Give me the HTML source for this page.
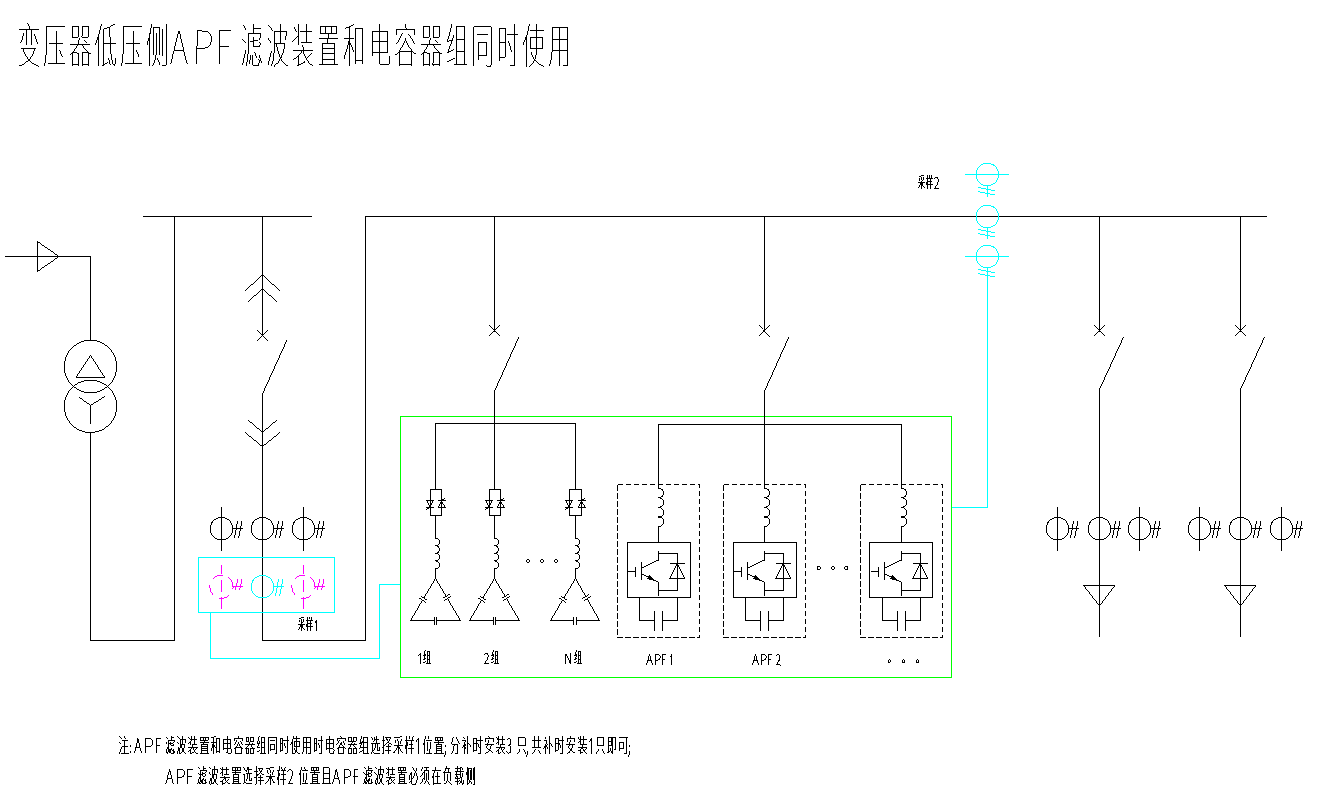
<!DOCTYPE html>
<html><head><meta charset="utf-8"><title>APF</title>
<style>html,body{margin:0;padding:0;background:#fff;font-family:"Liberation Sans",sans-serif}svg{display:block}</style>
</head><body>
<svg width="1323" height="811" viewBox="0 0 1323 811" shape-rendering="crispEdges" stroke="none">
<rect width="1323" height="811" fill="#fff"/>
<path fill="#0f0" d="M400 416h552v1h-552zM951 416h1v262h-1zM400 677h552v1h-552zM400 416h1v262h-1z"/>
<path fill="#000" d="M143 216h169v1h-169zM365 216h902v1h-902zM5 256h86v1h-86zM90 256h1v85h-1zM37 241h1v31h-1zM37.3 271.1l21.9-15.2v1l-21.9 15.2zM37.3 240.9l21.9 15.2v1l-21.9-15.2zM116.2 366.3h1l-0.1 2.6h-1zM116.1 368.5h1l-0.3 2.6h-1zM115.9 370.7h1l-0.6 2.6h-1zM115.4 372.9h1l-0.8 2.5h-1zM114.8 375h1l-1 2.5h-1zM114 377.1h1l-1.2 2.4h-1zM113 379.1h1l-1.4 2.3h-1zM111.9 381h1l-1.7 2.2h-1zM110.6 382.8h1l-1.9 2h-1zM107.6 385.9l2-2v1l-2 2zM105.9 387.2l2.1-1.7v1l-2.1 1.7zM104 388.4l2.3-1.5v1l-2.3 1.5zM102.1 389.5l2.3-1.3v1l-2.3 1.3zM100.1 390.4l2.4-1.1v1l-2.4 1.1zM98 391.1l2.5-0.9v1l-2.5 0.9zM95.8 391.7l2.6-0.7v1l-2.6 0.7zM93.6 392l2.6-0.4v1l-2.6 0.4zM91.4 392.2l2.6-0.2v1l-2.6 0.2zM89.1 392.2h2.8v1h-2.8zM87 392l2.6 0.2v1l-2.6-0.2zM84.8 391.6l2.6 0.4v1l-2.6-0.4zM82.6 391l2.6 0.7v1l-2.6-0.7zM80.5 390.2l2.5 0.9v1l-2.5-0.9zM78.5 389.3l2.4 1.1v1l-2.4-1.1zM76.6 388.2l2.3 1.3v1l-2.3-1.3zM74.7 386.9l2.3 1.5v1l-2.3-1.5zM73 385.5l2.1 1.7v1l-2.1-1.7zM71.4 383.9l2 2v1l-2-2zM69.4 382.8h1l1.9 2h-1zM68.1 381h1l1.7 2.2h-1zM67 379.1h1l1.4 2.3h-1zM66 377.1h1l1.2 2.4h-1zM65.2 375h1l1 2.5h-1zM64.6 372.9h1l0.8 2.5h-1zM64.1 370.7h1l0.6 2.6h-1zM63.9 368.5h1l0.3 2.6h-1zM63.8 366.3h1l0.1 2.6h-1zM63.9 364.1h1l-0.1 2.6h-1zM64.2 361.9h1l-0.3 2.6h-1zM64.7 359.7h1l-0.6 2.6h-1zM65.4 357.6h1l-0.8 2.5h-1zM66.2 355.5h1l-1 2.5h-1zM67.2 353.5h1l-1.2 2.4h-1zM68.4 351.6h1l-1.4 2.3h-1zM69.8 349.8h1l-1.7 2.2h-1zM71.3 348.2h1l-1.9 2h-1zM71.4 348.1l2-2v1l-2 2zM73 346.5l2.1-1.7v1l-2.1 1.7zM74.7 345.1l2.3-1.5v1l-2.3 1.5zM76.6 343.8l2.3-1.3v1l-2.3 1.3zM78.5 342.7l2.4-1.1v1l-2.4 1.1zM80.5 341.8l2.5-0.9v1l-2.5 0.9zM82.6 341l2.6-0.7v1l-2.6 0.7zM84.8 340.4l2.6-0.4v1l-2.6 0.4zM87 340l2.6-0.2v1l-2.6 0.2zM89.1 339.8h2.8v1h-2.8zM91.4 339.8l2.6 0.2v1l-2.6-0.2zM93.6 340l2.6 0.4v1l-2.6-0.4zM95.8 340.3l2.6 0.7v1l-2.6-0.7zM98 340.9l2.5 0.9v1l-2.5-0.9zM100.1 341.6l2.4 1.1v1l-2.4-1.1zM102.1 342.5l2.3 1.3v1l-2.3-1.3zM104 343.6l2.3 1.5v1l-2.3-1.5zM105.9 344.8l2.1 1.7v1l-2.1-1.7zM107.6 346.1l2 2v1l-2-2zM108.7 348.2h1l1.9 2h-1zM110.2 349.8h1l1.7 2.2h-1zM111.6 351.6h1l1.4 2.3h-1zM112.8 353.5h1l1.2 2.4h-1zM113.8 355.5h1l1 2.5h-1zM114.6 357.6h1l0.8 2.5h-1zM115.3 359.7h1l0.6 2.6h-1zM115.8 361.9h1l0.3 2.6h-1zM116.1 364.1h1l0.1 2.6h-1zM116.2 406.1h1l-0.1 2.6h-1zM116.1 408.3h1l-0.3 2.6h-1zM115.9 410.5h1l-0.6 2.6h-1zM115.4 412.7h1l-0.8 2.5h-1zM114.8 414.8h1l-1 2.5h-1zM114 416.9h1l-1.2 2.4h-1zM113 418.9h1l-1.4 2.3h-1zM111.9 420.8h1l-1.7 2.2h-1zM110.6 422.6h1l-1.9 2h-1zM107.6 425.7l2-2v1l-2 2zM105.9 427l2.1-1.7v1l-2.1 1.7zM104 428.2l2.3-1.5v1l-2.3 1.5zM102.1 429.3l2.3-1.3v1l-2.3 1.3zM100.1 430.2l2.4-1.1v1l-2.4 1.1zM98 430.9l2.5-0.9v1l-2.5 0.9zM95.8 431.5l2.6-0.7v1l-2.6 0.7zM93.6 431.8l2.6-0.4v1l-2.6 0.4zM91.4 432l2.6-0.2v1l-2.6 0.2zM89.1 432h2.8v1h-2.8zM87 431.8l2.6 0.2v1l-2.6-0.2zM84.8 431.4l2.6 0.4v1l-2.6-0.4zM82.6 430.8l2.6 0.7v1l-2.6-0.7zM80.5 430l2.5 0.9v1l-2.5-0.9zM78.5 429.1l2.4 1.1v1l-2.4-1.1zM76.6 428l2.3 1.3v1l-2.3-1.3zM74.7 426.7l2.3 1.5v1l-2.3-1.5zM73 425.3l2.1 1.7v1l-2.1-1.7zM71.4 423.7l2 2v1l-2-2zM69.4 422.6h1l1.9 2h-1zM68.1 420.8h1l1.7 2.2h-1zM67 418.9h1l1.4 2.3h-1zM66 416.9h1l1.2 2.4h-1zM65.2 414.8h1l1 2.5h-1zM64.6 412.7h1l0.8 2.5h-1zM64.1 410.5h1l0.6 2.6h-1zM63.9 408.3h1l0.3 2.6h-1zM63.8 406.1h1l0.1 2.6h-1zM63.9 403.9h1l-0.1 2.6h-1zM64.2 401.7h1l-0.3 2.6h-1zM64.7 399.5h1l-0.6 2.6h-1zM65.4 397.4h1l-0.8 2.5h-1zM66.2 395.3h1l-1 2.5h-1zM67.2 393.3h1l-1.2 2.4h-1zM68.4 391.4h1l-1.4 2.3h-1zM69.8 389.6h1l-1.7 2.2h-1zM71.3 388h1l-1.9 2h-1zM71.4 387.9l2-2v1l-2 2zM73 386.3l2.1-1.7v1l-2.1 1.7zM74.7 384.9l2.3-1.5v1l-2.3 1.5zM76.6 383.6l2.3-1.3v1l-2.3 1.3zM78.5 382.5l2.4-1.1v1l-2.4 1.1zM80.5 381.6l2.5-0.9v1l-2.5 0.9zM82.6 380.8l2.6-0.7v1l-2.6 0.7zM84.8 380.2l2.6-0.4v1l-2.6 0.4zM87 379.8l2.6-0.2v1l-2.6 0.2zM89.1 379.6h2.8v1h-2.8zM91.4 379.6l2.6 0.2v1l-2.6-0.2zM93.6 379.8l2.6 0.4v1l-2.6-0.4zM95.8 380.1l2.6 0.7v1l-2.6-0.7zM98 380.7l2.5 0.9v1l-2.5-0.9zM100.1 381.4l2.4 1.1v1l-2.4-1.1zM102.1 382.3l2.3 1.3v1l-2.3-1.3zM104 383.4l2.3 1.5v1l-2.3-1.5zM105.9 384.6l2.1 1.7v1l-2.1-1.7zM107.6 385.9l2 2v1l-2-2zM108.7 388h1l1.9 2h-1zM110.2 389.6h1l1.7 2.2h-1zM111.6 391.4h1l1.4 2.3h-1zM112.8 393.3h1l1.2 2.4h-1zM113.8 395.3h1l1 2.5h-1zM114.6 397.4h1l0.8 2.5h-1zM115.3 399.5h1l0.6 2.6h-1zM115.8 401.7h1l0.3 2.6h-1zM116.1 403.9h1l0.1 2.6h-1zM90.1 355.1h1l-14.7 22.6h-1zM75.5 377h29.8v1h-29.8zM89.9 355.1h1l14.5 22.6h-1zM78.8 396.4l11.9 8.7v1l-11.9-8.7zM90.3 405.1l14.9-9.3v1l-14.9 9.3zM90 405h1v19.2h-1zM90 431.8h1v209.2h-1zM90 640h85v1h-85zM174 216h1v425h-1zM262 216h1v119.5h-1zM256.7 328.9l11.6 11.6v1l-11.6-11.6zM256.7 340.5l11.6-11.6v1l-11.6 11.6zM244.8 290.5l17.9-16.2v1l-17.9 16.2zM262.3 274.3l17.9 16.2v1l-17.9-16.2zM247.8 301.3l14.9-13v1l-14.9 13zM262.3 288.3l14.9 13v1l-14.9-13zM286.6 339.8h1l-24.7 54.4h-1zM262 393.5h1v247.5h-1zM262 640h104v1h-104zM365 216h1v425h-1zM247.8 419.3l14.9 12.8v1l-14.9-12.8zM262.3 432.1l14.9-12.8v1l-14.9 12.8zM244.8 431.7l17.9 14.6v1l-17.9-14.6zM262.3 446.3l17.9-14.6v1l-17.9 14.6zM232.3 528.5h1l-0.2 2.6h-1zM232.1 530.7h1l-0.7 2.5h-1zM231.5 532.8h1l-1.2 2.4h-1zM230.6 534.8h1l-1.8 2.1h-1zM227.6 537.8l2.1-1.8v1l-2.1 1.8zM225.6 538.7l2.4-1.2v1l-2.4 1.2zM223.5 539.3l2.5-0.7v1l-2.5 0.7zM221.3 539.5l2.6-0.2v1l-2.6 0.2zM219.1 539.3l2.6 0.2v1l-2.6-0.2zM217 538.6l2.5 0.7v1l-2.5-0.7zM215 537.5l2.4 1.2v1l-2.4-1.2zM213.3 536l2.1 1.8v1l-2.1-1.8zM211.4 534.8h1l1.8 2.1h-1zM210.5 532.8h1l1.2 2.4h-1zM209.9 530.7h1l0.7 2.5h-1zM209.7 528.5h1l0.2 2.6h-1zM209.9 526.3h1l-0.2 2.6h-1zM210.6 524.2h1l-0.7 2.5h-1zM211.7 522.2h1l-1.2 2.4h-1zM213.2 520.5h1l-1.8 2.1h-1zM213.3 520.4l2.1-1.8v1l-2.1 1.8zM215 518.9l2.4-1.2v1l-2.4 1.2zM217 517.8l2.5-0.7v1l-2.5 0.7zM219.1 517.1l2.6-0.2v1l-2.6 0.2zM221.3 516.9l2.6 0.2v1l-2.6-0.2zM223.5 517.1l2.5 0.7v1l-2.5-0.7zM225.6 517.7l2.4 1.2v1l-2.4-1.2zM227.6 518.6l2.1 1.8v1l-2.1-1.8zM228.8 520.5h1l1.8 2.1h-1zM230.3 522.2h1l1.2 2.4h-1zM231.4 524.2h1l0.7 2.5h-1zM232.1 526.3h1l0.2 2.6h-1zM221 506.5h1v44h-1zM232.3 528h10.7v1h-10.7zM237.2 520.8h1l-3.2 17.1h-1zM241.4 520.8h1l-3.2 17.1h-1zM273.3 528.5h1l-0.2 2.6h-1zM273.1 530.7h1l-0.7 2.5h-1zM272.5 532.8h1l-1.2 2.4h-1zM271.6 534.8h1l-1.8 2.1h-1zM268.6 537.8l2.1-1.8v1l-2.1 1.8zM266.6 538.7l2.4-1.2v1l-2.4 1.2zM264.5 539.3l2.5-0.7v1l-2.5 0.7zM262.3 539.5l2.6-0.2v1l-2.6 0.2zM260.1 539.3l2.6 0.2v1l-2.6-0.2zM258 538.6l2.5 0.7v1l-2.5-0.7zM256 537.5l2.4 1.2v1l-2.4-1.2zM254.3 536l2.1 1.8v1l-2.1-1.8zM252.4 534.8h1l1.8 2.1h-1zM251.5 532.8h1l1.2 2.4h-1zM250.9 530.7h1l0.7 2.5h-1zM250.7 528.5h1l0.2 2.6h-1zM250.9 526.3h1l-0.2 2.6h-1zM251.6 524.2h1l-0.7 2.5h-1zM252.7 522.2h1l-1.2 2.4h-1zM254.2 520.5h1l-1.8 2.1h-1zM254.3 520.4l2.1-1.8v1l-2.1 1.8zM256 518.9l2.4-1.2v1l-2.4 1.2zM258 517.8l2.5-0.7v1l-2.5 0.7zM260.1 517.1l2.6-0.2v1l-2.6 0.2zM262.3 516.9l2.6 0.2v1l-2.6-0.2zM264.5 517.1l2.5 0.7v1l-2.5-0.7zM266.6 517.7l2.4 1.2v1l-2.4-1.2zM268.6 518.6l2.1 1.8v1l-2.1-1.8zM269.8 520.5h1l1.8 2.1h-1zM271.3 522.2h1l1.2 2.4h-1zM272.4 524.2h1l0.7 2.5h-1zM273.1 526.3h1l0.2 2.6h-1zM273.3 528h10.7v1h-10.7zM278.2 520.8h1l-3.2 17.1h-1zM282.4 520.8h1l-3.2 17.1h-1zM314.3 528.5h1l-0.2 2.6h-1zM314.1 530.7h1l-0.7 2.5h-1zM313.5 532.8h1l-1.2 2.4h-1zM312.6 534.8h1l-1.8 2.1h-1zM309.6 537.8l2.1-1.8v1l-2.1 1.8zM307.6 538.7l2.4-1.2v1l-2.4 1.2zM305.5 539.3l2.5-0.7v1l-2.5 0.7zM303.3 539.5l2.6-0.2v1l-2.6 0.2zM301.1 539.3l2.6 0.2v1l-2.6-0.2zM299 538.6l2.5 0.7v1l-2.5-0.7zM297 537.5l2.4 1.2v1l-2.4-1.2zM295.3 536l2.1 1.8v1l-2.1-1.8zM293.4 534.8h1l1.8 2.1h-1zM292.5 532.8h1l1.2 2.4h-1zM291.9 530.7h1l0.7 2.5h-1zM291.7 528.5h1l0.2 2.6h-1zM291.9 526.3h1l-0.2 2.6h-1zM292.6 524.2h1l-0.7 2.5h-1zM293.7 522.2h1l-1.2 2.4h-1zM295.2 520.5h1l-1.8 2.1h-1zM295.3 520.4l2.1-1.8v1l-2.1 1.8zM297 518.9l2.4-1.2v1l-2.4 1.2zM299 517.8l2.5-0.7v1l-2.5 0.7zM301.1 517.1l2.6-0.2v1l-2.6 0.2zM303.3 516.9l2.6 0.2v1l-2.6-0.2zM305.5 517.1l2.5 0.7v1l-2.5-0.7zM307.6 517.7l2.4 1.2v1l-2.4-1.2zM309.6 518.6l2.1 1.8v1l-2.1-1.8zM310.8 520.5h1l1.8 2.1h-1zM312.3 522.2h1l1.2 2.4h-1zM313.4 524.2h1l0.7 2.5h-1zM314.1 526.3h1l0.2 2.6h-1zM303 506.5h1v44h-1zM314.3 528h10.7v1h-10.7zM319.2 520.8h1l-3.2 17.1h-1zM323.4 520.8h1l-3.2 17.1h-1zM494 216h1v115.5h-1zM488.9 324.9l11.2 11.2v1l-11.2-11.2zM488.9 336.1l11.2-11.2v1l-11.2 11.2zM518.3 337.1h1l-24.4 54.4h-1zM494 390.8h1v99.2h-1zM435 423h1v67h-1zM435 423h141v1h-141zM575 423h1v67h-1zM430 489h12v1h-12zM441 489h1v27h-1zM430 515h12v1h-12zM430 489h1v27h-1zM426 500h8v1h-8zM433.1 500.3h1l-3.7 6.4h-1zM425.9 500.3h1l3.7 6.4h-1zM426 507h8v1h-8zM425.8 509.4l3.9-2.5v1l-3.9 2.5zM438 500h8v1h-8zM441.1 501.3h1l-3.2 6.4h-1zM438 507h8v1h-8zM440.9 501.3h1l4.2 6.4h-1zM442.3 499.6l2.9-2v1l-2.9 2zM435 515h1v23.5h-1zM435.3 537.5l1.4 0.2v1l-1.4-0.2zM436.3 537.6l1.4 0.5v1l-1.4-0.5zM437.3 537.9l1.2 0.9v1l-1.2-0.9zM437.7 538.9h1l0.9 1.2h-1zM438.4 539.7h1l0.6 1.3h-1zM438.8 540.6h1l0.2 1.4h-1zM439 541.6h1l-0.2 1.4h-1zM439 542.6h1l-0.6 1.3h-1zM438.6 543.5h1l-0.9 1.2h-1zM437.3 544.8l1.2-0.9v1l-1.2 0.9zM436.3 545.1l1.4-0.5v1l-1.4 0.5zM435.3 545.2l1.4-0.2v1l-1.4 0.2zM435.3 545.1l1.4 0.2v1l-1.4-0.2zM436.3 545.2l1.4 0.5v1l-1.4-0.5zM437.3 545.5l1.2 0.9v1l-1.2-0.9zM437.7 546.6h1l0.9 1.2h-1zM438.4 547.4h1l0.6 1.3h-1zM438.8 548.3h1l0.2 1.4h-1zM439 549.3h1l-0.2 1.4h-1zM439 550.3h1l-0.6 1.3h-1zM438.6 551.2h1l-0.9 1.2h-1zM437.3 552.4l1.2-0.9v1l-1.2 0.9zM436.3 552.7l1.4-0.5v1l-1.4 0.5zM435.3 552.8l1.4-0.2v1l-1.4 0.2zM435.3 552.8l1.4 0.2v1l-1.4-0.2zM436.3 552.9l1.4 0.5v1l-1.4-0.5zM437.3 553.2l1.2 0.9v1l-1.2-0.9zM437.7 554.2h1l0.9 1.2h-1zM438.4 555h1l0.6 1.3h-1zM438.8 555.9h1l0.2 1.4h-1zM439 556.9h1l-0.2 1.4h-1zM439 557.9h1l-0.6 1.3h-1zM438.6 558.8h1l-0.9 1.2h-1zM437.3 560.1l1.2-0.9v1l-1.2 0.9zM436.3 560.4l1.4-0.5v1l-1.4 0.5zM435.3 560.5l1.4-0.2v1l-1.4 0.2zM435.3 560.4l1.4 0.2v1l-1.4-0.2zM436.3 560.5l1.4 0.5v1l-1.4-0.5zM437.3 560.8l1.2 0.9v1l-1.2-0.9zM437.7 561.9h1l0.9 1.2h-1zM438.4 562.7h1l0.6 1.3h-1zM438.8 563.6h1l0.2 1.4h-1zM439 564.6h1l-0.2 1.4h-1zM439 565.6h1l-0.6 1.3h-1zM438.6 566.5h1l-0.9 1.2h-1zM437.3 567.7l1.2-0.9v1l-1.2 0.9zM436.3 568l1.4-0.5v1l-1.4 0.5zM435.3 568.1l1.4-0.2v1l-1.4 0.2zM435 568.1h1v10.9h-1zM410 620h25v1h-25zM436 620h25v1h-25zM434 616.5h1v8h-1zM436 616.5h1v8h-1zM435.1 578.3h1l-11.9 20h-1zM422.2 600h1l-12.3 20.7h-1zM420.5 595.6l6.7 4v1l-6.7-4zM419.2 597.7l6.7 4.1v1l-6.7-4.1zM434.9 578.3h1l10.9 18.3h-1zM446.8 598.3h1l13.3 22.4h-1zM442.8 597.9l6.7-4v1l-6.7 4zM444 600l6.8-4v1l-6.8 4zM489 489h12v1h-12zM500 489h1v27h-1zM489 515h12v1h-12zM489 489h1v27h-1zM485 500h8v1h-8zM492.1 500.3h1l-3.7 6.4h-1zM484.9 500.3h1l3.7 6.4h-1zM485 507h8v1h-8zM484.8 509.4l3.9-2.5v1l-3.9 2.5zM497 500h8v1h-8zM500.1 501.3h1l-3.2 6.4h-1zM497 507h8v1h-8zM499.9 501.3h1l4.2 6.4h-1zM501.3 499.6l2.9-2v1l-2.9 2zM494 515h1v23.5h-1zM494.3 537.5l1.4 0.2v1l-1.4-0.2zM495.3 537.6l1.4 0.5v1l-1.4-0.5zM496.3 537.9l1.2 0.9v1l-1.2-0.9zM496.7 538.9h1l0.9 1.2h-1zM497.4 539.7h1l0.6 1.3h-1zM497.8 540.6h1l0.2 1.4h-1zM498 541.6h1l-0.2 1.4h-1zM498 542.6h1l-0.6 1.3h-1zM497.6 543.5h1l-0.9 1.2h-1zM496.3 544.8l1.2-0.9v1l-1.2 0.9zM495.3 545.1l1.4-0.5v1l-1.4 0.5zM494.3 545.2l1.4-0.2v1l-1.4 0.2zM494.3 545.1l1.4 0.2v1l-1.4-0.2zM495.3 545.2l1.4 0.5v1l-1.4-0.5zM496.3 545.5l1.2 0.9v1l-1.2-0.9zM496.7 546.6h1l0.9 1.2h-1zM497.4 547.4h1l0.6 1.3h-1zM497.8 548.3h1l0.2 1.4h-1zM498 549.3h1l-0.2 1.4h-1zM498 550.3h1l-0.6 1.3h-1zM497.6 551.2h1l-0.9 1.2h-1zM496.3 552.4l1.2-0.9v1l-1.2 0.9zM495.3 552.7l1.4-0.5v1l-1.4 0.5zM494.3 552.8l1.4-0.2v1l-1.4 0.2zM494.3 552.8l1.4 0.2v1l-1.4-0.2zM495.3 552.9l1.4 0.5v1l-1.4-0.5zM496.3 553.2l1.2 0.9v1l-1.2-0.9zM496.7 554.2h1l0.9 1.2h-1zM497.4 555h1l0.6 1.3h-1zM497.8 555.9h1l0.2 1.4h-1zM498 556.9h1l-0.2 1.4h-1zM498 557.9h1l-0.6 1.3h-1zM497.6 558.8h1l-0.9 1.2h-1zM496.3 560.1l1.2-0.9v1l-1.2 0.9zM495.3 560.4l1.4-0.5v1l-1.4 0.5zM494.3 560.5l1.4-0.2v1l-1.4 0.2zM494.3 560.4l1.4 0.2v1l-1.4-0.2zM495.3 560.5l1.4 0.5v1l-1.4-0.5zM496.3 560.8l1.2 0.9v1l-1.2-0.9zM496.7 561.9h1l0.9 1.2h-1zM497.4 562.7h1l0.6 1.3h-1zM497.8 563.6h1l0.2 1.4h-1zM498 564.6h1l-0.2 1.4h-1zM498 565.6h1l-0.6 1.3h-1zM497.6 566.5h1l-0.9 1.2h-1zM496.3 567.7l1.2-0.9v1l-1.2 0.9zM495.3 568l1.4-0.5v1l-1.4 0.5zM494.3 568.1l1.4-0.2v1l-1.4 0.2zM494 568.1h1v10.9h-1zM469 620h25v1h-25zM495 620h25v1h-25zM493 616.5h1v8h-1zM495 616.5h1v8h-1zM494.1 578.3h1l-11.9 20h-1zM481.2 600h1l-12.3 20.7h-1zM479.5 595.6l6.7 4v1l-6.7-4zM478.2 597.7l6.7 4.1v1l-6.7-4.1zM493.9 578.3h1l10.9 18.3h-1zM505.8 598.3h1l13.3 22.4h-1zM501.8 597.9l6.7-4v1l-6.7 4zM503 600l6.8-4v1l-6.8 4zM569 489h13v1h-13zM581 489h1v27h-1zM569 515h13v1h-13zM569 489h1v27h-1zM565 500h8v1h-8zM572.1 500.3h1l-3.7 6.4h-1zM564.9 500.3h1l3.7 6.4h-1zM565 507h8v1h-8zM564.8 509.4l3.9-2.5v1l-3.9 2.5zM578 500h8v1h-8zM581.1 501.3h1l-3.2 6.4h-1zM578 507h8v1h-8zM580.9 501.3h1l4.2 6.4h-1zM582.3 499.6l2.9-2v1l-2.9 2zM575 515h1v23.5h-1zM575.3 537.5l1.4 0.2v1l-1.4-0.2zM576.3 537.6l1.4 0.5v1l-1.4-0.5zM577.3 537.9l1.2 0.9v1l-1.2-0.9zM577.7 538.9h1l0.9 1.2h-1zM578.4 539.7h1l0.6 1.3h-1zM578.8 540.6h1l0.2 1.4h-1zM579 541.6h1l-0.2 1.4h-1zM579 542.6h1l-0.6 1.3h-1zM578.6 543.5h1l-0.9 1.2h-1zM577.3 544.8l1.2-0.9v1l-1.2 0.9zM576.3 545.1l1.4-0.5v1l-1.4 0.5zM575.3 545.2l1.4-0.2v1l-1.4 0.2zM575.3 545.1l1.4 0.2v1l-1.4-0.2zM576.3 545.2l1.4 0.5v1l-1.4-0.5zM577.3 545.5l1.2 0.9v1l-1.2-0.9zM577.7 546.6h1l0.9 1.2h-1zM578.4 547.4h1l0.6 1.3h-1zM578.8 548.3h1l0.2 1.4h-1zM579 549.3h1l-0.2 1.4h-1zM579 550.3h1l-0.6 1.3h-1zM578.6 551.2h1l-0.9 1.2h-1zM577.3 552.4l1.2-0.9v1l-1.2 0.9zM576.3 552.7l1.4-0.5v1l-1.4 0.5zM575.3 552.8l1.4-0.2v1l-1.4 0.2zM575.3 552.8l1.4 0.2v1l-1.4-0.2zM576.3 552.9l1.4 0.5v1l-1.4-0.5zM577.3 553.2l1.2 0.9v1l-1.2-0.9zM577.7 554.2h1l0.9 1.2h-1zM578.4 555h1l0.6 1.3h-1zM578.8 555.9h1l0.2 1.4h-1zM579 556.9h1l-0.2 1.4h-1zM579 557.9h1l-0.6 1.3h-1zM578.6 558.8h1l-0.9 1.2h-1zM577.3 560.1l1.2-0.9v1l-1.2 0.9zM576.3 560.4l1.4-0.5v1l-1.4 0.5zM575.3 560.5l1.4-0.2v1l-1.4 0.2zM575.3 560.4l1.4 0.2v1l-1.4-0.2zM576.3 560.5l1.4 0.5v1l-1.4-0.5zM577.3 560.8l1.2 0.9v1l-1.2-0.9zM577.7 561.9h1l0.9 1.2h-1zM578.4 562.7h1l0.6 1.3h-1zM578.8 563.6h1l0.2 1.4h-1zM579 564.6h1l-0.2 1.4h-1zM579 565.6h1l-0.6 1.3h-1zM578.6 566.5h1l-0.9 1.2h-1zM577.3 567.7l1.2-0.9v1l-1.2 0.9zM576.3 568l1.4-0.5v1l-1.4 0.5zM575.3 568.1l1.4-0.2v1l-1.4 0.2zM575 568.1h1v10.9h-1zM550 620h24v1h-24zM576 620h24v1h-24zM573 616.5h1v8h-1zM576 616.5h1v8h-1zM575.1 578.3h1l-11.9 20h-1zM562.2 600h1l-12.3 20.7h-1zM560.5 595.6l6.7 4v1l-6.7-4zM559.2 597.7l6.7 4.1v1l-6.7-4.1zM574.9 578.3h1l10.5 18.5h-1zM586.4 598.5h1l12.7 22.2h-1zM582.4 598l6.8-3.9v1l-6.8 3.9zM583.6 600.2l6.9-3.9v1l-6.9 3.9zM529 560.6h1l-0.7 1.5h-1zM527.6 562l1.5-0.7v1l-1.5 0.7zM526.5 561.3l1.5 0.7v1l-1.5-0.7zM525.6 560.6h1l0.7 1.5h-1zM526.3 559.5h1l-0.7 1.5h-1zM526.5 559.3l1.5-0.7v1l-1.5 0.7zM527.6 558.6l1.5 0.7v1l-1.5-0.7zM528.3 559.5h1l0.7 1.5h-1zM543.1 560.6h1l-0.7 1.5h-1zM541.7 562l1.5-0.7v1l-1.5 0.7zM540.6 561.3l1.5 0.7v1l-1.5-0.7zM539.7 560.6h1l0.7 1.5h-1zM540.4 559.5h1l-0.7 1.5h-1zM540.6 559.3l1.5-0.7v1l-1.5 0.7zM541.7 558.6l1.5 0.7v1l-1.5-0.7zM542.4 559.5h1l0.7 1.5h-1zM557.1 560.6h1l-0.7 1.5h-1zM555.7 562l1.5-0.7v1l-1.5 0.7zM554.6 561.3l1.5 0.7v1l-1.5-0.7zM553.7 560.6h1l0.7 1.5h-1zM554.4 559.5h1l-0.7 1.5h-1zM554.6 559.3l1.5-0.7v1l-1.5 0.7zM555.7 558.6l1.5 0.7v1l-1.5-0.7zM556.4 559.5h1l0.7 1.5h-1zM819.9 567.8h1l-0.7 1.5h-1zM818.5 569.2l1.5-0.7v1l-1.5 0.7zM817.4 568.5l1.5 0.7v1l-1.5-0.7zM816.5 567.8h1l0.7 1.5h-1zM817.2 566.7h1l-0.7 1.5h-1zM817.4 566.5l1.5-0.7v1l-1.5 0.7zM818.5 565.8l1.5 0.7v1l-1.5-0.7zM819.2 566.7h1l0.7 1.5h-1zM834 567.8h1l-0.7 1.5h-1zM832.6 569.2l1.5-0.7v1l-1.5 0.7zM831.5 568.5l1.5 0.7v1l-1.5-0.7zM830.6 567.8h1l0.7 1.5h-1zM831.3 566.7h1l-0.7 1.5h-1zM831.5 566.5l1.5-0.7v1l-1.5 0.7zM832.6 565.8l1.5 0.7v1l-1.5-0.7zM833.3 566.7h1l0.7 1.5h-1zM847.5 567.8h1l-0.7 1.5h-1zM846.1 569.2l1.5-0.7v1l-1.5 0.7zM845 568.5l1.5 0.7v1l-1.5-0.7zM844.1 567.8h1l0.7 1.5h-1zM844.8 566.7h1l-0.7 1.5h-1zM845 566.5l1.5-0.7v1l-1.5 0.7zM846.1 565.8l1.5 0.7v1l-1.5-0.7zM846.8 566.7h1l0.7 1.5h-1zM890.2 661h1l-0.6 1.3h-1zM889.1 662.1l1.3-0.6v1l-1.3 0.6zM888.2 661.5l1.3 0.6v1l-1.3-0.6zM887.4 661h1l0.6 1.3h-1zM888 660.1h1l-0.6 1.3h-1zM888.2 659.9l1.3-0.6v1l-1.3 0.6zM889.1 659.3l1.3 0.6v1l-1.3-0.6zM889.6 660.1h1l0.6 1.3h-1zM904.4 661h1l-0.6 1.3h-1zM903.3 662.1l1.3-0.6v1l-1.3 0.6zM902.4 661.5l1.3 0.6v1l-1.3-0.6zM901.6 661h1l0.6 1.3h-1zM902.2 660.1h1l-0.6 1.3h-1zM902.4 659.9l1.3-0.6v1l-1.3 0.6zM903.3 659.3l1.3 0.6v1l-1.3-0.6zM903.8 660.1h1l0.6 1.3h-1zM918.4 661h1l-0.6 1.3h-1zM917.3 662.1l1.3-0.6v1l-1.3 0.6zM916.4 661.5l1.3 0.6v1l-1.3-0.6zM915.6 661h1l0.6 1.3h-1zM916.2 660.1h1l-0.6 1.3h-1zM916.4 659.9l1.3-0.6v1l-1.3 0.6zM917.3 659.3l1.3 0.6v1l-1.3-0.6zM917.8 660.1h1l0.6 1.3h-1zM764 216h1v115.5h-1zM758.9 324.9l11.2 11.2v1l-11.2-11.2zM758.9 336.1l11.2-11.2v1l-11.2 11.2zM788.3 337.1h1l-24.4 54.4h-1zM764 390.8h1v97.9h-1zM658 424h1v64.7h-1zM658 424h244v1h-244zM901 424h1v64.7h-1zM617.5 484h5.3v1h-5.3zM625.5 484h5.3v1h-5.3zM633.5 484h5.3v1h-5.3zM641.5 484h5.3v1h-5.3zM649.5 484h5.3v1h-5.3zM657.5 484h5.3v1h-5.3zM665.5 484h5.3v1h-5.3zM673.5 484h5.3v1h-5.3zM681.5 484h5.3v1h-5.3zM689.5 484h5.3v1h-5.3zM697.5 484h2v1h-2zM699 484.5h1v3.3h-1zM699 490.5h1v5.3h-1zM699 498.5h1v5.3h-1zM699 506.5h1v5.3h-1zM699 514.5h1v5.3h-1zM699 522.5h1v5.3h-1zM699 530.5h1v5.3h-1zM699 538.5h1v5.3h-1zM699 546.5h1v5.3h-1zM699 554.5h1v5.3h-1zM699 562.5h1v5.3h-1zM699 570.5h1v5.3h-1zM699 578.5h1v5.3h-1zM699 586.5h1v5.3h-1zM699 594.5h1v5.3h-1zM699 602.5h1v5.3h-1zM699 610.5h1v5.3h-1zM699 618.5h1v5.3h-1zM699 626.5h1v5.3h-1zM699 634.5h1v3h-1zM697.2 637h2.3v1h-2.3zM689.2 637h5.3v1h-5.3zM681.2 637h5.3v1h-5.3zM673.2 637h5.3v1h-5.3zM665.2 637h5.3v1h-5.3zM657.2 637h5.3v1h-5.3zM649.2 637h5.3v1h-5.3zM641.2 637h5.3v1h-5.3zM633.2 637h5.3v1h-5.3zM625.2 637h5.3v1h-5.3zM617.5 637h5v1h-5zM617 637.2h1v0.3h-1zM617 629.2h1v5.3h-1zM617 621.2h1v5.3h-1zM617 613.2h1v5.3h-1zM617 605.2h1v5.3h-1zM617 597.2h1v5.3h-1zM617 589.2h1v5.3h-1zM617 581.2h1v5.3h-1zM617 573.2h1v5.3h-1zM617 565.2h1v5.3h-1zM617 557.2h1v5.3h-1zM617 549.2h1v5.3h-1zM617 541.2h1v5.3h-1zM617 533.2h1v5.3h-1zM617 525.2h1v5.3h-1zM617 517.2h1v5.3h-1zM617 509.2h1v5.3h-1zM617 501.2h1v5.3h-1zM617 493.2h1v5.3h-1zM617 485.2h1v5.3h-1zM658.3 487.7l1.7 0.2v1l-1.7-0.2zM659.6 487.8l1.7 0.6v1l-1.7-0.6zM660.9 488.2l1.5 1v1l-1.5-1zM661.5 489.4h1l1.2 1.4h-1zM662.4 490.4h1l0.7 1.6h-1zM663 491.6h1l0.2 1.6h-1zM663.2 492.8h1l-0.2 1.6h-1zM663.1 494h1l-0.7 1.6h-1zM662.7 495.2h1l-1.2 1.4h-1zM660.9 496.8l1.5-1v1l-1.5 1zM659.6 497.2l1.7-0.6v1l-1.7 0.6zM658.3 497.3l1.7-0.2v1l-1.7 0.2zM658.3 497.3l1.7 0.2v1l-1.7-0.2zM659.6 497.4l1.7 0.6v1l-1.7-0.6zM660.9 497.8l1.5 1v1l-1.5-1zM661.5 499h1l1.2 1.4h-1zM662.4 500h1l0.7 1.6h-1zM663 501.2h1l0.2 1.6h-1zM663.2 502.4h1l-0.2 1.6h-1zM663.1 503.6h1l-0.7 1.6h-1zM662.7 504.8h1l-1.2 1.4h-1zM660.9 506.4l1.5-1v1l-1.5 1zM659.6 506.8l1.7-0.6v1l-1.7 0.6zM658.3 506.9l1.7-0.2v1l-1.7 0.2zM658.3 506.9l1.7 0.2v1l-1.7-0.2zM659.6 507l1.7 0.6v1l-1.7-0.6zM660.9 507.4l1.5 1v1l-1.5-1zM661.5 508.6h1l1.2 1.4h-1zM662.4 509.6h1l0.7 1.6h-1zM663 510.8h1l0.2 1.6h-1zM663.2 512h1l-0.2 1.6h-1zM663.1 513.2h1l-0.7 1.6h-1zM662.7 514.4h1l-1.2 1.4h-1zM660.9 516l1.5-1v1l-1.5 1zM659.6 516.4l1.7-0.6v1l-1.7 0.6zM658.3 516.5l1.7-0.2v1l-1.7 0.2zM658.3 516.5l1.7 0.2v1l-1.7-0.2zM659.6 516.6l1.7 0.6v1l-1.7-0.6zM660.9 517l1.5 1v1l-1.5-1zM661.5 518.2h1l1.2 1.4h-1zM662.4 519.2h1l0.7 1.6h-1zM663 520.4h1l0.2 1.6h-1zM663.2 521.6h1l-0.2 1.6h-1zM663.1 522.8h1l-0.7 1.6h-1zM662.7 524h1l-1.2 1.4h-1zM660.9 525.6l1.5-1v1l-1.5 1zM659.6 526l1.7-0.6v1l-1.7 0.6zM658.3 526.1l1.7-0.2v1l-1.7 0.2zM658 526.1h1v16.9h-1zM627 542h64v1h-64zM690 542h1v56h-1zM627 597h64v1h-64zM627 542h1v56h-1zM628 571h8v1h-8zM635 566.5h1v10.2h-1zM641 561.8h1v18.5h-1zM641.3 568l17.4-8.6v1l-17.4 8.6zM658 550.7h1v9.8h-1zM658 553h20v1h-20zM677 553h1v38h-1zM658 590h20v1h-20zM641.3 573.2l17.4 8.4v1l-17.4-8.4zM658 581.5h1v14.8h-1zM647.1 578.9l2.2-4.3l6.4 6.6zM669.5 563h15.5v1h-15.5zM677.1 563.3h1l-7.7 15.4h-1zM669.5 578h15.5v1h-15.5zM676.9 563.3h1l7.2 15.4h-1zM639 597h1v24h-1zM639 620h16v1h-16zM677 597h1v24h-1zM662 620h16v1h-16zM654 610.5h1v20.8h-1zM662 610.5h1v20.8h-1zM723.5 484h5.3v1h-5.3zM731.5 484h5.3v1h-5.3zM739.5 484h5.3v1h-5.3zM747.5 484h5.3v1h-5.3zM755.5 484h5.3v1h-5.3zM763.5 484h5.3v1h-5.3zM771.5 484h5.3v1h-5.3zM779.5 484h5.3v1h-5.3zM787.5 484h5.3v1h-5.3zM795.5 484h5.3v1h-5.3zM803.5 484h2v1h-2zM805 484.5h1v3.3h-1zM805 490.5h1v5.3h-1zM805 498.5h1v5.3h-1zM805 506.5h1v5.3h-1zM805 514.5h1v5.3h-1zM805 522.5h1v5.3h-1zM805 530.5h1v5.3h-1zM805 538.5h1v5.3h-1zM805 546.5h1v5.3h-1zM805 554.5h1v5.3h-1zM805 562.5h1v5.3h-1zM805 570.5h1v5.3h-1zM805 578.5h1v5.3h-1zM805 586.5h1v5.3h-1zM805 594.5h1v5.3h-1zM805 602.5h1v5.3h-1zM805 610.5h1v5.3h-1zM805 618.5h1v5.3h-1zM805 626.5h1v5.3h-1zM805 634.5h1v3h-1zM803.2 637h2.3v1h-2.3zM795.2 637h5.3v1h-5.3zM787.2 637h5.3v1h-5.3zM779.2 637h5.3v1h-5.3zM771.2 637h5.3v1h-5.3zM763.2 637h5.3v1h-5.3zM755.2 637h5.3v1h-5.3zM747.2 637h5.3v1h-5.3zM739.2 637h5.3v1h-5.3zM731.2 637h5.3v1h-5.3zM723.5 637h5v1h-5zM723 637.2h1v0.3h-1zM723 629.2h1v5.3h-1zM723 621.2h1v5.3h-1zM723 613.2h1v5.3h-1zM723 605.2h1v5.3h-1zM723 597.2h1v5.3h-1zM723 589.2h1v5.3h-1zM723 581.2h1v5.3h-1zM723 573.2h1v5.3h-1zM723 565.2h1v5.3h-1zM723 557.2h1v5.3h-1zM723 549.2h1v5.3h-1zM723 541.2h1v5.3h-1zM723 533.2h1v5.3h-1zM723 525.2h1v5.3h-1zM723 517.2h1v5.3h-1zM723 509.2h1v5.3h-1zM723 501.2h1v5.3h-1zM723 493.2h1v5.3h-1zM723 485.2h1v5.3h-1zM764.3 487.7l1.7 0.2v1l-1.7-0.2zM765.6 487.8l1.7 0.6v1l-1.7-0.6zM766.9 488.2l1.5 1v1l-1.5-1zM767.5 489.4h1l1.2 1.4h-1zM768.4 490.4h1l0.7 1.6h-1zM769 491.6h1l0.2 1.6h-1zM769.2 492.8h1l-0.2 1.6h-1zM769.1 494h1l-0.7 1.6h-1zM768.7 495.2h1l-1.2 1.4h-1zM766.9 496.8l1.5-1v1l-1.5 1zM765.6 497.2l1.7-0.6v1l-1.7 0.6zM764.3 497.3l1.7-0.2v1l-1.7 0.2zM764.3 497.3l1.7 0.2v1l-1.7-0.2zM765.6 497.4l1.7 0.6v1l-1.7-0.6zM766.9 497.8l1.5 1v1l-1.5-1zM767.5 499h1l1.2 1.4h-1zM768.4 500h1l0.7 1.6h-1zM769 501.2h1l0.2 1.6h-1zM769.2 502.4h1l-0.2 1.6h-1zM769.1 503.6h1l-0.7 1.6h-1zM768.7 504.8h1l-1.2 1.4h-1zM766.9 506.4l1.5-1v1l-1.5 1zM765.6 506.8l1.7-0.6v1l-1.7 0.6zM764.3 506.9l1.7-0.2v1l-1.7 0.2zM764.3 506.9l1.7 0.2v1l-1.7-0.2zM765.6 507l1.7 0.6v1l-1.7-0.6zM766.9 507.4l1.5 1v1l-1.5-1zM767.5 508.6h1l1.2 1.4h-1zM768.4 509.6h1l0.7 1.6h-1zM769 510.8h1l0.2 1.6h-1zM769.2 512h1l-0.2 1.6h-1zM769.1 513.2h1l-0.7 1.6h-1zM768.7 514.4h1l-1.2 1.4h-1zM766.9 516l1.5-1v1l-1.5 1zM765.6 516.4l1.7-0.6v1l-1.7 0.6zM764.3 516.5l1.7-0.2v1l-1.7 0.2zM764.3 516.5l1.7 0.2v1l-1.7-0.2zM765.6 516.6l1.7 0.6v1l-1.7-0.6zM766.9 517l1.5 1v1l-1.5-1zM767.5 518.2h1l1.2 1.4h-1zM768.4 519.2h1l0.7 1.6h-1zM769 520.4h1l0.2 1.6h-1zM769.2 521.6h1l-0.2 1.6h-1zM769.1 522.8h1l-0.7 1.6h-1zM768.7 524h1l-1.2 1.4h-1zM766.9 525.6l1.5-1v1l-1.5 1zM765.6 526l1.7-0.6v1l-1.7 0.6zM764.3 526.1l1.7-0.2v1l-1.7 0.2zM764 526.1h1v16.9h-1zM733 542h64v1h-64zM796 542h1v56h-1zM733 597h64v1h-64zM733 542h1v56h-1zM734 571h8v1h-8zM741 566.5h1v10.2h-1zM747 561.8h1v18.5h-1zM747.3 568l17.4-8.6v1l-17.4 8.6zM764 550.7h1v9.8h-1zM764 553h20v1h-20zM783 553h1v38h-1zM764 590h20v1h-20zM747.3 573.2l17.4 8.4v1l-17.4-8.4zM764 581.5h1v14.8h-1zM753.1 578.9l2.2-4.3l6.4 6.6zM775.5 563h15.5v1h-15.5zM783.1 563.3h1l-7.7 15.4h-1zM775.5 578h15.5v1h-15.5zM782.9 563.3h1l7.2 15.4h-1zM745 597h1v24h-1zM745 620h16v1h-16zM783 597h1v24h-1zM768 620h16v1h-16zM760 610.5h1v20.8h-1zM768 610.5h1v20.8h-1zM860.5 484h5.3v1h-5.3zM868.5 484h5.3v1h-5.3zM876.5 484h5.3v1h-5.3zM884.5 484h5.3v1h-5.3zM892.5 484h5.3v1h-5.3zM900.5 484h5.3v1h-5.3zM908.5 484h5.3v1h-5.3zM916.5 484h5.3v1h-5.3zM924.5 484h5.3v1h-5.3zM932.5 484h5.3v1h-5.3zM940.5 484h2v1h-2zM942 484.5h1v3.3h-1zM942 490.5h1v5.3h-1zM942 498.5h1v5.3h-1zM942 506.5h1v5.3h-1zM942 514.5h1v5.3h-1zM942 522.5h1v5.3h-1zM942 530.5h1v5.3h-1zM942 538.5h1v5.3h-1zM942 546.5h1v5.3h-1zM942 554.5h1v5.3h-1zM942 562.5h1v5.3h-1zM942 570.5h1v5.3h-1zM942 578.5h1v5.3h-1zM942 586.5h1v5.3h-1zM942 594.5h1v5.3h-1zM942 602.5h1v5.3h-1zM942 610.5h1v5.3h-1zM942 618.5h1v5.3h-1zM942 626.5h1v5.3h-1zM942 634.5h1v3h-1zM940.2 637h2.3v1h-2.3zM932.2 637h5.3v1h-5.3zM924.2 637h5.3v1h-5.3zM916.2 637h5.3v1h-5.3zM908.2 637h5.3v1h-5.3zM900.2 637h5.3v1h-5.3zM892.2 637h5.3v1h-5.3zM884.2 637h5.3v1h-5.3zM876.2 637h5.3v1h-5.3zM868.2 637h5.3v1h-5.3zM860.5 637h5v1h-5zM860 637.2h1v0.3h-1zM860 629.2h1v5.3h-1zM860 621.2h1v5.3h-1zM860 613.2h1v5.3h-1zM860 605.2h1v5.3h-1zM860 597.2h1v5.3h-1zM860 589.2h1v5.3h-1zM860 581.2h1v5.3h-1zM860 573.2h1v5.3h-1zM860 565.2h1v5.3h-1zM860 557.2h1v5.3h-1zM860 549.2h1v5.3h-1zM860 541.2h1v5.3h-1zM860 533.2h1v5.3h-1zM860 525.2h1v5.3h-1zM860 517.2h1v5.3h-1zM860 509.2h1v5.3h-1zM860 501.2h1v5.3h-1zM860 493.2h1v5.3h-1zM860 485.2h1v5.3h-1zM901.3 487.7l1.7 0.2v1l-1.7-0.2zM902.6 487.8l1.7 0.6v1l-1.7-0.6zM903.9 488.2l1.5 1v1l-1.5-1zM904.5 489.4h1l1.2 1.4h-1zM905.4 490.4h1l0.7 1.6h-1zM906 491.6h1l0.2 1.6h-1zM906.2 492.8h1l-0.2 1.6h-1zM906.1 494h1l-0.7 1.6h-1zM905.7 495.2h1l-1.2 1.4h-1zM903.9 496.8l1.5-1v1l-1.5 1zM902.6 497.2l1.7-0.6v1l-1.7 0.6zM901.3 497.3l1.7-0.2v1l-1.7 0.2zM901.3 497.3l1.7 0.2v1l-1.7-0.2zM902.6 497.4l1.7 0.6v1l-1.7-0.6zM903.9 497.8l1.5 1v1l-1.5-1zM904.5 499h1l1.2 1.4h-1zM905.4 500h1l0.7 1.6h-1zM906 501.2h1l0.2 1.6h-1zM906.2 502.4h1l-0.2 1.6h-1zM906.1 503.6h1l-0.7 1.6h-1zM905.7 504.8h1l-1.2 1.4h-1zM903.9 506.4l1.5-1v1l-1.5 1zM902.6 506.8l1.7-0.6v1l-1.7 0.6zM901.3 506.9l1.7-0.2v1l-1.7 0.2zM901.3 506.9l1.7 0.2v1l-1.7-0.2zM902.6 507l1.7 0.6v1l-1.7-0.6zM903.9 507.4l1.5 1v1l-1.5-1zM904.5 508.6h1l1.2 1.4h-1zM905.4 509.6h1l0.7 1.6h-1zM906 510.8h1l0.2 1.6h-1zM906.2 512h1l-0.2 1.6h-1zM906.1 513.2h1l-0.7 1.6h-1zM905.7 514.4h1l-1.2 1.4h-1zM903.9 516l1.5-1v1l-1.5 1zM902.6 516.4l1.7-0.6v1l-1.7 0.6zM901.3 516.5l1.7-0.2v1l-1.7 0.2zM901.3 516.5l1.7 0.2v1l-1.7-0.2zM902.6 516.6l1.7 0.6v1l-1.7-0.6zM903.9 517l1.5 1v1l-1.5-1zM904.5 518.2h1l1.2 1.4h-1zM905.4 519.2h1l0.7 1.6h-1zM906 520.4h1l0.2 1.6h-1zM906.2 521.6h1l-0.2 1.6h-1zM906.1 522.8h1l-0.7 1.6h-1zM905.7 524h1l-1.2 1.4h-1zM903.9 525.6l1.5-1v1l-1.5 1zM902.6 526l1.7-0.6v1l-1.7 0.6zM901.3 526.1l1.7-0.2v1l-1.7 0.2zM901 526.1h1v16.9h-1zM869 542h64v1h-64zM932 542h1v56h-1zM869 597h64v1h-64zM869 542h1v56h-1zM871 571h8v1h-8zM878 566.5h1v10.2h-1zM884 561.8h1v18.5h-1zM884.3 568l17.4-8.6v1l-17.4 8.6zM901 550.7h1v9.8h-1zM901 553h20v1h-20zM920 553h1v38h-1zM901 590h20v1h-20zM884.3 573.2l17.4 8.4v1l-17.4-8.4zM901 581.5h1v14.8h-1zM890.1 578.9l2.2-4.3l6.4 6.6zM912.5 563h15.5v1h-15.5zM920.1 563.3h1l-7.7 15.4h-1zM912.5 578h15.5v1h-15.5zM919.9 563.3h1l7.2 15.4h-1zM882 597h1v24h-1zM882 620h16v1h-16zM920 597h1v24h-1zM905 620h16v1h-16zM897 610.5h1v20.8h-1zM905 610.5h1v20.8h-1zM1099 216h1v115.5h-1zM1093.9 324.9l11.2 11.2v1l-11.2-11.2zM1093.9 336.1l11.2-11.2v1l-11.2 11.2zM1123.3 336.5h1l-24.4 53.2h-1zM1099 389h1v248.2h-1zM1068.3 528.5h1l-0.2 2.6h-1zM1068.1 530.7h1l-0.7 2.5h-1zM1067.5 532.8h1l-1.2 2.4h-1zM1066.6 534.8h1l-1.8 2.1h-1zM1063.6 537.8l2.1-1.8v1l-2.1 1.8zM1061.6 538.7l2.4-1.2v1l-2.4 1.2zM1059.5 539.3l2.5-0.7v1l-2.5 0.7zM1057.3 539.5l2.6-0.2v1l-2.6 0.2zM1055.1 539.3l2.6 0.2v1l-2.6-0.2zM1053 538.6l2.5 0.7v1l-2.5-0.7zM1051 537.5l2.4 1.2v1l-2.4-1.2zM1049.3 536l2.1 1.8v1l-2.1-1.8zM1047.4 534.8h1l1.8 2.1h-1zM1046.5 532.8h1l1.2 2.4h-1zM1045.9 530.7h1l0.7 2.5h-1zM1045.7 528.5h1l0.2 2.6h-1zM1045.9 526.3h1l-0.2 2.6h-1zM1046.6 524.2h1l-0.7 2.5h-1zM1047.7 522.2h1l-1.2 2.4h-1zM1049.2 520.5h1l-1.8 2.1h-1zM1049.3 520.4l2.1-1.8v1l-2.1 1.8zM1051 518.9l2.4-1.2v1l-2.4 1.2zM1053 517.8l2.5-0.7v1l-2.5 0.7zM1055.1 517.1l2.6-0.2v1l-2.6 0.2zM1057.3 516.9l2.6 0.2v1l-2.6-0.2zM1059.5 517.1l2.5 0.7v1l-2.5-0.7zM1061.6 517.7l2.4 1.2v1l-2.4-1.2zM1063.6 518.6l2.1 1.8v1l-2.1-1.8zM1064.8 520.5h1l1.8 2.1h-1zM1066.3 522.2h1l1.2 2.4h-1zM1067.4 524.2h1l0.7 2.5h-1zM1068.1 526.3h1l0.2 2.6h-1zM1057 506.5h1v44h-1zM1068.3 528h10.7v1h-10.7zM1073.2 520.8h1l-3.2 17.1h-1zM1077.4 520.8h1l-3.2 17.1h-1zM1110.3 528.5h1l-0.2 2.6h-1zM1110.1 530.7h1l-0.7 2.5h-1zM1109.5 532.8h1l-1.2 2.4h-1zM1108.6 534.8h1l-1.8 2.1h-1zM1105.6 537.8l2.1-1.8v1l-2.1 1.8zM1103.6 538.7l2.4-1.2v1l-2.4 1.2zM1101.5 539.3l2.5-0.7v1l-2.5 0.7zM1099.3 539.5l2.6-0.2v1l-2.6 0.2zM1097.1 539.3l2.6 0.2v1l-2.6-0.2zM1095 538.6l2.5 0.7v1l-2.5-0.7zM1093 537.5l2.4 1.2v1l-2.4-1.2zM1091.3 536l2.1 1.8v1l-2.1-1.8zM1089.4 534.8h1l1.8 2.1h-1zM1088.5 532.8h1l1.2 2.4h-1zM1087.9 530.7h1l0.7 2.5h-1zM1087.7 528.5h1l0.2 2.6h-1zM1087.9 526.3h1l-0.2 2.6h-1zM1088.6 524.2h1l-0.7 2.5h-1zM1089.7 522.2h1l-1.2 2.4h-1zM1091.2 520.5h1l-1.8 2.1h-1zM1091.3 520.4l2.1-1.8v1l-2.1 1.8zM1093 518.9l2.4-1.2v1l-2.4 1.2zM1095 517.8l2.5-0.7v1l-2.5 0.7zM1097.1 517.1l2.6-0.2v1l-2.6 0.2zM1099.3 516.9l2.6 0.2v1l-2.6-0.2zM1101.5 517.1l2.5 0.7v1l-2.5-0.7zM1103.6 517.7l2.4 1.2v1l-2.4-1.2zM1105.6 518.6l2.1 1.8v1l-2.1-1.8zM1106.8 520.5h1l1.8 2.1h-1zM1108.3 522.2h1l1.2 2.4h-1zM1109.4 524.2h1l0.7 2.5h-1zM1110.1 526.3h1l0.2 2.6h-1zM1110.3 528h10.7v1h-10.7zM1115.2 520.8h1l-3.2 17.1h-1zM1119.4 520.8h1l-3.2 17.1h-1zM1150.3 528.5h1l-0.2 2.6h-1zM1150.1 530.7h1l-0.7 2.5h-1zM1149.5 532.8h1l-1.2 2.4h-1zM1148.6 534.8h1l-1.8 2.1h-1zM1145.6 537.8l2.1-1.8v1l-2.1 1.8zM1143.6 538.7l2.4-1.2v1l-2.4 1.2zM1141.5 539.3l2.5-0.7v1l-2.5 0.7zM1139.3 539.5l2.6-0.2v1l-2.6 0.2zM1137.1 539.3l2.6 0.2v1l-2.6-0.2zM1135 538.6l2.5 0.7v1l-2.5-0.7zM1133 537.5l2.4 1.2v1l-2.4-1.2zM1131.3 536l2.1 1.8v1l-2.1-1.8zM1129.4 534.8h1l1.8 2.1h-1zM1128.5 532.8h1l1.2 2.4h-1zM1127.9 530.7h1l0.7 2.5h-1zM1127.7 528.5h1l0.2 2.6h-1zM1127.9 526.3h1l-0.2 2.6h-1zM1128.6 524.2h1l-0.7 2.5h-1zM1129.7 522.2h1l-1.2 2.4h-1zM1131.2 520.5h1l-1.8 2.1h-1zM1131.3 520.4l2.1-1.8v1l-2.1 1.8zM1133 518.9l2.4-1.2v1l-2.4 1.2zM1135 517.8l2.5-0.7v1l-2.5 0.7zM1137.1 517.1l2.6-0.2v1l-2.6 0.2zM1139.3 516.9l2.6 0.2v1l-2.6-0.2zM1141.5 517.1l2.5 0.7v1l-2.5-0.7zM1143.6 517.7l2.4 1.2v1l-2.4-1.2zM1145.6 518.6l2.1 1.8v1l-2.1-1.8zM1146.8 520.5h1l1.8 2.1h-1zM1148.3 522.2h1l1.2 2.4h-1zM1149.4 524.2h1l0.7 2.5h-1zM1150.1 526.3h1l0.2 2.6h-1zM1139 506.5h1v44h-1zM1150.3 528h10.7v1h-10.7zM1155.2 520.8h1l-3.2 17.1h-1zM1159.4 520.8h1l-3.2 17.1h-1zM1083.2 585h32.2v1h-32.2zM1114.6 585.3h1l-15.8 20.9h-1zM1083 585.3h1l16.2 20.9h-1zM1240 216h1v115.5h-1zM1234.9 324.9l11.2 11.2v1l-11.2-11.2zM1234.9 336.1l11.2-11.2v1l-11.2 11.2zM1264.3 336.5h1l-24.4 53.2h-1zM1240 389h1v248.2h-1zM1210.3 528.5h1l-0.2 2.6h-1zM1210.1 530.7h1l-0.7 2.5h-1zM1209.5 532.8h1l-1.2 2.4h-1zM1208.6 534.8h1l-1.8 2.1h-1zM1205.6 537.8l2.1-1.8v1l-2.1 1.8zM1203.6 538.7l2.4-1.2v1l-2.4 1.2zM1201.5 539.3l2.5-0.7v1l-2.5 0.7zM1199.3 539.5l2.6-0.2v1l-2.6 0.2zM1197.1 539.3l2.6 0.2v1l-2.6-0.2zM1195 538.6l2.5 0.7v1l-2.5-0.7zM1193 537.5l2.4 1.2v1l-2.4-1.2zM1191.3 536l2.1 1.8v1l-2.1-1.8zM1189.4 534.8h1l1.8 2.1h-1zM1188.5 532.8h1l1.2 2.4h-1zM1187.9 530.7h1l0.7 2.5h-1zM1187.7 528.5h1l0.2 2.6h-1zM1187.9 526.3h1l-0.2 2.6h-1zM1188.6 524.2h1l-0.7 2.5h-1zM1189.7 522.2h1l-1.2 2.4h-1zM1191.2 520.5h1l-1.8 2.1h-1zM1191.3 520.4l2.1-1.8v1l-2.1 1.8zM1193 518.9l2.4-1.2v1l-2.4 1.2zM1195 517.8l2.5-0.7v1l-2.5 0.7zM1197.1 517.1l2.6-0.2v1l-2.6 0.2zM1199.3 516.9l2.6 0.2v1l-2.6-0.2zM1201.5 517.1l2.5 0.7v1l-2.5-0.7zM1203.6 517.7l2.4 1.2v1l-2.4-1.2zM1205.6 518.6l2.1 1.8v1l-2.1-1.8zM1206.8 520.5h1l1.8 2.1h-1zM1208.3 522.2h1l1.2 2.4h-1zM1209.4 524.2h1l0.7 2.5h-1zM1210.1 526.3h1l0.2 2.6h-1zM1199 506.5h1v44h-1zM1210.3 528h10.7v1h-10.7zM1215.2 520.8h1l-3.2 17.1h-1zM1219.4 520.8h1l-3.2 17.1h-1zM1251.3 528.5h1l-0.2 2.6h-1zM1251.1 530.7h1l-0.7 2.5h-1zM1250.5 532.8h1l-1.2 2.4h-1zM1249.6 534.8h1l-1.8 2.1h-1zM1246.6 537.8l2.1-1.8v1l-2.1 1.8zM1244.6 538.7l2.4-1.2v1l-2.4 1.2zM1242.5 539.3l2.5-0.7v1l-2.5 0.7zM1240.3 539.5l2.6-0.2v1l-2.6 0.2zM1238.1 539.3l2.6 0.2v1l-2.6-0.2zM1236 538.6l2.5 0.7v1l-2.5-0.7zM1234 537.5l2.4 1.2v1l-2.4-1.2zM1232.3 536l2.1 1.8v1l-2.1-1.8zM1230.4 534.8h1l1.8 2.1h-1zM1229.5 532.8h1l1.2 2.4h-1zM1228.9 530.7h1l0.7 2.5h-1zM1228.7 528.5h1l0.2 2.6h-1zM1228.9 526.3h1l-0.2 2.6h-1zM1229.6 524.2h1l-0.7 2.5h-1zM1230.7 522.2h1l-1.2 2.4h-1zM1232.2 520.5h1l-1.8 2.1h-1zM1232.3 520.4l2.1-1.8v1l-2.1 1.8zM1234 518.9l2.4-1.2v1l-2.4 1.2zM1236 517.8l2.5-0.7v1l-2.5 0.7zM1238.1 517.1l2.6-0.2v1l-2.6 0.2zM1240.3 516.9l2.6 0.2v1l-2.6-0.2zM1242.5 517.1l2.5 0.7v1l-2.5-0.7zM1244.6 517.7l2.4 1.2v1l-2.4-1.2zM1246.6 518.6l2.1 1.8v1l-2.1-1.8zM1247.8 520.5h1l1.8 2.1h-1zM1249.3 522.2h1l1.2 2.4h-1zM1250.4 524.2h1l0.7 2.5h-1zM1251.1 526.3h1l0.2 2.6h-1zM1251.3 528h10.7v1h-10.7zM1256.2 520.8h1l-3.2 17.1h-1zM1260.4 520.8h1l-3.2 17.1h-1zM1292.3 528.5h1l-0.2 2.6h-1zM1292.1 530.7h1l-0.7 2.5h-1zM1291.5 532.8h1l-1.2 2.4h-1zM1290.6 534.8h1l-1.8 2.1h-1zM1287.6 537.8l2.1-1.8v1l-2.1 1.8zM1285.6 538.7l2.4-1.2v1l-2.4 1.2zM1283.5 539.3l2.5-0.7v1l-2.5 0.7zM1281.3 539.5l2.6-0.2v1l-2.6 0.2zM1279.1 539.3l2.6 0.2v1l-2.6-0.2zM1277 538.6l2.5 0.7v1l-2.5-0.7zM1275 537.5l2.4 1.2v1l-2.4-1.2zM1273.3 536l2.1 1.8v1l-2.1-1.8zM1271.4 534.8h1l1.8 2.1h-1zM1270.5 532.8h1l1.2 2.4h-1zM1269.9 530.7h1l0.7 2.5h-1zM1269.7 528.5h1l0.2 2.6h-1zM1269.9 526.3h1l-0.2 2.6h-1zM1270.6 524.2h1l-0.7 2.5h-1zM1271.7 522.2h1l-1.2 2.4h-1zM1273.2 520.5h1l-1.8 2.1h-1zM1273.3 520.4l2.1-1.8v1l-2.1 1.8zM1275 518.9l2.4-1.2v1l-2.4 1.2zM1277 517.8l2.5-0.7v1l-2.5 0.7zM1279.1 517.1l2.6-0.2v1l-2.6 0.2zM1281.3 516.9l2.6 0.2v1l-2.6-0.2zM1283.5 517.1l2.5 0.7v1l-2.5-0.7zM1285.6 517.7l2.4 1.2v1l-2.4-1.2zM1287.6 518.6l2.1 1.8v1l-2.1-1.8zM1288.8 520.5h1l1.8 2.1h-1zM1290.3 522.2h1l1.2 2.4h-1zM1291.4 524.2h1l0.7 2.5h-1zM1292.1 526.3h1l0.2 2.6h-1zM1281 506.5h1v44h-1zM1292.3 528h10.7v1h-10.7zM1297.2 520.8h1l-3.2 17.1h-1zM1301.4 520.8h1l-3.2 17.1h-1zM1224.2 585h32.2v1h-32.2zM1255.6 585.3h1l-15.8 20.9h-1zM1224 585.3h1l16.2 20.9h-1zM20.9 47.7l2.4 0.1v1l-2.4-0.1zM19.3 28.8h7.4v1h-7.4zM28.3 59.3h1.2v1h-1.2zM31.2 28.8l7.3-0.1v1l-7.3 0.1zM38.2 65.8l1-0.8v1l-1 0.8zM30.9 29.2h1l-0.1 16.1h-1zM34.7 48l1-0.6v1l-1 0.6zM29 27.9h1l0.1 1.4h-1zM28.4 25.7h1l0.6 2.6h-1zM27.8 23.9h1l0.7 2.2h-1zM27.2 23.3h1l0.8 1h-1zM18.9 65l1 0.7v1l-1-0.7zM34.7 36.6h1l2.4 6.9h-1zM33.4 33.8h1l1.4 3.2h-1zM22.6 48.2h1l0.2 1.6h-1zM22.7 49.4h1l0.6 1.8h-1zM23.2 50.8h1l1.7 3.9h-1zM24.7 54.3h1l3.3 5.1h-1zM27.8 59h1l0.3 1h-1zM30.8 56.7h1l-2.2 3.2h-1zM32.4 54h1l-1.8 3.1h-1zM34.1 50.2h1l-1.9 4.2h-1zM34.4 48.2h1l-0.5 2.4h-1zM26.2 28.8l3.6-0.1v1l-3.6 0.1zM25.9 29.2h1v16.2h-1zM28.6 59.7h1l1 1.5h-1zM29.8 60.4l3.2 2.7v1l-3.2-2.7zM32.6 62.8l6 3v1l-6-3zM23.2 33.4h1l-1.1 4.4h-1zM22.2 37.4h1l-1.1 3.5h-1zM21.3 40.5h1l-1.2 2.8h-1zM29.4 28.7l2.1 0.1v1l-2.1-0.1zM19.5 65.7l5.2-2.7v1l-5.2 2.7zM24.3 63.2l3.6-2.8v1l-3.6 2.8zM28.2 59.6h1l-1.1 1.6h-1zM22.9 47.8l12.2 0.1v1l-12.2-0.1zM49 43h7.3v1h-7.3zM60.2 52.9h1l1.5 3.9h-1zM58.8 50h1l1.6 3.3h-1zM55.5 31.2h1v12.4h-1zM55.5 43.2h1v20.8h-1zM47.6 63.3l8.6-0.1v1l-8.6 0.1zM55.7 63.2h9.1v1h-9.1zM55.8 43l7.5-0.1v1l-7.5 0.1zM46.3 26.1l18.3-0.1v1l-18.3 0.1zM46 26.3h1l-0.1 19.4h-1zM46 45.3h1l-0.3 7.5h-1zM45.7 52.4h1l-0.6 7.7h-1zM45.1 59.7h1l-1 6h-1zM81.8 64h6.6v1h-6.6zM70.3 44l7.1 0.1v1l-7.1-0.1zM82.6 44.1l7.5-0.2v1l-7.5 0.2zM79.1 38.4h1l-1.5 4.9h-1zM77.6 42.9h1l-0.2 1.6h-1zM77.8 43.8l5.2 0.3v1l-5.2-0.3zM86.9 51.4h1l0.4 1.4h-1zM84.7 49.3h1l2.5 2.5h-1zM83.1 47h1l1.9 2.7h-1zM82.4 45.4h1l1 2h-1zM82.3 44.5h1l0.2 1.3h-1zM70.2 54.1l2.3-1.7v1l-2.3 1.7zM89.7 53.1l1-0.4v1l-1 0.4zM82.8 39.5h1l3.1 3.3h-1zM79.4 38.2l0.9-0.8v1l-0.9 0.8zM87.5 52.6h1l0.1 12h-1zM71.8 52.9h1v11.8h-1zM87.5 52.2h0.8v1h-0.8zM87.7 52.2h1.3v1h-1.3zM88.5 52.1l1.6 1v1l-1.6-1zM81.9 52.5l6-0.3v1l-6 0.3zM81.6 52.8h1v11.8h-1zM77 44.2l1.1-0.4v1l-1.1 0.4zM71.8 64.3h1v2h-1zM76.7 44.5h1l-0.2 1.5h-1zM76.6 45.6h1l-0.7 1.4h-1zM76.1 46.6h1l-1.7 2.9h-1zM74.6 49.1h1l-2 2.7h-1zM72.8 51.4h1l-0.4 1.4h-1zM77.6 52.8h1v11.9h-1zM72.8 52.3l5.5 0.3v1l-5.5-0.3zM87.6 64.3h1v1.7h-1zM72.1 64h6.2v1h-6.2zM81.6 64.3h1l-0.1 2h-1zM77.6 64.3h1l-0.1 1.7h-1zM72.1 52.7l1-0.6v1l-1 0.6zM87.6 26.3h1v3.6h-1zM81.8 26h6.6v1h-6.6zM81.6 26.3h1l-0.1 10.9h-1zM81.8 36.5l6.5 0.1v1l-6.5-0.1zM87.6 29.5h1v7.8h-1zM71.9 26.3h1l-0.1 1.2h-1zM72.1 26h6.3v1h-6.3zM77.6 26.3h1v10.9h-1zM72.2 36.6l6.1-0.1v1l-6.1 0.1zM71.8 27.1h1l0.1 10.2h-1zM95.1 43.7h1l-0.1 1.1h-1zM97.8 36.6h1l-2.8 7.5h-1zM98.5 35.9h1l-0.9 1.1h-1zM98.5 34h1l-0.2 2.2h-1zM99.6 30.1h1l-1.1 4.3h-1zM100.9 24.3h1l-1.4 6.2h-1zM113.4 24l1.2 0.2v1l-1.2-0.2zM109.5 26.6l4.3-2.7v1l-4.3 2.7zM103.1 64.9h1l-0.9 1.1h-1zM110.1 42.7l5.8-0.1v1l-5.8 0.1zM103 43.1h1v22.1h-1zM103.4 28.9l6.4-2.5v1l-6.4 2.5zM103.1 29.2h1l-0.1 14.1h-1zM103.3 64.7l4.6-2.5v1l-4.6 2.5zM102.1 64.9l0.9 0.6v1l-0.9-0.6zM109.7 43.1h1l0.5 7.3h-1zM110.1 50h1l0.6 5.9h-1zM110.7 55.5h1l0.7 4.4h-1zM111.3 59.5h1l1 4.1h-1zM112.2 63.2h1l1.1 2.1h-1zM113.5 64.5l1.1 0.6v1l-1.1-0.6zM115 62.8h1l-1.2 2.9h-1zM115.3 57.6h1l-0.4 5.6h-1zM109.2 26.8h1l0.5 16.5h-1zM98.3 35.9h1l0.1 30.3h-1zM107.8 57.6h1l1.9 7.6h-1zM103.4 42.7l7-0.1v1l-7 0.1zM126 43h7.2v1h-7.2zM137.1 52.9h1l1.5 3.9h-1zM135.8 50h1l1.5 3.3h-1zM132.5 31.2h1v12.4h-1zM132.5 43.2h1v20.8h-1zM124.5 63.3l8.7-0.1v1l-8.7 0.1zM132.7 63.2h9v1h-9zM132.8 43l7.5-0.1v1l-7.5 0.1zM123.2 26.1l18.3-0.1v1l-18.3 0.1zM122.9 26.3h1v19.4h-1zM122.9 45.3h1l-0.2 7.5h-1zM122.7 52.4h1l-0.7 7.7h-1zM122.1 59.7h1l-1 6h-1zM162.1 65.1h1l0.9 1h-1zM163.1 65.4l2.5-0.1v1l-2.5 0.1zM165.7 64.3h1l-0.9 1.7h-1zM165.6 24.1h1v40.6h-1zM162.3 28.6h1l-0.1 27.1h-1zM152.8 27.2h1l-0.1 27.8h-1zM153.1 26.9h6.7v1h-6.7zM159.1 27.2h1v27.8h-1zM149.5 33.3h1l-0.3 3.2h-1zM151.2 24.1h1l-1.7 9.6h-1zM149.4 36.1h1l-0.8 1h-1zM148.8 36.7h1l-2.2 7.5h-1zM146.6 43.7h1v1.4h-1zM149.2 36.1h1l0.1 30.1h-1zM156.6 57.8h1l1.4 2.9h-1zM157.9 60.3h1l1.6 4.9h-1zM155.9 32.8h1v16.6h-1zM155.9 49h1l-0.4 6.2h-1zM155.5 54.8h1l-0.5 3.5h-1zM155.1 57.9h1l-1.2 4.4h-1zM154 61.9h1l-1.7 3.7h-1zM151.9 65.4l1.2-0.7v1l-1.2 0.7zM170.2 62.9l1.1-1.1v1l-1.1 1.1zM173.4 50.7h1l-2.8 12h-1zM186.5 61.9l1.2 1.1v1l-1.2-1.1zM183.2 50.5h1l3 12.2h-1zM178.4 30.7h1l-4.7 18.9h-1zM173.8 49.2h1l-0.2 1.7h-1zM183 49.2h1l0.2 1.6h-1zM179 32.1h1l4.1 17.5h-1zM178.8 31.1h1l0.3 1.4h-1zM173.8 50.2h10.1v1h-10.1zM196.5 48.2h1l-0.1 15.3h-1zM196.8 47.8h7.9v1h-7.9zM204.3 47.8l3.3-0.9v1l-3.3 0.9zM207.2 47.1l2.3-1.7v1l-2.3 1.7zM210.3 43.5h1l-1.7 2.8h-1zM210.8 40.1h1l-0.6 3.8h-1zM210.5 36.3h1l0.3 4.2h-1zM209.5 33.8h1l1.1 2.9h-1zM207.9 31.4l2.4 2.3v1l-2.4-2.3zM205.3 30.6l3 1v1l-3-1zM196.9 30.4l8.8 0.2v1l-8.8-0.2zM196.6 30.7h1l-0.1 17.8h-1zM219 30.4h11.8v1h-11.8zM218.8 30.7h1l-0.1 16.1h-1zM218.7 46.5h1l-0.1 17h-1zM219 46.1h10v1h-10zM253.6 27.5h7.3v1h-7.3zM259.3 38.8h1v0.7h-1zM246.7 61.2h1l-1.1 4.7h-1zM247.6 53.4h1l-1 8.2h-1zM247.9 47h1l-0.3 6.8h-1zM247.9 33.2h1v14.3h-1zM248.2 33l5.9-0.1v1l-5.9 0.1zM260.5 33.3h1l-0.1 1.7h-1zM260.4 34.6h1l-1.1 4.7h-1zM245.3 51h1l-3.3 13.6h-1zM252 54.7h1v9.4h-1zM251.9 63.7h1l0.6 1.6h-1zM252.6 64.6h6.1v1h-6.1zM258.4 64.1h1l-0.6 1.2h-1zM258.5 62.7h1l-0.2 1.8h-1zM258.6 60.3h1l-0.1 2.8h-1zM258.3 59.3h1l0.3 1.4h-1zM260.1 59.6h1l0.9 3.8h-1zM258.6 54.6h1l1.6 5.4h-1zM250 41.2l3.5-0.5v1l-3.5 0.5zM253.4 23.8h1v4.4h-1zM253.7 32.9h7.5v1h-7.5zM253.5 51.5h1l1.1 1.9h-1zM254.5 53h1l1.5 5.1h-1zM253.2 40.6l4.7-0.8v1l-4.7 0.8zM259.7 43.2h1l-0.3 3.1h-1zM259.6 45.9h1l-0.8 1.2h-1zM253.7 46.4h6.1v1h-6.1zM252.7 45.9h1l1 1.2h-1zM252.8 41.1h1l0.1 5.2h-1zM242.5 39.6h1l2.5 3.3h-1zM241.4 38.5h1l1.4 1.5h-1zM242.6 25.1h1l3.3 5h-1zM250.3 55.1h1l-0.9 5.4h-1zM249.5 60.1h1l-1.1 4.2h-1zM259.4 42h1l0.3 1.5h-1zM245.1 49.8h1l0.1 1.5h-1zM252.9 37h1l-0.1 4.2h-1zM253.4 27.8h1v5.9h-1zM286.8 65.6l1-0.6v1l-1 0.6zM283.5 62.4l3.7 3.3v1l-3.7-3.3zM281.5 60.8h1l1.9 2.5h-1zM280.1 58.2h1l1.7 3h-1zM274.1 43h2.6v1h-2.6zM279.6 31.5h1v12.2h-1zM276.3 43l4-0.1v1l-4 0.1zM279.9 42.9l5.2 0.2v1l-5.2-0.2zM269.5 40.7h1l1 2.2h-1zM266.9 37.6h1l2.9 3.5h-1zM279.9 31.3h7.1v1h-7.1zM273.9 31.6h1v12h-1zM274.1 31.3h6.3v1h-6.3zM275.9 43.3h1l0.6 3.9h-1zM276.4 46.8h1l1.3 5.2h-1zM277.6 51.6h1l1.2 3.8h-1zM278.7 55h1l1.5 3.5h-1zM273.6 65.2l0.9 0.4v1l-0.9-0.4zM272.4 61.5h1l-1.4 4.5h-1zM273.2 56.7h1l-0.9 5.2h-1zM273.7 51.4h1l-0.6 5.7h-1zM273.9 43.3h1l-0.3 8.5h-1zM281.9 54.6h1l-1.7 3.9h-1zM283 51.1h1l-1.3 3.9h-1zM284.1 46.1h1l-1.2 5.4h-1zM284.5 43.4h1l-0.4 3.1h-1zM279.7 23.8h1l-0.1 8.1h-1zM286.2 31.6h1l-0.5 3.5h-1zM285.8 34.7h1l-1.2 5.1h-1zM271.1 50.5h1l-3.5 14.6h-1zM268 24.3l2.6 2.5v1l-2.6-2.5zM269.8 26.9h1l1.8 3.1h-1zM271.5 29.5h1v1.5h-1zM274.2 65.7l3.9-3.7v1l-3.9 3.7zM280.3 58.2h1l-3 4.7h-1zM293.5 26.9l1 0.1v1l-1-0.1zM293.7 27.3h1l2.3 4.3h-1zM293 49.5l9.3 0.2v1l-9.3-0.2zM301.9 49.7l1.4-0.2v1l-1.4 0.2zM301.7 50h1l-0.3 1.4h-1zM301.6 51h1l-0.9 1.6h-1zM300.9 52.2h1l-3.2 3.9h-1zM310.9 53.4h1l-5 5.5h-1zM292.5 58.9l1 0.5v1l-1-0.5zM293.1 59.5l5.2-3.7v1l-5.2 3.7zM303.2 49.5h9.7v1h-9.7zM298.2 23.9h1l-0.1 12.3h-1zM301 42.3l5.6-0.1v1l-5.6 0.1zM297.9 64.6l1.4-0.2v1l-1.4 0.2zM298.9 64.6l5.6-2.8v1l-5.6 2.8zM304.2 61.4h1l-0.5 1.2h-1zM300.1 31.3h6.5v1h-6.5zM297.7 56.3h1l-0.1 8.9h-1zM302.9 48.5h1l0.1 1.6h-1zM301.9 45.2h1l1 3.7h-1zM305.9 23.9h1v8h-1zM305.1 57.7h1l1.1 1.3h-1zM303.9 54.9h1l1.5 3.2h-1zM302.7 51.1h1l1.4 4.2h-1zM302.6 49.9h1l0.2 1.6h-1zM305.9 31.5h1v11.5h-1zM297.8 35.9l1-0.4v1l-1 0.4zM297.7 36.1h1l-5.3 5.4h-1zM297.8 64.9h1l-1.1 1.1h-1zM303 49.6l0.7-0.2v1l-0.7 0.2zM298.1 36h1v9h-1zM306.2 31.3l6.2-0.1v1l-6.2 0.1zM306 58.7h1l0.5 1.3h-1zM306.2 59.6h1l2.3 3.1h-1zM308.7 61.9l2.3 2.3v1l-2.3-2.3zM310.6 63.8l2 1.3v1l-2-1.3zM306.1 42.2h6v1h-6zM312.3 65.1l0.9-0.5v1l-0.9 0.5zM321.9 48.4h1v5.6h-1zM318.7 64h4v1h-4zM327.6 37.9l0.6-0.2v1l-0.6 0.2zM325.6 25.5h6v1h-6zM321.9 58.8h1v6h-1zM322.1 53.3h12.8v1h-12.8zM321.9 53.6h1v5.6h-1zM322.1 64h12.8v1h-12.8zM327.9 33.2h1l-0.4 5.3h-1zM327.7 37.8h10.4v1h-10.4zM325.6 32.7l2.9 0.1v1l-2.9-0.1zM334.1 58.8h1l0.1 5.9h-1zM330.9 25.8h1v7.7h-1zM328.2 32.8l3.4-0.1v1l-3.4 0.1zM331.1 32.7h6.2v1h-6.2zM336.4 25.8h1l0.1 7.6h-1zM331.1 25.5h6.1v1h-6.1zM318.9 37.8h9.2v1h-9.2zM334.1 53.5h1v5.8h-1zM322.1 58.5h12.8v1h-12.8zM334.5 64.1l3.9-0.1v1l-3.9 0.1zM325.3 25.8h1v7.7h-1zM320.2 32.7h5.9v1h-5.9zM320 25.8h1v7.6h-1zM320.2 25.5h5.9v1h-5.9zM321.9 43.4h1v5.3h-1zM322.2 43.1l5.3-0.1v1l-5.3 0.1zM334.1 43.3h1v5.6h-1zM327.1 43l7.7 0.1v1l-7.7-0.1zM322.1 48.1h12.8v1h-12.8zM334.1 48.3h1v5.8h-1zM327.3 38.2h1l-0.5 5.5h-1zM348.6 40.6h1l0.3 1.2h-1zM348.8 26.8h1v11.7h-1zM344.3 37.8h5.1v1h-5.1zM355.3 59.6h7.6v1h-7.6zM352.9 24.2l1.2 0.4v1l-1.2-0.4zM349.1 26.6l4.2-2.4v1l-4.2 2.4zM349.2 37.8l5-0.1v1l-5 0.1zM348.8 38.2h1l-0.1 2.7h-1zM348.8 41.5h1l1.9 3.9h-1zM350.6 44.9h1l2.2 6.1h-1zM352.7 50.6h1l0.1 1.3h-1zM343.6 57.2h1v1.4h-1zM345.1 53.4h1l-1.6 4.2h-1zM346.5 48.8h1l-1.5 5h-1zM348.3 41.2h1l-1.9 8h-1zM348.8 40.6h1l-0.7 1h-1zM355 59.9h1v4.5h-1zM344.8 27.9l4.7-1.4v1l-4.7 1.4zM355.1 28.4h1l-0.1 31.8h-1zM355.4 28.1h7.5v1h-7.5zM362.2 28.3h1v32h-1zM362.2 59.9h1l-0.1 4.1h-1zM348.9 41.5h1l-0.1 24.7h-1zM371.6 41.4h1v11.3h-1zM379.1 52.3h1v10h-1zM379.1 61.8h1l0.3 2.2h-1zM379.2 63.6h1l1.1 1.4h-1zM380.4 64.3h8.3v1h-8.3zM388.5 63.9h1l-0.8 1.1h-1zM388.8 62.7h1l-0.5 1.6h-1zM389.1 56.8h1l-0.4 6.3h-1zM379.4 52h8.4v1h-8.4zM387 41.5h1v11.2h-1zM388.8 55.5h1l0.4 1.6h-1zM379.2 23.7h1l-0.1 7.6h-1zM387 31h1v10.7h-1zM379.4 30.7h8.4v1h-8.4zM371.6 52.4h1v3.5h-1zM371.9 52h8v1h-8zM371.9 41.1h8v1h-8zM371.9 30.7h8v1h-8zM371.7 31h1l-0.1 10.7h-1zM379.1 31h1v10.8h-1zM379.4 41.1h8.4v1h-8.4zM379.1 41.4h1v11.3h-1zM405.4 38.1h1l-0.4 1.7h-1zM399.5 51.3h12v1h-12zM413.7 43.1h1v1.2h-1zM411.7 39.6h1l2.1 3.9h-1zM408.3 34.5h1l3.6 5.5h-1zM407.9 34h1l0.7 0.9h-1zM407.8 45.5h1l3.6 5.3h-1zM405 39.5h1l3 6.4h-1zM411.1 50.4h1l3.6 3.8h-1zM411.3 50.4h1l-0.7 1.6h-1zM401.7 34h1l-1.8 3.8h-1zM400.1 37.4h1l-2.1 3.6h-1zM398.3 40.6h1l-2.2 3h-1zM405.5 27.6h1l0.1 1.6h-1zM404.4 23.9h1l1.1 4.1h-1zM401.9 33.7l0.9-0.5v1l-0.9 0.5zM398.9 50.8h1l0.4 1.2h-1zM399.2 64.1h1v2.3h-1zM410.7 51.6h1v12.8h-1zM399.2 51.6h1v12.8h-1zM405.9 28.5l8.6 0.1v1l-8.6-0.1zM413.8 28.8h1v6.4h-1zM399.2 50.8h1l-3.9 4.1h-1zM395.1 54l1.1 0.2v1l-1.1-0.2zM410.7 64.1h1v1.9h-1zM399.5 63.7h12v1h-12zM402.3 45.5h1l-3.4 5.6h-1zM405.1 39.5h1l-3.1 6.4h-1zM396.5 28.6l9.8-0.1v1l-9.8 0.1zM396.2 28.9h1l-0.1 6.2h-1zM414.8 53.6l1-0.4v1l-1 0.4zM432.8 64h6.5v1h-6.5zM421.3 44l7 0.1v1l-7-0.1zM433.6 44.1l7.4-0.2v1l-7.4 0.2zM430.1 38.4h1l-1.6 4.9h-1zM428.6 42.9h1l-0.2 1.6h-1zM428.7 43.8l5.2 0.3v1l-5.2-0.3zM437.8 51.4h1l0.5 1.4h-1zM435.6 49.3h1l2.5 2.5h-1zM434.1 47h1l1.9 2.7h-1zM433.3 45.4h1l1 2h-1zM433.2 44.5h1l0.3 1.3h-1zM421.1 54.1l2.3-1.7v1l-2.3 1.7zM440.7 53.1l1-0.4v1l-1 0.4zM433.8 39.5h1l3 3.3h-1zM430.3 38.2l0.9-0.8v1l-0.9 0.8zM438.5 52.6h1l0.1 12h-1zM422.8 52.9h1v11.8h-1zM438.5 52.2h0.7v1h-0.7zM438.7 52.2h1.2v1h-1.2zM439.4 52.1l1.6 1v1l-1.6-1zM432.9 52.5l6-0.3v1l-6 0.3zM432.6 52.8h1l-0.1 11.8h-1zM428 44.2l1.1-0.4v1l-1.1 0.4zM422.8 64.3h1l-0.1 2h-1zM427.7 44.5h1l-0.3 1.5h-1zM427.5 45.6h1l-0.7 1.4h-1zM427 46.6h1l-1.7 2.9h-1zM425.6 49.1h1l-2.1 2.7h-1zM423.7 51.4h1l-0.3 1.4h-1zM428.5 52.8h1v11.9h-1zM423.7 52.3l5.5 0.3v1l-5.5-0.3zM438.6 64.3h1l-0.1 1.7h-1zM423 64h6.3v1h-6.3zM432.5 64.3h1v2h-1zM428.5 64.3h1v1.7h-1zM423.1 52.7l1-0.6v1l-1 0.6zM438.5 26.3h1l0.1 3.6h-1zM432.7 26h6.6v1h-6.6zM432.5 26.3h1v10.9h-1zM432.8 36.5l6.4 0.1v1l-6.4-0.1zM438.6 29.5h1l-0.1 7.8h-1zM422.8 26.3h1v1.2h-1zM423 26h6.3v1h-6.3zM428.5 26.3h1l0.1 10.9h-1zM423.1 36.6l6.2-0.1v1l-6.2 0.1zM422.8 27.1h1v10.2h-1zM453.6 34.7h1l-1.6 5.2h-1zM452.2 39.5h1l-0.7 0.9h-1zM447.7 50.8h1l-0.2 1.5h-1zM451.5 41.3h1l-3.9 9.9h-1zM451.7 40.1h1l-0.3 1.6h-1zM447.4 40.8l4.9-1.2v1l-4.9 1.2zM447 41.1l0.7-0.5v1l-0.7 0.5zM447.1 52.5l1.1-1v1l-1.1 1zM464 26.3h1l0.1 12.8h-1zM456.6 26h8.2v1h-8.2zM456.4 26.3h1l-0.1 12.8h-1zM464.3 64.4h2.7v1h-2.7zM464.1 38.8h1v13.2h-1zM464.1 51.6h1v13.5h-1zM454 64.5l3-0.1v1l-3 0.1zM456.6 51.3h8.2v1h-8.2zM456.6 64.4h8.2v1h-8.2zM447.3 39.6h1l-0.3 1.7h-1zM449.3 33.2h1l-2.1 6.8h-1zM451.5 24.4h1l-2.3 9.2h-1zM446.9 61.7l7.5-3.8v1l-7.5 3.8zM454 57.8h1l-0.4 0.9h-1zM456.3 38.8h1v13.2h-1zM456.6 38.5h8.2v1h-8.2zM456.3 51.6h1v13.5h-1zM448.6 51.7l5.7-2.6v1l-5.7 2.6zM447.8 51.7l1.2-0.1v1l-1.2 0.1zM478 55.2h8.9v1h-8.9zM486.1 42.6h1v13.3h-1zM478.1 42.2l8.7 0.1v1l-8.7-0.1zM477.8 42.5h1v13.4h-1zM476.8 34.5l11.5-0.1v1l-11.5 0.1zM473.3 26.6h1l-0.1 39.8h-1zM473.6 26.3l17.8 0.1v1l-17.8-0.1zM490.7 26.7h1l-0.1 38.6h-1zM490.7 64.9h1l-0.6 1.3h-1zM489.9 65.7l1-0.3v1l-1 0.3zM487.2 65.7h3.2v1h-3.2zM486.3 65.3h1l0.9 1.1h-1zM477.8 55.6h1v4.3h-1zM498.9 28.2h1l-0.1 14.4h-1zM499.2 27.9l6 0.1v1l-6-0.1zM504.5 28.2h1v14.5h-1zM514.5 34h3.8v1h-3.8zM498.8 42.3h1v15h-1zM499.1 42h6.2v1h-6.2zM507.8 40.5h1l3.4 11.6h-1zM498.8 57h1v4.2h-1zM509.2 64.8h1l0.8 1.2h-1zM510.1 65.3h3.8v1h-3.8zM513.4 65.3l1.2-0.4v1l-1.2 0.4zM514.3 64.3h1l-0.5 1.3h-1zM514.3 34.4h1v30.3h-1zM499.2 56.6l6-0.1v1l-6 0.1zM504.5 42.3h1v15h-1zM514.3 24.1h1v10.5h-1zM506.6 34.1l8.4-0.1v1l-8.4 0.1zM535 57.4h1l-0.8 2.4h-1zM535.6 54.5h1l-0.7 3.3h-1zM535.9 51.4h1l-0.4 3.5h-1zM536 48.5h1l-0.1 3.3h-1zM523.1 43.2h1v1.6h-1zM525.9 36.1h1l-2.9 7.6h-1zM526.6 35.5h1l-0.9 1h-1zM529.6 29.6l7.2-0.1v1l-7.2 0.1zM536.2 23.9h1l-0.1 6.2h-1zM536.4 29.5h7.6v1h-7.6zM532.4 56.8h1l1.8 3h-1zM531.2 54.1h1l1.4 3.1h-1zM530.3 51.5h1l1 3h-1zM526.4 35.5h1l0.1 31.2h-1zM529.1 66l2.3-1.8v1l-2.3 1.8zM532.2 63.2h1l-1.7 1.9h-1zM533.5 61.2h1l-1.6 2.4h-1zM534.2 59.5h1l-0.9 2.1h-1zM536.1 37.4h1v11.3h-1zM536.1 29.8h1v8h-1zM526.6 33.6h1l-0.2 2.3h-1zM527.8 29.5h1l-1.2 4.5h-1zM529 23.9h1l-1.3 6h-1zM534.3 59.2h0.7v1h-0.7zM534.1 59.5h1l2.1 2.6h-1zM536.4 61.2l2.9 2.5v1l-2.9-2.5zM538.9 63.5l4.6 2.3v1l-4.6-2.3zM543.1 65.8l1.1-0.7v1l-1.1 0.7zM536.4 48.1l6.6-0.1v1l-6.6 0.1zM542.3 37.3h1v11.4h-1zM536.4 37h6.7v1h-6.7zM530.4 37.1l6.4-0.1v1l-6.4 0.1zM530.1 37.4h1l0.1 11.4h-1zM530.4 48.1h6.4v1h-6.4zM551.7 38.9h1l-0.1 11.9h-1zM551.8 50.2h7.9v1h-7.9zM551.6 50.6h1l-0.3 4.5h-1zM551.3 54.7h1l-0.6 4.8h-1zM550.8 59.1h1l-0.9 4h-1zM550 62.7h1l-1 3.3h-1zM559.1 27.1h8.7v1h-8.7zM567 27.3h1v12h-1zM558.9 27.4h1v11.8h-1zM558.9 50.6h1v15.4h-1zM558.9 38.8h1v12.1h-1zM551.9 38.5h7.8v1h-7.8zM559.1 50.2h8.7v1h-8.7zM562 64.9h1l1 1.1h-1zM563.1 65.3l3.5-0.1v1l-3.5 0.1zM566.2 65.4l1.3-0.9v1l-1.3 0.9zM567 63.7h1l-0.2 1.6h-1zM567 50.5h1v13.7h-1zM551.7 27.4h1v11.7h-1zM551.9 27.1h7.8v1h-7.8zM559.1 38.5h8.7v1h-8.7zM567 38.8h1v12h-1zM118.7 741.8h1l1.9 2.3h-1zM120.7 748h1l-1.6 5.6h-1zM121 747h1l-0.4 1.4h-1zM124.4 739.9h1v6.6h-1zM124.4 746h1v7.5h-1zM119.1 736.2h1l2.1 2.4h-1zM121.4 752.7h3.7v1h-3.7zM124.6 752.7h3.9v1h-3.9zM124.7 745.8l3.1-0.1v1l-3.1 0.1zM121.7 739.6h3.5v1h-3.5zM122.1 745.8h3.1v1h-3.1zM123.9 736h1l0.9 3.3h-1zM124.7 739.6h3.5v1h-3.5zM135.5 747.4h1l-1.6 6h-1zM139.4 747.3h1l1.7 6.1h-1zM137.5 738.3h1l-2 8.8h-1zM137.7 738.9h1l1.8 8.7h-1zM137.4 738.3h1l0.4 1h-1zM135.7 747h4.5v1h-4.5zM145.1 746.3h1v7.1h-1zM145.5 745.9h4v1h-4zM149.1 745.9l1.9-0.5v1l-1.9 0.5zM150.6 745.6l1.3-0.8v1l-1.3 0.8zM152 744.1h1l-0.9 1.5h-1zM152.2 742.6h1l-0.3 1.9h-1zM152.1 740.8h1l0.1 2.2h-1zM151.5 739.7h1l0.7 1.5h-1zM150.9 738.3l1.4 1.3v1l-1.4-1.3zM149.6 738l1.7 0.6v1l-1.7-0.6zM145.5 738l4.5 0.1v1l-4.5-0.1zM145.2 738.3h1l-0.1 8.3h-1zM156.5 738h4.3v1h-4.3zM156.3 738.3h1l-0.1 7.5h-1zM156.2 745.5h1v7.9h-1zM156.5 745.1h3.6v1h-3.6zM170.8 737.3h3.6v1h-3.6zM173.3 742.2h1v0.6h-1zM167.6 751.7h1l-0.5 2.2h-1zM168 748.4h1l-0.4 3.7h-1zM168.1 745.7h1l-0.1 3.1h-1zM168.1 739.8h1v6.4h-1zM168.4 739.6h2.9v1h-2.9zM173.9 739.9h1l-0.6 2.8h-1zM167 747.4h1l-1.5 6h-1zM170 748.9h1v4.3h-1zM170.3 752.4l3.1 0.6v1l-3.1-0.6zM173 752.3h1l-0.4 1.4h-1zM173 751.3h1l-0.1 1.4h-1zM173.6 751h1l0.5 1.9h-1zM172.9 748.9h1l0.8 2.5h-1zM169.3 743.1l1.7-0.2v1l-1.7 0.2zM170.6 735.9h1v2.2h-1zM170.9 739.6h3.6v1h-3.6zM170.6 747.6h1l0.7 1.1h-1zM171.1 748.3h1l0.7 2.3h-1zM170.7 742.9l2.3-0.4v1l-2.3 0.4zM173.5 744.1h1l-0.2 1.6h-1zM171 745.3l3.1-0.4v1l-3.1 0.4zM170.3 743.2h1l0.4 2.8h-1zM165.6 742.6h1l1.3 1.6h-1zM165.6 741.6l0.9 0.9v1l-0.9-0.9zM165.7 736.5h1l1.6 2.3h-1zM169.2 749.1h1l-0.4 2.5h-1zM168.9 751.2h1l-0.6 2.1h-1zM173.3 743.6h1l0.2 0.9h-1zM166.9 746.9h1l0.1 0.9h-1zM170.4 741.5h1v2h-1zM170.6 737.5h1v2.9h-1zM185.7 753.5l0.7-0.5v1l-0.7 0.5zM184.2 752l1.9 1.5v1l-1.9-1.5zM183.1 751.5h1l1 1.3h-1zM182.4 750.4h1l0.9 1.5h-1zM179.9 743.8h1.5v1h-1.5zM182.3 739.1h1v5.5h-1zM180.9 743.8h2.1v1h-2.1zM182.6 743.8l2.5 0.1v1l-2.5-0.1zM177.7 743.1h1l0.5 1.1h-1zM176.4 741.7h1l1.5 1.8h-1zM182.5 738.9h3.5v1h-3.5zM179.7 739.2h1v5.3h-1zM179.9 738.9h3.2v1h-3.2zM180.6 744.2h1l0.3 1.8h-1zM180.8 745.6h1l0.6 2.5h-1zM181.3 747.7h1l0.7 1.8h-1zM181.8 749.1h1l0.8 1.7h-1zM179.7 753.2l0.7 0.2v1l-0.7-0.2zM179 751.9h1l-0.6 2.1h-1zM179.4 749.8h1l-0.5 2.5h-1zM179.6 747.6h1l-0.3 2.6h-1zM179.7 744.2h1l-0.1 3.8h-1zM183.4 748.9h1l-0.9 1.9h-1zM183.8 747.5h1l-0.6 1.8h-1zM184.3 745.3h1l-0.6 2.6h-1zM184.5 744.2h1l-0.2 1.5h-1zM182.3 735.9h1v3.7h-1zM185.3 739.2h1l-0.3 1.7h-1zM185.1 740.5h1l-0.6 2.4h-1zM178.4 747.2h1l-1.6 6.4h-1zM177.2 735.9l1.4 1.2v1l-1.4-1.2zM177.8 737.2h1l0.9 1.6h-1zM180 753.5l2-1.7v1l-2 1.7zM182.6 750.4h1l-1.5 2.3h-1zM188.1 737.4h1l1.5 2.1h-1zM188.3 746.6l4.4 0.1v1l-4.4-0.1zM192.3 746.7l0.9-0.1v1l-0.9 0.1zM192.1 747h1l-0.5 1.3h-1zM191.8 747.9h1l-1.7 1.9h-1zM196.4 748.4h1l-2.6 2.6h-1zM188.1 750.5l0.6 0.3v1l-0.6-0.3zM188.4 750.9l2.5-1.7v1l-2.5 1.7zM192.9 746.6h4.7v1h-4.7zM190.5 736h1v5.4h-1zM191.9 743.6l2.7-0.1v1l-2.7 0.1zM190.5 753.1l3.2-1.4v1l-3.2 1.4zM191.5 738.9h3.2v1h-3.2zM190.3 749.7h1l-0.1 3.9h-1zM192.1 745h1l0.6 2.2h-1zM194 736h1l-0.1 3.6h-1zM193 749h1l1.1 2h-1zM192.5 747.5h1l0.7 1.9h-1zM193.9 739.1h1v5.2h-1zM188.3 743.1l2.8-2.5v1l-2.8 2.5zM190.2 753.5l0.7-0.7v1l-0.7 0.7zM192.8 746.7l0.5-0.2v1l-0.5 0.2zM190.5 741.1h1l-0.1 4h-1zM194.3 738.9h3v1h-3zM193.9 750.6h1l1.3 2h-1zM195.4 751.7l1.3 1.2v1l-1.3-1.2zM196.3 752.6l1.1 0.7v1l-1.1-0.7zM194.2 743.5h3v1h-3zM197 753.3l0.6-0.4v1l-0.6 0.4zM201 746.2h1v2.8h-1zM199.7 752.7h2.1v1h-2.1zM203.8 741.8l0.4-0.3v1l-0.4 0.3zM202.8 736.5h3v1h-3zM201 750.6h1v2.9h-1zM201.2 748.2h6.1v1h-6.1zM201 748.4h1v2.8h-1zM201.2 752.7h6.1v1h-6.1zM203.7 739.9h1l-0.2 2.4h-1zM203.7 741.6h5.1v1h-5.1zM202.9 739.5h1.5v1h-1.5zM206.5 750.7h1l0.1 2.7h-1zM205.1 736.7h1v3.6h-1zM204 739.5h1.8v1h-1.8zM205.3 739.5h3.1v1h-3.1zM207.6 736.8h1v3.4h-1zM205.3 736.5h3.1v1h-3.1zM199.7 741.7h4.5v1h-4.5zM206.5 748.4h1v2.8h-1zM201.2 750.4h6.1v1h-6.1zM206.9 752.7h1.9v1h-1.9zM202.6 736.7h1v3.6h-1zM200.3 739.5h3.1v1h-3.1zM200.2 736.8h1l-0.1 3.4h-1zM200.4 736.5h2.9v1h-2.9zM201 744.2h1v2.5h-1zM201.3 743.9h2.6v1h-2.6zM206.5 744.1h1v2.7h-1zM203.5 743.9h3.7v1h-3.7zM201.2 746h6.1v1h-6.1zM206.5 746.2h1v2.8h-1zM203.5 742h1l-0.3 2.6h-1zM212.9 743h1l0.2 0.8h-1zM213 737.1h1v5.3h-1zM211.1 741.6l2.5 0.1v1l-2.5-0.1zM216 750.8h3.8v1h-3.8zM213.3 737l2.4-1v1l-2.4 1zM213.3 741.6h2.5v1h-2.5zM213 742h1l-0.1 1.4h-1zM212.9 743.4h1l1 1.8h-1zM213.7 744.8h1l1.1 2.8h-1zM211.4 748.4h1l-0.9 2.4h-1zM212 746.5h1l-0.8 2.3h-1zM212.8 743.3h1l-0.9 3.6h-1zM215.8 751.2h1v2.1h-1zM211.3 737.5l2.4-0.7v1l-2.4 0.7zM215.8 737.8h1v13.7h-1zM216.1 737.5l3.6 0.1v1l-3.6-0.1zM219 737.8h1v13.8h-1zM219 751.2h1v1.9h-1zM213 743.4h1v10.6h-1zM223.1 743.3h1v5.1h-1zM226.5 747.9h1v4.6h-1zM226.4 752h1l0.2 1.1h-1zM226.9 752.4l4.2 0.5v1l-4.2-0.5zM230.9 752.3h1l-0.6 1.2h-1zM231 749.9h1l-0.2 2.8h-1zM226.7 747.7h4.1v1h-4.1zM230 743.4h1v5h-1zM230.8 749.3h1l0.3 0.9h-1zM226.5 735.9h1v3.4h-1zM230 739h1v4.7h-1zM226.7 738.7h4.1v1h-4.1zM223.1 748h1v1.7h-1zM223.3 747.7h4v1h-4zM223.3 743.1h4v1h-4zM223.3 738.7h4v1h-4zM223.1 739h1v4.7h-1zM226.5 738.9h1v4.9h-1zM226.7 743.1h4.1v1h-4.1zM226.5 743.3h1v5.1h-1zM238.2 741.9h1l-0.2 1h-1zM235.6 747.4h5.8v1h-5.8zM241 742.6h1l1 2.2h-1zM239.4 740.5h1l1.8 2.5h-1zM239.2 745.1h1l1.8 2.4h-1zM237.9 742.6h1l1.5 2.9h-1zM241.1 746.7l1.9 1.8v1l-1.9-1.8zM240.9 747.1h1l-0.4 1h-1zM236.6 740.2h1l-1 1.9h-1zM235.9 741.7h1l-1.1 1.7h-1zM235 743h1l-1.1 1.5h-1zM237.7 736h1l0.6 2.4h-1zM236.8 740l0.6-0.3v1l-0.6 0.3zM235.2 747.3h1l0.2 0.8h-1zM235.4 752.9h1v1.2h-1zM240.6 747.6h1v5.8h-1zM235.4 747.6h1v5.8h-1zM238.6 737.7l4.1 0.1v1l-4.1-0.1zM242 738h1v3h-1zM234 748.8l2-2v1l-2 2zM240.6 752.9h1l-0.1 1.1h-1zM235.6 752.6h5.8v1h-5.8zM236.8 745.1h1l-1.6 2.6h-1zM238.1 742.6h1l-1.5 2.9h-1zM234.3 737.8l4.6-0.1v1l-4.6 0.1zM234 738.1h1v2.8h-1zM242.6 748.4l0.7-0.3v1l-0.7 0.3zM250.4 752.7h3.3v1h-3.3zM245.3 744.3h3.4v1h-3.4zM250.9 744.3l3.6-0.1v1l-3.6 0.1zM249.2 742.1h1l-0.8 2.3h-1zM248.7 744.2l2.6 0.1v1l-2.6-0.1zM251.6 746.7h1l1.4 1.7h-1zM250.8 745.7h1l1.1 1.4h-1zM250.5 745.1h1l0.6 1h-1zM245.3 748.6l1.2-0.8v1l-1.2 0.8zM254.1 748.1l0.6-0.2v1l-0.6 0.2zM250.7 742.6h1l1.6 1.6h-1zM249.4 741.9l0.6-0.5v1l-0.6 0.5zM252.9 748.1h1l0.1 5.3h-1zM245.8 748.1h1v5.4h-1zM253 747.7h0.7v1h-0.7zM253.2 747.7l1.3 0.4v1l-1.3-0.4zM250.5 747.9l3-0.2v1l-3 0.2zM250.3 748.2h1l-0.1 5.2h-1zM248.3 744.4l0.8-0.3v1l-0.8 0.3zM245.8 753h1v1.1h-1zM248.1 744.6h1l-0.5 1.4h-1zM247.8 745.6h1l-0.9 1.4h-1zM247.2 746.6h1l-1.1 1.4h-1zM248.4 748.1h1v5.4h-1zM246.4 747.8l2.7 0.1v1l-2.7-0.1zM253 753h1l-0.1 1h-1zM246 752.7h3.2v1h-3.2zM250.2 753h1v1.1h-1zM248.4 753h1v1h-1zM246.1 748l0.7-0.4v1l-0.7 0.4zM252.9 737h1l0.1 1.7h-1zM250.4 736.7h3.3v1h-3.3zM250.2 737h1v4.8h-1zM250.5 741.1h3.1v1h-3.1zM253 738.3h1l-0.1 3.5h-1zM246.1 737l3-0.4v1l-3 0.4zM248.4 737h1v4.8h-1zM246.1 741.1h3v1h-3zM245.8 737.3h1v4.5h-1zM259.6 740.5h1l-0.8 2.5h-1zM258.7 743.3h1l-2 4.9h-1zM256.9 742.9l2.5-0.5v1l-2.5 0.5zM256.7 743.1l0.6-0.3v1l-0.6 0.3zM256.8 748l0.7-0.6v1l-0.7 0.6zM264.3 737h1v5.6h-1zM261 736.7h4.1v1h-4.1zM260.8 737h1v5.6h-1zM264.5 752.9h1.6v1h-1.6zM264.3 742.2h1v5.9h-1zM264.3 747.6h1v6h-1zM259.9 752.9h1.6v1h-1.6zM261 747.4h4.1v1h-4.1zM261 752.9h4.1v1h-4.1zM257.7 739.9h1l-1.1 3.7h-1zM258.6 736.2h1l-1 4.1h-1zM256.7 751.8l3.6-1.7v1l-3.6 1.7zM260.8 742.2h1v5.9h-1zM261 741.9h4.1v1h-4.1zM260.8 747.6h1v6h-1zM257.5 747.6l2.8-1.2v1l-2.8 1.2zM270.5 749h4.4v1h-4.4zM274.1 743.9h1v5.8h-1zM270.6 743.5l4.2 0.1v1l-4.2-0.1zM270.3 743.8h1v5.9h-1zM270 740.3l5.4-0.1v1l-5.4 0.1zM268.3 737.1h1l-0.1 17h-1zM268.6 736.8h8.2v1h-8.2zM276.1 737.1h1v16.6h-1zM276 753.6l0.8-0.8v1l-0.8 0.8zM274.7 753.4h1.8v1h-1.8zM270.3 749.4h1v2h-1zM279.6 737.8h1v6.3h-1zM279.9 737.5h3v1h-3zM282.2 737.7h1v6.5h-1zM286.8 740h2.1v1h-2.1zM279.6 743.7h1v6.7h-1zM279.8 743.4h3.2v1h-3.2zM283.6 743h1l1.7 5.1h-1zM279.6 749.9h1v2h-1zM284.7 752.9l2 0.4v1l-2-0.4zM286.3 753.4l1-0.8v1l-1 0.8zM286.6 740.4h1v13h-1zM279.9 749.6h3v1h-3zM282.2 743.7h1v6.7h-1zM286.6 736.1h1v4.6h-1zM283.3 740.1l4-0.1v1l-4 0.1zM295.8 750.1h1l-0.4 1.2h-1zM296.1 748.9h1l-0.4 1.6h-1zM296.2 747.6h1l-0.2 1.7h-1zM296.2 746.3h1v1.7h-1zM291.7 741.1h1l-1.4 3.9h-1zM293.5 738.2h3.5v1h-3.5zM296.3 736h1v2.8h-1zM296.5 738.2h3.8v1h-3.8zM294.5 749.9h1l1 1.4h-1zM294 748.7h1l0.8 1.6h-1zM293.6 747.6h1l0.6 1.5h-1zM291.9 740.9h1v13.3h-1zM293.3 753.6l1.2-0.9v1l-1.2 0.9zM294.6 752.6h1l-1 1h-1zM295.2 751.7h1l-0.9 1.3h-1zM295.4 751h1l-0.5 1.1h-1zM296.3 741.7h1v5h-1zM296.3 738.4h1v3.7h-1zM292 740h1l-0.1 1.3h-1zM292.6 738.3h1l-0.7 2.1h-1zM293.1 736h1l-0.6 2.7h-1zM295.6 750.7h0.6v1h-0.6zM295.2 751h1l1.2 1.3h-1zM296.6 751.5l1.5 1.2v1l-1.5-1.2zM297.7 752.4l2.3 1.1v1l-2.3-1.1zM296.6 746h3.2v1h-3.2zM299.1 741.6h1v5.1h-1zM296.5 741.3h3.4v1h-3.4zM293.9 741.4l3.1-0.1v1l-3.1 0.1zM293.6 741.7h1v5h-1zM293.8 746h3.2v1h-3.2zM303.1 742.3h1v5.2h-1zM303.3 746.9h3.9v1h-3.9zM303.1 747.2h1l-0.2 2.2h-1zM303 749h1l-0.3 2.2h-1zM302.7 750.8h1l-0.4 2h-1zM302.4 752.4h1l-0.5 1.6h-1zM306.6 737.1h4.2v1h-4.2zM310 737.3h1v5.4h-1zM306.4 737.4h1v5.3h-1zM306.4 747.2h1v6.7h-1zM306.4 742.2h1v5.4h-1zM303.3 741.9h3.9v1h-3.9zM306.6 746.9h4.2v1h-4.2zM308.2 752.9l2.1 0.4v1l-2.1-0.4zM310.2 752.8h1l-0.8 1.1h-1zM310 747.1h1v6.2h-1zM303.1 737.4h1v5.2h-1zM303.3 737.1h3.9v1h-3.9zM306.6 741.9h4.2v1h-4.2zM310 742.2h1v5.3h-1zM313.8 737.8h1v6.3h-1zM314.1 737.5h3v1h-3zM316.4 737.7h1v6.5h-1zM321 740h2.1v1h-2.1zM313.8 743.7h1v6.7h-1zM314 743.4h3.2v1h-3.2zM317.8 743h1l1.7 5.1h-1zM313.8 749.9h1v2h-1zM318.9 752.9l2 0.4v1l-2-0.4zM320.5 753.4l1-0.8v1l-1 0.8zM320.8 740.4h1v13h-1zM314.1 749.6h3v1h-3zM316.4 743.7h1v6.7h-1zM320.8 736.1h1v4.6h-1zM317.5 740.1l4-0.1v1l-4 0.1zM325.7 743.3h1v5.1h-1zM329.1 747.9h1v4.6h-1zM329 752h1l0.2 1.1h-1zM329.5 752.4l4.2 0.5v1l-4.2-0.5zM333.5 752.3h1l-0.6 1.2h-1zM333.6 749.9h1l-0.2 2.8h-1zM329.3 747.7h4.1v1h-4.1zM332.6 743.4h1v5h-1zM333.4 749.3h1l0.3 0.9h-1zM329.1 735.9h1v3.4h-1zM332.6 739h1v4.7h-1zM329.3 738.7h4.1v1h-4.1zM325.7 748h1v1.7h-1zM325.9 747.7h4v1h-4zM325.9 743.1h4v1h-4zM325.9 738.7h4v1h-4zM325.7 739h1v4.7h-1zM329.1 738.9h1v4.9h-1zM329.3 743.1h4.1v1h-4.1zM329.1 743.3h1v5.1h-1zM340.8 741.9h1l-0.2 1h-1zM338.2 747.4h5.7v1h-5.7zM343.6 742.6h1l1 2.2h-1zM342 740.5h1l1.8 2.5h-1zM341.8 745.1h1l1.8 2.4h-1zM340.5 742.6h1l1.5 2.9h-1zM343.7 746.7l1.9 1.8v1l-1.9-1.8zM343.5 747.1h1l-0.4 1h-1zM339.2 740.2h1l-1 1.9h-1zM338.5 741.7h1l-1.1 1.7h-1zM337.6 743h1l-1.1 1.5h-1zM340.3 736h1l0.6 2.4h-1zM339.4 740l0.6-0.3v1l-0.6 0.3zM337.8 747.3h1l0.2 0.8h-1zM338 752.9h1v1.2h-1zM343.2 747.6h1v5.8h-1zM338 747.6h1v5.8h-1zM341.2 737.7l4.1 0.1v1l-4.1-0.1zM344.6 738h1v3h-1zM336.6 748.8l2-2v1l-2 2zM343.2 752.9h1l-0.1 1.1h-1zM338.2 752.6h5.7v1h-5.7zM339.4 745.1h1l-1.6 2.6h-1zM340.7 742.6h1l-1.5 2.9h-1zM336.9 737.8l4.6-0.1v1l-4.6 0.1zM336.6 738.1h1v2.8h-1zM345.2 748.4l0.7-0.3v1l-0.7 0.3zM353 752.7h3.3v1h-3.3zM347.9 744.3h3.4v1h-3.4zM353.5 744.3l3.6-0.1v1l-3.6 0.1zM351.8 742.1h1l-0.8 2.3h-1zM351.3 744.2l2.6 0.1v1l-2.6-0.1zM354.2 746.7h1l1.4 1.7h-1zM353.4 745.7h1l1.1 1.4h-1zM353.1 745.1h1l0.6 1h-1zM347.9 748.6l1.2-0.8v1l-1.2 0.8zM356.7 748.1l0.6-0.2v1l-0.6 0.2zM353.3 742.6h1l1.6 1.6h-1zM352 741.9l0.6-0.5v1l-0.6 0.5zM355.5 748.1h1l0.1 5.3h-1zM348.4 748.1h1v5.4h-1zM355.6 747.7h0.7v1h-0.7zM355.8 747.7l1.3 0.4v1l-1.3-0.4zM353.1 747.9l3-0.2v1l-3 0.2zM352.9 748.2h1l-0.1 5.2h-1zM350.9 744.4l0.8-0.3v1l-0.8 0.3zM348.4 753h1v1.1h-1zM350.7 744.6h1l-0.5 1.4h-1zM350.4 745.6h1l-0.9 1.4h-1zM349.8 746.6h1l-1.1 1.4h-1zM351 748.1h1v5.4h-1zM349 747.8l2.7 0.1v1l-2.7-0.1zM355.6 753h1l-0.1 1h-1zM348.6 752.7h3.2v1h-3.2zM352.8 753h1v1.1h-1zM351 753h1v1h-1zM348.7 748l0.7-0.4v1l-0.7 0.4zM355.5 737h1l0.1 1.7h-1zM353 736.7h3.3v1h-3.3zM352.8 737h1v4.8h-1zM353.1 741.1h3.1v1h-3.1zM355.6 738.3h1l-0.1 3.5h-1zM348.7 737l3-0.4v1l-3 0.4zM351 737h1v4.8h-1zM348.7 741.1h3v1h-3zM348.4 737.3h1v4.5h-1zM362.2 740.5h1l-0.8 2.5h-1zM361.3 743.3h1l-2 4.9h-1zM359.5 742.9l2.5-0.5v1l-2.5 0.5zM359.3 743.1l0.6-0.3v1l-0.6 0.3zM359.4 748l0.7-0.6v1l-0.7 0.6zM366.9 737h1v5.6h-1zM363.6 736.7h4.1v1h-4.1zM363.4 737h1v5.6h-1zM367.1 752.9h1.6v1h-1.6zM366.9 742.2h1v5.9h-1zM366.9 747.6h1v6h-1zM362.5 752.9h1.6v1h-1.6zM363.6 747.4h4.1v1h-4.1zM363.6 752.9h4.1v1h-4.1zM360.3 739.9h1l-1.1 3.7h-1zM361.2 736.2h1l-1 4.1h-1zM359.3 751.8l3.6-1.7v1l-3.6 1.7zM363.4 742.2h1v5.9h-1zM363.6 741.9h4.1v1h-4.1zM363.4 747.6h1v6h-1zM360.1 747.6l2.8-1.2v1l-2.8 1.2zM375.1 743.3h1l-0.2 2.9h-1zM375 745.8h1l-0.3 1.7h-1zM374.8 747.1h1l-0.4 1.4h-1zM374.5 748.1h1l-0.6 1.4h-1zM374.1 749.1h1l-0.6 1h-1zM373.8 749.7h1l-1.1 1.1h-1zM376.3 742.9h1.4v1h-1.4zM371.9 743.7h1v8.1h-1zM370.8 743.4l1.8 0.1v1l-1.8-0.1zM372.1 751.3h1l-1.1 1.2h-1zM371.3 752.1h1l-0.9 1.7h-1zM379 747.3h1l0.2 0.8h-1zM375.3 742.9h1.6v1h-1.6zM374.6 736.6h1l-0.4 2.8h-1zM376.9 743.2h1v6.7h-1zM376.8 749.4h1l0.3 1.1h-1zM377.3 749.8l2.1 0.1v1l-2.1-0.1zM379.2 749.3h1l-0.5 1.3h-1zM379.2 747.8h1l-0.1 1.9h-1zM377.1 742.9h2.9v1h-2.9zM376.1 736h1v3.4h-1zM372.2 750.8l1.8 1.8v1l-1.8-1.8zM373.6 752.3l1 0.6v1l-1-0.6zM374.2 752.7l1.1 0.3v1l-1.1-0.3zM374.9 753l4.9-0.2v1l-4.9 0.2zM374.5 738.7l2.3 0.1v1l-2.3-0.1zM376.1 739h1v4.7h-1zM373.4 743l2.4-0.1v1l-2.4 0.1zM376.4 738.8l3-0.1v1l-3 0.1zM370.4 736.8h1l0.8 1h-1zM371 737.4h1l1.3 2.8h-1zM374.3 739h1l-0.8 2.5h-1zM383.3 745.8h1v0.6h-1zM385.2 749.7h3.4v1h-3.4zM383.3 746h1v7.6h-1zM383 753.4l1-0.7v1l-1 0.7zM382.2 752.9l1.2 0.4v1l-1.2-0.4zM388 746.2h2.6v1h-2.6zM385.8 746.3l2.7-0.1v1l-2.7 0.1zM388 741.5h0.7v1h-0.7zM382 740.1l2-0.1v1l-2 0.1zM387.8 744.4h1v2.6h-1zM390.9 744l0.7-0.3v1l-0.7 0.3zM387.8 746.5h1v3.9h-1zM383.3 740.3h1v5.9h-1zM383.6 745.6l1.7-1v1l-1.7 1zM383.3 735.9h1v4.9h-1zM387.8 750h1v4.1h-1zM389.4 739.3h1l-1.6 2.8h-1zM389.9 738h1l-0.6 1.7h-1zM390 737.4h1l-0.2 1h-1zM385.1 743.7l0.6 0.3v1l-0.6-0.3zM387.9 741.8h1l-1.4 1.7h-1zM385.3 744.1l2-1.5v1l-2 1.5zM383.5 740h1.9v1h-1.9zM388.1 749.7l3.3-0.1v1l-3.3 0.1zM389.4 742.8l1.9 1.2v1l-1.9-1.2zM388.1 742.3h1l1.2 1.3h-1zM387.8 741.8h1l0.6 0.9h-1zM386.2 737l4.4 0.1v1l-4.4-0.1zM385.4 737h1.3v1h-1.3zM385.9 737.3h1l0.7 2.5h-1zM386.4 739.4h1l1.5 2.7h-1zM382.1 746.8l1.9-1.2v1l-1.9 1.2zM394 737.2h2.3v1h-2.3zM395.9 737.3l3.6-0.6v1l-3.6 0.6zM399.1 736.8l2.5-0.7v1l-2.5 0.7zM398.2 745.1h4.4v1h-4.4zM394.8 741.1h1l0.5 2.1h-1zM394.3 739.6h1l0.6 1.9h-1zM397.1 738.9h1l0.4 2h-1zM397.4 740.5h1l0.3 2.1h-1zM393.5 745.1h4.5v1h-4.5zM397.5 745.1h0.8v1h-0.8zM393.3 752.2l0.6 0.3v1l-0.6-0.3zM397.6 745.5h1l-0.1 8.6h-1zM397.6 743.4h1v2.4h-1zM401 739h1l-1.6 5h-1zM397.8 745.1h0.9v1h-0.9zM397.3 745.5h1l-0.6 1.8h-1zM396.9 746.9h1l-1.4 2.9h-1zM395.8 749.4h1l-1.5 2.2h-1zM394.6 751.2h1l-1.5 1.9h-1zM401.8 751.7l1.1 0.7v1l-1.1-0.7zM399.7 749.9h1l1.9 2.7h-1zM398.4 747.3h1l1.6 3h-1zM397.9 746h1l0.7 1.7h-1zM410.8 743.9h2.6v1h-2.6zM406.2 735.9h1v4.5h-1zM406.2 741.9h1l-0.1 12.1h-1zM407 744h1l0.3 1.8h-1zM406.4 742.1h1l0.7 2.3h-1zM405 739.7h1.8v1h-1.8zM406.5 739.7h1.6v1h-1.6zM407.9 748.3l3.3-0.1v1l-3.3 0.1zM410.7 748.2h3.4v1h-3.4zM408.3 739.7h3v1h-3zM405.3 746.1h1l-0.8 3.1h-1zM405.9 742h1l-0.7 4.5h-1zM408.6 743.9h2.7v1h-2.7zM406.4 741.2l0.5 0.5v1l-0.5-0.5zM406.1 740.1h1v2h-1zM411.8 739.6h2v1h-2zM410.5 748.6h1v5.5h-1zM410.5 744.1h1v4.9h-1zM410.5 739.9h1v4.8h-1zM412.7 736.1h1l-1.1 3.8h-1zM408.6 736.2h1l1 3.1h-1zM410.8 739.7l1.4-0.1v1l-1.4 0.1zM417.9 738.3h1l-2.7 3.8h-1zM417.8 738.2h1v15.3h-1zM428.1 736.1h1l0.5 3h-1zM427.2 746.5h1l0.3 4.6h-1zM426.7 742.4h1l0.5 4.5h-1zM429.3 752.5h3.1v1h-3.1zM426.2 739.6h5.6v1h-5.6zM424 741.3h1l-1.4 3.6h-1zM424.1 741h1l0.1 13h-1zM424.3 740.2h1l-0.2 1.2h-1zM424.7 738.8h1l-0.5 1.8h-1zM425.3 736.1h1l-0.7 3.1h-1zM425.8 752.5h4v1h-4zM429.7 747.8h1l-0.6 5.3h-1zM430.2 742.2h1l-0.6 6h-1zM435.7 746.2h1v2.8h-1zM434.4 752.7h2.1v1h-2.1zM438.5 741.8l0.4-0.3v1l-0.4 0.3zM437.5 736.5h3v1h-3zM435.7 750.6h1v2.9h-1zM435.9 748.2h6.1v1h-6.1zM435.7 748.4h1v2.8h-1zM435.9 752.7h6.1v1h-6.1zM438.4 739.9h1l-0.2 2.4h-1zM438.4 741.6h5.1v1h-5.1zM437.6 739.5h1.5v1h-1.5zM441.2 750.7h1l0.1 2.7h-1zM439.8 736.7h1v3.6h-1zM438.7 739.5h1.8v1h-1.8zM440 739.5h3.1v1h-3.1zM442.3 736.8h1v3.4h-1zM440 736.5h3.1v1h-3.1zM434.4 741.7h4.5v1h-4.5zM441.2 748.4h1v2.8h-1zM435.9 750.4h6.1v1h-6.1zM441.6 752.7h1.9v1h-1.9zM437.3 736.7h1v3.6h-1zM435 739.5h3.1v1h-3.1zM434.9 736.8h1l-0.1 3.4h-1zM435.1 736.5h2.9v1h-2.9zM435.7 744.2h1v2.5h-1zM436 743.9h2.6v1h-2.6zM441.2 744.1h1v2.7h-1zM438.2 743.9h3.7v1h-3.7zM435.9 746h6.1v1h-6.1zM441.2 746.2h1v2.8h-1zM438.2 742h1l-0.3 2.6h-1zM457.4 743.9h1l-0.3 6.9h-1zM457.2 750.4h1l-0.2 2.1h-1zM457 752.1h1l-0.2 1.3h-1zM456.5 753.4l1-0.9v1l-1 0.9zM455 753.1l1.9 0.2v1l-1.9-0.2zM451.6 743.6h2.9v1h-2.9zM453.7 743.9h1l-0.2 2.4h-1zM453.6 745.9h1l-0.4 2.4h-1zM453.3 747.9h1l-0.7 3h-1zM452.7 750.5h1l-1.1 2.3h-1zM451.8 752.4h1l-0.9 1.1h-1zM450.7 753.6l1.1-1v1l-1.1 1zM457.8 742.1h1l1.1 2h-1zM457.2 740.6h1l0.8 1.9h-1zM456.5 738.5h1l0.9 2.5h-1zM456 736.6h1l0.6 2.3h-1zM453.9 743.6h4.3v1h-4.3zM453 736.6h1l-0.8 3.1h-1zM452.4 739.3h1l-0.9 2.5h-1zM451.6 741.4h1l-1.4 2.9h-1zM463.1 736.7h1l0.8 2.1h-1zM464.4 746.3h1l1.1 2.7h-1zM467.5 741.7l1.6 1.5v1l-1.6-1.5zM468.2 743.3h1l2.2 3.5h-1zM465.6 743.7h1l-1.3 2.6h-1zM467.2 742.2h1v11.8h-1zM461.8 739.5h3.7v1h-3.7zM463.6 744h1l-0.1 1h-1zM464.3 742.4h1l-0.8 2h-1zM464.8 740.7h1l-0.7 2.1h-1zM464.9 739.8h1l-0.2 1.3h-1zM463.6 744.6h1l-2 3.6h-1zM461.5 748.1l0.9-0.8v1l-0.9 0.8zM463.5 744.6h1v9.5h-1zM467.2 735.9h1v6.7h-1zM463.4 744.6h1l1.1 1.7h-1zM473.3 737.8h1v6.3h-1zM473.6 737.5h3v1h-3zM475.9 737.7h1v6.5h-1zM480.5 740h2.1v1h-2.1zM473.3 743.7h1v6.7h-1zM473.5 743.4h3.2v1h-3.2zM477.3 743h1l1.7 5.1h-1zM473.3 749.9h1v2h-1zM478.4 752.9l2 0.4v1l-2-0.4zM480 753.4l1-0.8v1l-1 0.8zM480.3 740.4h1v13h-1zM473.6 749.6h3v1h-3zM475.9 743.7h1v6.7h-1zM480.3 736.1h1v4.6h-1zM477 740.1l4-0.1v1l-4 0.1zM486.4 747.2l2.4 1.7v1l-2.4-1.7zM488.4 748.6l1.1 1.1v1l-1.1-1.1zM487.6 743.6l3.8 0.1v1l-3.8-0.1zM485.1 738.2h4.5v1h-4.5zM484.9 738.5h1l-0.1 3.5h-1zM491.5 751.4l1.8 1.5v1l-1.8-1.5zM489.4 749.3l2.5 2.4v1l-2.5-2.4zM488.2 736h1l0.6 2.1h-1zM488.7 737.7h1l0.1 1.1h-1zM488.2 740.3h1l-0.9 3.6h-1zM490.7 744h1l-0.2 1.6h-1zM490.6 745.2h1l-0.5 2h-1zM490.3 746.8h1l-1.3 3.4h-1zM485 753.1l2.8-1.4v1l-2.8 1.4zM488.6 750.6h1l-1.7 1.9h-1zM488.9 750.1h1l-0.6 0.9h-1zM486.1 747.6l0.7-0.4v1l-0.7 0.4zM484.7 743.7h3.2v1h-3.2zM491 743.7l2.6-0.1v1l-2.6 0.1zM489 738.2h4.3v1h-4.3zM492.5 738.4h1v3.7h-1zM487.1 744.6h1l-1.1 3.4h-1zM487.1 744h1l-0.1 1h-1zM487.4 743.7l0.6-0.1v1l-0.6 0.1zM489 749.5h0.9v1h-0.9zM495.8 737.4h1l1.5 2.1h-1zM496 746.6l4.4 0.1v1l-4.4-0.1zM500 746.7l0.9-0.1v1l-0.9 0.1zM499.8 747h1l-0.5 1.3h-1zM499.5 747.9h1l-1.7 1.9h-1zM504.1 748.4h1l-2.6 2.6h-1zM495.8 750.5l0.6 0.3v1l-0.6-0.3zM496.1 750.9l2.5-1.7v1l-2.5 1.7zM500.6 746.6h4.7v1h-4.7zM498.2 736h1v5.4h-1zM499.6 743.6l2.7-0.1v1l-2.7 0.1zM498.2 753.1l3.2-1.4v1l-3.2 1.4zM499.2 738.9h3.2v1h-3.2zM498 749.7h1l-0.1 3.9h-1zM499.8 745h1l0.6 2.2h-1zM501.7 736h1l-0.1 3.6h-1zM500.7 749h1l1.1 2h-1zM500.2 747.5h1l0.7 1.9h-1zM501.6 739.1h1v5.2h-1zM496 743.1l2.8-2.5v1l-2.8 2.5zM497.9 753.5l0.7-0.7v1l-0.7 0.7zM500.5 746.7l0.5-0.2v1l-0.5 0.2zM498.2 741.1h1l-0.1 4h-1zM502 738.9h3v1h-3zM501.6 750.6h1l1.3 2h-1zM503.1 751.7l1.3 1.2v1l-1.3-1.2zM504 752.6l1.1 0.7v1l-1.1-0.7zM501.9 743.5h3v1h-3zM504.7 753.3l0.6-0.4v1l-0.6 0.4zM508 745h1.3v1h-1.3zM507.7 738.6h1l-1.2 1.5h-1zM507.8 738.4l1.2-0.5v1l-1.2 0.5zM508.6 737.9l1.3 0.5v1l-1.3-0.5zM509.1 738.6h1l0.9 1.5h-1zM509.8 739.7h1l0.3 1.3h-1zM510.1 740.6h1v1.1h-1zM510.1 741.3h1v1.6h-1zM510.1 742.5h1l-0.6 2.1h-1zM509.1 744.8l1.1-1.1v1l-1.1 1.1zM508.9 744.8l1 0.9v1l-1-0.9zM509 745.8h1l0.9 0.9h-1zM509.6 746.3h1l0.5 1h-1zM509.9 746.9h1l0.4 1.2h-1zM510.2 747.7h1l0.2 1.5h-1zM510.4 748.7h1v1.4h-1zM510.4 749.6h1l-0.1 1.5h-1zM510.3 750.7h1l-0.3 1.3h-1zM510.1 751.6h1l-0.5 1h-1zM509.9 752.2h1l-0.8 0.9h-1zM508.4 752.8l1.6-0.5v1l-1.6 0.5zM507.8 752.4l1 0.4v1l-1-0.4zM507.3 751.9l0.9 0.7v1l-0.9-0.7zM506.2 751.3h1l0.9 1.5h-1zM522.3 748.5h1l1.3 1.7h-1zM523.3 749.8h1l2.4 4.2h-1zM519.9 748.6h1l-1.4 3.1h-1zM518.7 751.3h1l-1.9 2.8h-1zM518.3 737.2h5.5v1h-5.5zM518.1 737.5h1v8.5h-1zM518.4 745.3h6.8v1h-6.8zM524.5 737.5h1v8.5h-1zM523.3 737.2h1.9v1h-1.9zM534.3 736.2h1v4.8h-1zM534.3 740.6h1v6.9h-1zM538.4 746.7h3v1h-3zM534.5 740.4h4.4v1h-4.4zM533.8 751.5h1l-1.9 2.5h-1zM534.9 749.2h1l-1.4 2.7h-1zM538.1 736.2h1v4.8h-1zM538.1 740.6h1v6.9h-1zM538.4 740.4l2.6-0.1v1l-2.6 0.1zM532.1 753.2l0.7 0.2v1l-0.7-0.2zM531.9 746.7h3.2v1h-3.2zM537.7 749.7h1l2.6 4.2h-1zM537.6 748.8l0.9 0.7v1l-0.9-0.7zM534.5 746.7h4.4v1h-4.4zM532.4 740.4h2.7v1h-2.7zM544.8 736.7h1l0.8 2.1h-1zM546.1 746.3h1l1.1 2.7h-1zM549.2 741.7l1.6 1.5v1l-1.6-1.5zM549.9 743.3h1l2.2 3.5h-1zM547.3 743.7h1l-1.3 2.6h-1zM548.9 742.2h1v11.8h-1zM543.5 739.5h3.7v1h-3.7zM545.3 744h1l-0.1 1h-1zM546 742.4h1l-0.8 2h-1zM546.5 740.7h1l-0.7 2.1h-1zM546.6 739.8h1l-0.2 1.3h-1zM545.3 744.6h1l-2 3.6h-1zM543.2 748.1l0.9-0.8v1l-0.9 0.8zM545.2 744.6h1v9.5h-1zM548.9 735.9h1v6.7h-1zM545.1 744.6h1l1.1 1.7h-1zM555 737.8h1v6.3h-1zM555.3 737.5h3v1h-3zM557.6 737.7h1v6.5h-1zM562.2 740h2.1v1h-2.1zM555 743.7h1v6.7h-1zM555.2 743.4h3.2v1h-3.2zM559 743h1l1.7 5.1h-1zM555 749.9h1v2h-1zM560.1 752.9l2 0.4v1l-2-0.4zM561.7 753.4l1-0.8v1l-1 0.8zM562 740.4h1v13h-1zM555.3 749.6h3v1h-3zM557.6 743.7h1v6.7h-1zM562 736.1h1v4.6h-1zM558.7 740.1l4-0.1v1l-4 0.1zM568.1 747.2l2.4 1.7v1l-2.4-1.7zM570.1 748.6l1.1 1.1v1l-1.1-1.1zM569.3 743.6l3.8 0.1v1l-3.8-0.1zM566.8 738.2h4.5v1h-4.5zM566.6 738.5h1l-0.1 3.5h-1zM573.2 751.4l1.8 1.5v1l-1.8-1.5zM571.1 749.3l2.5 2.4v1l-2.5-2.4zM569.9 736h1l0.6 2.1h-1zM570.4 737.7h1l0.1 1.1h-1zM569.9 740.3h1l-0.9 3.6h-1zM572.4 744h1l-0.2 1.6h-1zM572.3 745.2h1l-0.5 2h-1zM572 746.8h1l-1.3 3.4h-1zM566.7 753.1l2.8-1.4v1l-2.8 1.4zM570.3 750.6h1l-1.7 1.9h-1zM570.6 750.1h1l-0.6 0.9h-1zM567.8 747.6l0.7-0.4v1l-0.7 0.4zM566.4 743.7h3.2v1h-3.2zM572.7 743.7l2.6-0.1v1l-2.6 0.1zM570.7 738.2h4.3v1h-4.3zM574.2 738.4h1v3.7h-1zM568.8 744.6h1l-1.1 3.4h-1zM568.8 744h1l-0.1 1h-1zM569.1 743.7l0.6-0.1v1l-0.6 0.1zM570.7 749.5h0.9v1h-0.9zM577.5 737.4h1l1.5 2.1h-1zM577.7 746.6l4.4 0.1v1l-4.4-0.1zM581.7 746.7l0.9-0.1v1l-0.9 0.1zM581.5 747h1l-0.5 1.3h-1zM581.2 747.9h1l-1.7 1.9h-1zM585.8 748.4h1l-2.6 2.6h-1zM577.5 750.5l0.6 0.3v1l-0.6-0.3zM577.8 750.9l2.5-1.7v1l-2.5 1.7zM582.3 746.6h4.7v1h-4.7zM579.9 736h1v5.4h-1zM581.3 743.6l2.7-0.1v1l-2.7 0.1zM579.9 753.1l3.2-1.4v1l-3.2 1.4zM580.9 738.9h3.2v1h-3.2zM579.7 749.7h1l-0.1 3.9h-1zM581.5 745h1l0.6 2.2h-1zM583.4 736h1l-0.1 3.6h-1zM582.4 749h1l1.1 2h-1zM581.9 747.5h1l0.7 1.9h-1zM583.3 739.1h1v5.2h-1zM577.7 743.1l2.8-2.5v1l-2.8 2.5zM579.6 753.5l0.7-0.7v1l-0.7 0.7zM582.2 746.7l0.5-0.2v1l-0.5 0.2zM579.9 741.1h1l-0.1 4h-1zM583.7 738.9h3v1h-3zM583.3 750.6h1l1.3 2h-1zM584.8 751.7l1.3 1.2v1l-1.3-1.2zM585.7 752.6l1.1 0.7v1l-1.1-0.7zM583.6 743.5h3v1h-3zM586.4 753.3l0.6-0.4v1l-0.6 0.4zM591.3 738.3h1l-2.6 3.8h-1zM591.2 738.2h1v15.3h-1zM600.8 748.5h1l1.3 1.7h-1zM601.8 749.8h1l2.4 4.2h-1zM598.4 748.6h1l-1.4 3.1h-1zM597.2 751.3h1l-1.9 2.8h-1zM596.8 737.2h5.5v1h-5.5zM596.6 737.5h1v8.5h-1zM596.9 745.3h6.8v1h-6.8zM603 737.5h1v8.5h-1zM601.8 737.2h1.9v1h-1.9zM607.5 745.7h1v7h-1zM608.1 752l2.9-2.2v1l-2.9 2.2zM613.6 748.7l1.6 0.4v1l-1.6-0.4zM614.8 749.2l1-0.7v1l-1 0.7zM615.1 737.2h1v12.1h-1zM612.5 736.9h3.4v1h-3.4zM612.3 737.2h1v16.9h-1zM610.2 749.7h1l0.1 1h-1zM609.6 747.8h1l0.7 2.3h-1zM610.3 750.3h1l0.7 2.6h-1zM607.5 741.2h1v4.9h-1zM607.5 737.1h1v4.5h-1zM607.7 736.8h3.8v1h-3.8zM610.7 737.1h1v4.5h-1zM607.7 745.3h3.8v1h-3.8zM610.7 741.3h1v4.7h-1zM607.7 740.9h3.8v1h-3.8zM607.6 752.3h1l-0.6 0.8h-1zM618.6 737.2h7.7v1h-7.7zM623.6 752.9l2 0.5v1l-2-0.5zM625.2 753.5l1.1-0.8v1l-1.1 0.8zM625.6 737.5h1v16.1h-1zM625.8 737.2h2v1h-2zM619.7 748.2h4.2v1h-4.2zM623.1 741.8h1v7.1h-1zM619.8 741.5h4v1h-4zM619.5 741.8h1l-0.1 7h-1zM619.4 748.5h1v2.1h-1zM130 745h1v2h-1zM130 751h1v2h-1zM445 745h1v2h-1zM445 751h1v3h-1zM445.1 753.3h1l-1.2 3.4h-1zM629 745h1v2h-1zM629 751h1v3h-1zM629.1 753.3h1l-1.2 3.4h-1zM527 751h1v3h-1zM527.1 753.3h1l-1.2 3.4h-1zM166.9 778.2h1l-1.7 5.9h-1zM171.1 778.1h1l1.8 6h-1zM169.1 769.3h1l-2.2 8.6h-1zM169.3 769.9h1l1.9 8.5h-1zM169 769.3h1l0.4 1h-1zM167.1 777.8h4.8v1h-4.8zM177 777.1h1v7h-1zM177.4 776.8l3.9-0.1v1l-3.9 0.1zM180.9 776.8l1.9-0.5v1l-1.9 0.5zM182.4 776.5l1.2-0.9v1l-1.2 0.9zM183.7 775h1l-0.9 1.4h-1zM183.9 773.5h1l-0.3 1.9h-1zM183.8 771.8h1l0.1 2.1h-1zM183.2 770.7h1l0.7 1.5h-1zM182.7 769.3l1.3 1.3v1l-1.3-1.3zM181.4 769l1.7 0.6v1l-1.7-0.6zM177.4 769l4.4 0.1v1l-4.4-0.1zM177.1 769.3h1l-0.1 8.1h-1zM187.7 769h5.2v1h-5.2zM187.5 769.3h1l-0.1 7.4h-1zM187.4 776.3h1v7.8h-1zM187.7 776h4.4v1h-4.4zM202.7 767.8h3.6v1h-3.6zM205.2 772.7h1v0.6h-1zM199.5 782.2h1l-0.5 2.2h-1zM199.9 778.9h1l-0.4 3.7h-1zM200 776.2h1l-0.1 3.1h-1zM200 770.3h1v6.4h-1zM200.3 770.1h2.9v1h-2.9zM205.8 770.4h1l-0.6 2.8h-1zM198.9 777.9h1l-1.5 6h-1zM201.9 779.4h1v4.3h-1zM202.2 782.9l3.1 0.6v1l-3.1-0.6zM204.9 782.8h1l-0.4 1.4h-1zM204.9 781.8h1l-0.1 1.4h-1zM205.5 781.5h1l0.5 1.9h-1zM204.8 779.4h1l0.8 2.5h-1zM201.2 773.6l1.7-0.2v1l-1.7 0.2zM202.5 766.4h1v2.2h-1zM202.8 770.1h3.6v1h-3.6zM202.5 778.1h1l0.7 1.1h-1zM203 778.8h1l0.7 2.3h-1zM202.6 773.4l2.3-0.4v1l-2.3 0.4zM205.4 774.6h1l-0.2 1.6h-1zM202.9 775.8l3.1-0.4v1l-3.1 0.4zM202.2 773.7h1l0.4 2.8h-1zM197.5 773.1h1l1.3 1.6h-1zM197.5 772.1l0.9 0.9v1l-0.9-0.9zM197.6 767h1l1.6 2.3h-1zM201.1 779.6h1l-0.4 2.5h-1zM200.8 781.7h1l-0.6 2.1h-1zM205.2 774.1h1l0.2 0.9h-1zM198.8 777.4h1l0.1 0.9h-1zM202.3 772h1v2h-1zM202.5 768h1v2.9h-1zM217.6 784l0.7-0.5v1l-0.7 0.5zM216.1 782.5l1.9 1.5v1l-1.9-1.5zM215 782h1l1 1.3h-1zM214.3 780.9h1l0.9 1.5h-1zM211.8 774.3h1.5v1h-1.5zM214.2 769.6h1v5.5h-1zM212.8 774.3h2.1v1h-2.1zM214.5 774.3l2.5 0.1v1l-2.5-0.1zM209.6 773.6h1l0.5 1.1h-1zM208.3 772.2h1l1.5 1.8h-1zM214.4 769.4h3.5v1h-3.5zM211.6 769.7h1v5.3h-1zM211.8 769.4h3.2v1h-3.2zM212.5 774.7h1l0.3 1.8h-1zM212.7 776.1h1l0.6 2.5h-1zM213.2 778.2h1l0.7 1.8h-1zM213.7 779.6h1l0.8 1.7h-1zM211.6 783.7l0.7 0.2v1l-0.7-0.2zM210.9 782.4h1l-0.6 2.1h-1zM211.3 780.3h1l-0.5 2.5h-1zM211.5 778.1h1l-0.3 2.6h-1zM211.6 774.7h1l-0.1 3.8h-1zM215.3 779.4h1l-0.9 1.9h-1zM215.7 778h1l-0.6 1.8h-1zM216.2 775.8h1l-0.6 2.6h-1zM216.4 774.7h1l-0.2 1.5h-1zM214.2 766.4h1v3.7h-1zM217.2 769.7h1l-0.3 1.7h-1zM217 771h1l-0.6 2.4h-1zM210.3 777.7h1l-1.6 6.4h-1zM209.1 766.4l1.4 1.2v1l-1.4-1.2zM209.7 767.7h1l0.9 1.6h-1zM211.9 784l2-1.7v1l-2 1.7zM214.5 780.9h1l-1.5 2.3h-1zM220 767.9h1l1.5 2.1h-1zM220.2 777.1l4.4 0.1v1l-4.4-0.1zM224.2 777.2l0.9-0.1v1l-0.9 0.1zM224 777.5h1l-0.5 1.3h-1zM223.7 778.4h1l-1.7 1.9h-1zM228.3 778.9h1l-2.6 2.6h-1zM220 781l0.6 0.3v1l-0.6-0.3zM220.3 781.4l2.5-1.7v1l-2.5 1.7zM224.8 777.1h4.7v1h-4.7zM222.4 766.5h1v5.4h-1zM223.8 774.1l2.7-0.1v1l-2.7 0.1zM222.4 783.6l3.2-1.4v1l-3.2 1.4zM223.4 769.4h3.2v1h-3.2zM222.2 780.2h1l-0.1 3.9h-1zM224 775.5h1l0.6 2.2h-1zM225.9 766.5h1l-0.1 3.6h-1zM224.9 779.5h1l1.1 2h-1zM224.4 778h1l0.7 1.9h-1zM225.8 769.6h1v5.2h-1zM220.2 773.6l2.8-2.5v1l-2.8 2.5zM222.1 784l0.7-0.7v1l-0.7 0.7zM224.7 777.2l0.5-0.2v1l-0.5 0.2zM222.4 771.6h1l-0.1 4h-1zM226.2 769.4h3v1h-3zM225.8 781.1h1l1.3 2h-1zM227.3 782.2l1.3 1.2v1l-1.3-1.2zM228.2 783.1l1.1 0.7v1l-1.1-0.7zM226.1 774h3v1h-3zM228.9 783.8l0.6-0.4v1l-0.6 0.4zM232.9 776.7h1v2.8h-1zM231.6 783.2h2.1v1h-2.1zM235.7 772.3l0.4-0.3v1l-0.4 0.3zM234.7 767h3v1h-3zM232.9 781.1h1v2.9h-1zM233.1 778.7h6.1v1h-6.1zM232.9 778.9h1v2.8h-1zM233.1 783.2h6.1v1h-6.1zM235.6 770.4h1l-0.2 2.4h-1zM235.6 772.1h5.1v1h-5.1zM234.8 770h1.5v1h-1.5zM238.4 781.2h1l0.1 2.7h-1zM237 767.2h1v3.6h-1zM235.9 770h1.8v1h-1.8zM237.2 770h3.1v1h-3.1zM239.5 767.3h1v3.4h-1zM237.2 767h3.1v1h-3.1zM231.6 772.2h4.5v1h-4.5zM238.4 778.9h1v2.8h-1zM233.1 780.9h6.1v1h-6.1zM238.8 783.2h1.9v1h-1.9zM234.5 767.2h1v3.6h-1zM232.2 770h3.1v1h-3.1zM232.1 767.3h1l-0.1 3.4h-1zM232.3 767h2.9v1h-2.9zM232.9 774.7h1v2.5h-1zM233.2 774.4h2.6v1h-2.6zM238.4 774.6h1v2.7h-1zM235.4 774.4h3.7v1h-3.7zM233.1 776.5h6.1v1h-6.1zM238.4 776.7h1v2.8h-1zM235.4 772.5h1l-0.3 2.6h-1zM247.4 773.8h1l-0.2 2.9h-1zM247.3 776.3h1l-0.3 1.7h-1zM247.1 777.6h1l-0.4 1.4h-1zM246.8 778.6h1l-0.6 1.4h-1zM246.4 779.6h1l-0.6 1h-1zM246.1 780.2h1l-1.1 1.1h-1zM248.6 773.4h1.4v1h-1.4zM244.2 774.2h1v8.1h-1zM243.1 773.9l1.8 0.1v1l-1.8-0.1zM244.4 781.8h1l-1.1 1.2h-1zM243.6 782.6h1l-0.9 1.7h-1zM251.3 777.8h1l0.2 0.8h-1zM247.6 773.4h1.6v1h-1.6zM246.9 767.1h1l-0.4 2.8h-1zM249.2 773.7h1v6.7h-1zM249.1 779.9h1l0.3 1.1h-1zM249.6 780.3l2.1 0.1v1l-2.1-0.1zM251.5 779.8h1l-0.5 1.3h-1zM251.5 778.3h1l-0.1 1.9h-1zM249.4 773.4h2.9v1h-2.9zM248.4 766.5h1v3.4h-1zM244.5 781.3l1.8 1.8v1l-1.8-1.8zM245.9 782.8l1 0.6v1l-1-0.6zM246.5 783.2l1.1 0.3v1l-1.1-0.3zM247.2 783.5l4.9-0.2v1l-4.9 0.2zM246.8 769.2l2.3 0.1v1l-2.3-0.1zM248.4 769.5h1v4.7h-1zM245.7 773.5l2.4-0.1v1l-2.4 0.1zM248.7 769.3l3-0.1v1l-3 0.1zM242.7 767.3h1l0.8 1h-1zM243.3 767.9h1l1.3 2.8h-1zM246.6 769.5h1l-0.8 2.5h-1zM255.6 776.3h1v0.6h-1zM257.5 780.2h3.4v1h-3.4zM255.6 776.5h1v7.6h-1zM255.3 783.9l1-0.7v1l-1 0.7zM254.5 783.4l1.2 0.4v1l-1.2-0.4zM260.3 776.7h2.6v1h-2.6zM258.1 776.8l2.7-0.1v1l-2.7 0.1zM260.3 772h0.7v1h-0.7zM254.3 770.6l2-0.1v1l-2 0.1zM260.1 774.9h1v2.6h-1zM263.2 774.5l0.7-0.3v1l-0.7 0.3zM260.1 777h1v3.9h-1zM255.6 770.8h1v5.9h-1zM255.9 776.1l1.7-1v1l-1.7 1zM255.6 766.4h1v4.9h-1zM260.1 780.5h1v4.1h-1zM261.7 769.8h1l-1.6 2.8h-1zM262.2 768.5h1l-0.6 1.7h-1zM262.3 767.9h1l-0.2 1h-1zM257.4 774.2l0.6 0.3v1l-0.6-0.3zM260.2 772.3h1l-1.4 1.7h-1zM257.6 774.6l2-1.5v1l-2 1.5zM255.8 770.5h1.9v1h-1.9zM260.4 780.2l3.3-0.1v1l-3.3 0.1zM261.7 773.3l1.9 1.2v1l-1.9-1.2zM260.4 772.8h1l1.2 1.3h-1zM260.1 772.3h1l0.6 0.9h-1zM258.5 767.5l4.4 0.1v1l-4.4-0.1zM257.7 767.5h1.3v1h-1.3zM258.2 767.8h1l0.7 2.5h-1zM258.7 769.9h1l1.5 2.7h-1zM254.4 777.3l1.9-1.2v1l-1.9 1.2zM266.3 767.7h2.3v1h-2.3zM268.2 767.8l3.6-0.6v1l-3.6 0.6zM271.4 767.3l2.5-0.7v1l-2.5 0.7zM270.5 775.6h4.4v1h-4.4zM267.1 771.6h1l0.5 2.1h-1zM266.6 770.1h1l0.6 1.9h-1zM269.4 769.4h1l0.4 2h-1zM269.7 771h1l0.3 2.1h-1zM265.8 775.6h4.5v1h-4.5zM269.8 775.6h0.8v1h-0.8zM265.6 782.7l0.6 0.3v1l-0.6-0.3zM269.9 776h1l-0.1 8.6h-1zM269.9 773.9h1v2.4h-1zM273.3 769.5h1l-1.6 5h-1zM270.1 775.6h0.9v1h-0.9zM269.6 776h1l-0.6 1.8h-1zM269.2 777.4h1l-1.4 2.9h-1zM268.1 779.9h1l-1.5 2.2h-1zM266.9 781.7h1l-1.5 1.9h-1zM274.1 782.2l1.1 0.7v1l-1.1-0.7zM272 780.4h1l1.9 2.7h-1zM270.7 777.8h1l1.6 3h-1zM270.2 776.5h1l0.7 1.7h-1zM283.1 774.4h2.6v1h-2.6zM278.5 766.4h1v4.5h-1zM278.5 772.4h1l-0.1 12.1h-1zM279.3 774.5h1l0.3 1.8h-1zM278.7 772.6h1l0.7 2.3h-1zM277.3 770.2h1.8v1h-1.8zM278.8 770.2h1.6v1h-1.6zM280.2 778.8l3.3-0.1v1l-3.3 0.1zM283 778.7h3.4v1h-3.4zM280.6 770.2h3v1h-3zM277.6 776.6h1l-0.8 3.1h-1zM278.2 772.5h1l-0.7 4.5h-1zM280.9 774.4h2.7v1h-2.7zM278.7 771.7l0.5 0.5v1l-0.5-0.5zM278.4 770.6h1v2h-1zM284.1 770.1h2v1h-2zM282.8 779.1h1v5.5h-1zM282.8 774.6h1v4.9h-1zM282.8 770.4h1v4.8h-1zM285 766.6h1l-1.1 3.8h-1zM280.9 766.7h1l1 3.1h-1zM283.1 770.2l1.4-0.1v1l-1.4 0.1zM290.1 779.7h1l-2.3 4.2h-1zM291.1 777.2h1l-1.2 2.9h-1zM291.7 775.3h1l-0.7 2.3h-1zM291.8 773.1h1l-0.2 2.6h-1zM291.7 771.8h1l0.1 1.7h-1zM291.4 770.8h1l0.4 1.4h-1zM291 770h1l0.6 1.2h-1zM290.8 769l1 0.9v1l-1-0.9zM290 768.9l1.2 0.4v1l-1.2-0.4zM289.3 769.2l1.1-0.2v1l-1.1 0.2zM288.5 770l1.2-1v1l-1.2 1zM288.4 770.1h1l-0.9 1.4h-1zM288.2 783.2l4.8 0.1v1l-4.8-0.1zM287.8 783.5l0.7-0.4v1l-0.7 0.4zM304.1 766.6h1l0.5 3h-1zM303.2 777h1l0.3 4.6h-1zM302.7 772.9h1l0.5 4.5h-1zM305.3 783h3.1v1h-3.1zM302.2 770.1h5.6v1h-5.6zM300 771.8h1l-1.4 3.6h-1zM300.1 771.5h1l0.1 13h-1zM300.3 770.7h1l-0.2 1.2h-1zM300.7 769.3h1l-0.5 1.8h-1zM301.3 766.6h1l-0.7 3.1h-1zM301.8 783h4v1h-4zM305.7 778.3h1l-0.6 5.3h-1zM306.2 772.7h1l-0.6 6h-1zM311.7 776.7h1v2.8h-1zM310.4 783.2h2.1v1h-2.1zM314.5 772.3l0.4-0.3v1l-0.4 0.3zM313.5 767h3v1h-3zM311.7 781.1h1v2.9h-1zM311.9 778.7h6.1v1h-6.1zM311.7 778.9h1v2.8h-1zM311.9 783.2h6.1v1h-6.1zM314.4 770.4h1l-0.2 2.4h-1zM314.4 772.1h5.1v1h-5.1zM313.6 770h1.5v1h-1.5zM317.2 781.2h1l0.1 2.7h-1zM315.8 767.2h1v3.6h-1zM314.7 770h1.8v1h-1.8zM316 770h3.1v1h-3.1zM318.3 767.3h1v3.4h-1zM316 767h3.1v1h-3.1zM310.4 772.2h4.5v1h-4.5zM317.2 778.9h1v2.8h-1zM311.9 780.9h6.1v1h-6.1zM317.6 783.2h1.9v1h-1.9zM313.3 767.2h1v3.6h-1zM311 770h3.1v1h-3.1zM310.9 767.3h1l-0.1 3.4h-1zM311.1 767h2.9v1h-2.9zM311.7 774.7h1v2.5h-1zM312 774.4h2.6v1h-2.6zM317.2 774.6h1v2.7h-1zM314.2 774.4h3.7v1h-3.7zM311.9 776.5h6.1v1h-6.1zM317.2 776.7h1v2.8h-1zM314.2 772.5h1l-0.3 2.6h-1zM323.4 777.8h6v1h-6zM328.6 778.1h1v5.6h-1zM323.4 772.5h6v1h-6zM321.8 783l2.1-0.1v1l-2.1 0.1zM328.8 782.9h2.3v1h-2.3zM323.2 767.7h1v5.5h-1zM323.4 767.4h6v1h-6zM328.6 767.7h1v5.5h-1zM323.2 778.1h1v5.6h-1zM323.4 782.9h6v1h-6zM323.2 772.8h1v5.8h-1zM328.6 772.8h1v5.8h-1zM333.6 778.2h1l-1.7 5.9h-1zM337.9 778.1h1l1.8 6h-1zM335.8 769.3h1l-2.1 8.6h-1zM336 769.9h1l1.9 8.5h-1zM335.7 769.3h1l0.5 1h-1zM333.9 777.8h4.8v1h-4.8zM343.7 777.1h1v7h-1zM344.1 776.8l3.6-0.1v1l-3.6 0.1zM347.3 776.8l1.7-0.5v1l-1.7 0.5zM348.6 776.5l1.2-0.9v1l-1.2 0.9zM349.9 775h1l-0.9 1.4h-1zM350 773.5h1l-0.3 1.9h-1zM349.9 771.8h1l0.1 2.1h-1zM349.4 770.7h1l0.6 1.5h-1zM348.9 769.3l1.3 1.3v1l-1.3-1.3zM347.8 769l1.5 0.6v1l-1.5-0.6zM344.1 769l4.1 0.1v1l-4.1-0.1zM343.8 769.3h1l-0.1 8.1h-1zM353.8 769h4.5v1h-4.5zM353.6 769.3h1l-0.1 7.4h-1zM353.5 776.3h1v7.8h-1zM353.8 776h3.8v1h-3.8zM368.6 767.8h3.6v1h-3.6zM371.1 772.7h1v0.6h-1zM365.4 782.2h1l-0.5 2.2h-1zM365.8 778.9h1l-0.4 3.7h-1zM365.9 776.2h1l-0.1 3.1h-1zM365.9 770.3h1v6.4h-1zM366.2 770.1h2.9v1h-2.9zM371.7 770.4h1l-0.6 2.8h-1zM364.8 777.9h1l-1.5 6h-1zM367.8 779.4h1v4.3h-1zM368.1 782.9l3.1 0.6v1l-3.1-0.6zM370.8 782.8h1l-0.4 1.4h-1zM370.8 781.8h1l-0.1 1.4h-1zM371.4 781.5h1l0.5 1.9h-1zM370.7 779.4h1l0.8 2.5h-1zM367.1 773.6l1.7-0.2v1l-1.7 0.2zM368.4 766.4h1v2.2h-1zM368.7 770.1h3.6v1h-3.6zM368.4 778.1h1l0.7 1.1h-1zM368.9 778.8h1l0.7 2.3h-1zM368.5 773.4l2.3-0.4v1l-2.3 0.4zM371.3 774.6h1l-0.2 1.6h-1zM368.8 775.8l3.1-0.4v1l-3.1 0.4zM368.1 773.7h1l0.4 2.8h-1zM363.4 773.1h1l1.3 1.6h-1zM363.4 772.1l0.9 0.9v1l-0.9-0.9zM363.5 767h1l1.6 2.3h-1zM367 779.6h1l-0.4 2.5h-1zM366.7 781.7h1l-0.6 2.1h-1zM371.1 774.1h1l0.2 0.9h-1zM364.7 777.4h1l0.1 0.9h-1zM368.2 772h1v2h-1zM368.4 768h1v2.9h-1zM383.5 784l0.7-0.5v1l-0.7 0.5zM382 782.5l1.9 1.5v1l-1.9-1.5zM380.9 782h1l1 1.3h-1zM380.2 780.9h1l0.9 1.5h-1zM377.7 774.3h1.5v1h-1.5zM380.1 769.6h1v5.5h-1zM378.7 774.3h2.1v1h-2.1zM380.4 774.3l2.5 0.1v1l-2.5-0.1zM375.5 773.6h1l0.5 1.1h-1zM374.2 772.2h1l1.5 1.8h-1zM380.3 769.4h3.5v1h-3.5zM377.5 769.7h1v5.3h-1zM377.7 769.4h3.2v1h-3.2zM378.4 774.7h1l0.3 1.8h-1zM378.6 776.1h1l0.6 2.5h-1zM379.1 778.2h1l0.7 1.8h-1zM379.6 779.6h1l0.8 1.7h-1zM377.5 783.7l0.7 0.2v1l-0.7-0.2zM376.8 782.4h1l-0.6 2.1h-1zM377.2 780.3h1l-0.5 2.5h-1zM377.4 778.1h1l-0.3 2.6h-1zM377.5 774.7h1l-0.1 3.8h-1zM381.2 779.4h1l-0.9 1.9h-1zM381.6 778h1l-0.6 1.8h-1zM382.1 775.8h1l-0.6 2.6h-1zM382.3 774.7h1l-0.2 1.5h-1zM380.1 766.4h1v3.7h-1zM383.1 769.7h1l-0.3 1.7h-1zM382.9 771h1l-0.6 2.4h-1zM376.2 777.7h1l-1.6 6.4h-1zM375 766.4l1.4 1.2v1l-1.4-1.2zM375.6 767.7h1l0.9 1.6h-1zM377.8 784l2-1.7v1l-2 1.7zM380.4 780.9h1l-1.5 2.3h-1zM385.9 767.9h1l1.5 2.1h-1zM386.1 777.1l4.4 0.1v1l-4.4-0.1zM390.1 777.2l0.9-0.1v1l-0.9 0.1zM389.9 777.5h1l-0.5 1.3h-1zM389.6 778.4h1l-1.7 1.9h-1zM394.2 778.9h1l-2.6 2.6h-1zM385.9 781l0.6 0.3v1l-0.6-0.3zM386.2 781.4l2.5-1.7v1l-2.5 1.7zM390.7 777.1h4.7v1h-4.7zM388.3 766.5h1v5.4h-1zM389.7 774.1l2.7-0.1v1l-2.7 0.1zM388.3 783.6l3.2-1.4v1l-3.2 1.4zM389.3 769.4h3.2v1h-3.2zM388.1 780.2h1l-0.1 3.9h-1zM389.9 775.5h1l0.6 2.2h-1zM391.8 766.5h1l-0.1 3.6h-1zM390.8 779.5h1l1.1 2h-1zM390.3 778h1l0.7 1.9h-1zM391.7 769.6h1v5.2h-1zM386.1 773.6l2.8-2.5v1l-2.8 2.5zM388 784l0.7-0.7v1l-0.7 0.7zM390.6 777.2l0.5-0.2v1l-0.5 0.2zM388.3 771.6h1l-0.1 4h-1zM392.1 769.4h3v1h-3zM391.7 781.1h1l1.3 2h-1zM393.2 782.2l1.3 1.2v1l-1.3-1.2zM394.1 783.1l1.1 0.7v1l-1.1-0.7zM392 774h3v1h-3zM394.8 783.8l0.6-0.4v1l-0.6 0.4zM398.8 776.7h1v2.8h-1zM397.5 783.2h2.1v1h-2.1zM401.6 772.3l0.4-0.3v1l-0.4 0.3zM400.6 767h3v1h-3zM398.8 781.1h1v2.9h-1zM399 778.7h6.1v1h-6.1zM398.8 778.9h1v2.8h-1zM399 783.2h6.1v1h-6.1zM401.5 770.4h1l-0.2 2.4h-1zM401.5 772.1h5.1v1h-5.1zM400.7 770h1.5v1h-1.5zM404.3 781.2h1l0.1 2.7h-1zM402.9 767.2h1v3.6h-1zM401.8 770h1.8v1h-1.8zM403.1 770h3.1v1h-3.1zM405.4 767.3h1v3.4h-1zM403.1 767h3.1v1h-3.1zM397.5 772.2h4.5v1h-4.5zM404.3 778.9h1v2.8h-1zM399 780.9h6.1v1h-6.1zM404.7 783.2h1.9v1h-1.9zM400.4 767.2h1v3.6h-1zM398.1 770h3.1v1h-3.1zM398 767.3h1l-0.1 3.4h-1zM398.2 767h2.9v1h-2.9zM398.8 774.7h1v2.5h-1zM399.1 774.4h2.6v1h-2.6zM404.3 774.6h1v2.7h-1zM401.3 774.4h3.7v1h-3.7zM399 776.5h6.1v1h-6.1zM404.3 776.7h1v2.8h-1zM401.3 772.5h1l-0.3 2.6h-1zM411.2 766.7h1l3 4h-1zM409.7 773.3h1l-0.5 3.9h-1zM409.3 776.8h1l-0.8 3.2h-1zM411.4 779.1h1l-0.1 0.9h-1zM415.8 773.3h1l1 3.4h-1zM416.7 776.3h1l0.9 3.7h-1zM411.4 771.7h1v7.8h-1zM416.4 767.8h1l-1.3 4.1h-1zM415.3 771.5h1l-1.4 3.4h-1zM414.1 774.5h1l-1.7 3.3h-1zM412.7 777.4h1l-1.1 1.8h-1zM408.6 782.2l0.6 0.2v1l-0.6-0.2zM410.1 781.3h1l-1.7 1.8h-1zM411.2 779.7h1l-1.5 2h-1zM415.5 779.5h1l0.2 1.3h-1zM415.7 780.4h1l-0.2 2.9h-1zM415.6 782.9h1l-0.4 1.3h-1zM412.4 783.8l3.5-0.3v1l-3.5 0.3zM411.2 783.1h1l1 1.4h-1zM411.3 779.6h1l0.1 3.9h-1zM425.9 767.6h1l-0.5 3.5h-1zM426.5 780.7h1l2.2 3.2h-1zM428.5 783.5h1l0.4 1.1h-1zM426.2 767.2h3v1h-3zM420.3 776.1l1.4-1.2v1l-1.4 1.2zM422.2 773.6h1l-1.4 2.2h-1zM422.8 772.2h1l-0.9 1.8h-1zM428 770.7h1v9.4h-1zM425.7 770.4l3 0.1v1l-3-0.1zM423.7 767.2h2.9v1h-2.9zM422.4 766.9h1l-0.5 1.4h-1zM422.1 767.9h1l-1.1 2.1h-1zM421.2 769.6h1l-1 1.5h-1zM423.9 770.7h1l-0.1 9.4h-1zM424.2 770.5l1.9-0.1v1l-1.9 0.1zM423.5 784l1.3-1.1v1l-1.3 1.1zM424.9 782.5h1l-0.9 1.2h-1zM425.4 781.5h1l-0.7 1.4h-1zM425.7 780.4h1l-0.5 1.5h-1zM425.9 779.1h1l-0.3 1.7h-1zM425.9 778.1h1l-0.1 1.4h-1zM425.9 773.1h1v5.4h-1zM421.6 781.6h1l-1.9 2.1h-1zM422.4 779.9h1l-1.1 2.1h-1zM423 778.2h1l-0.8 2.1h-1zM434.6 769.7l0.5-0.1v1l-0.5 0.1zM432.3 776.4h1l-0.9 1.7h-1zM432.9 775.1h1l-0.8 1.7h-1zM433 774.9h1v9.6h-1zM435 766.6h1l-0.6 3.7h-1zM437.4 775.9h3v1h-3zM431.7 769.7h3.4v1h-3.4zM434.3 770h1l-0.3 1.6h-1zM434.1 771.2h1l-1.1 3.5h-1zM433.1 774.3h1l-0.1 1h-1zM437.3 783.4h3.6v1h-3.6zM434.7 769.6h6.1v1h-6.1zM434.4 783.4h3.4v1h-3.4zM437.1 771.7h1v4.9h-1zM437.1 776.2h1v8h-1zM434.7 775.9h3.2v1h-3.2zM444.7 772h3.5v1h-3.5zM444.4 772.3h1v8.5h-1zM447.8 780.4l2.6 2.1v1l-2.6-2.1zM449.5 782.6h1l1.7 1.9h-1zM445.9 767.8l3.5 0.1v1l-3.5-0.1zM447.4 774.3h1l-0.5 4.5h-1zM447 778.4h1l-0.3 1.7h-1zM446.8 779.7h1l-0.6 1.8h-1zM446.4 781.1h1l-0.8 1.6h-1zM445.8 782.3h1l-0.9 1.1h-1zM444.5 783.5l1.2-1v1l-1.2 1zM443.5 783.9l1.4-0.7v1l-1.4 0.7zM448.6 769.1h1l-1.1 3.5h-1zM448.7 768.2h1l-0.2 1.3h-1zM446.3 766.3l0.6-0.4v1l-0.6 0.4zM445.7 768.1h1l-1 2.1h-1zM444.9 769.8h1l-1.1 2.2h-1zM444 771.6h1l-1 1.5h-1zM446.1 766.5h1l-0.5 1.4h-1zM447.8 772h3v1h-3zM450.1 772.3h1v8.5h-1zM460.9 767.1h1l1.6 2.5h-1zM457.6 781l2.6-0.8v1l-2.6 0.8zM456.4 772.2h1l-0.4 2.5h-1zM460.1 771.3h1l0.2 5.2h-1zM460.3 776.1h1l0.3 3.4h-1zM460.8 779.6h1v1.2h-1zM455.3 777.6h2.8v1h-2.8zM461.6 777.1h1l-0.9 2.9h-1zM462.4 773.1h1l-0.9 4.4h-1zM457 766.3h1v2.5h-1zM455.3 777.9l0.5-0.5v1l-0.5 0.5zM454.8 781.6l3.2-0.7v1l-3.2 0.7zM457.3 781.3h1v3.2h-1zM454.5 771l3.2-0.1v1l-3.2 0.1zM456.2 774.2l0.5-0.2v1l-0.5 0.2zM457 768.3h1v3.4h-1zM457.3 770.9l3.5 0.1v1l-3.5-0.1zM460 766.5h1l0.1 5.1h-1zM457.3 768.1l2.4-0.1v1l-2.4 0.1zM462.9 780.2h1l0.1 3h-1zM463 782.8h1l-0.2 1.2h-1zM462.3 783.6l1.2-0.3v1l-1.2 0.3zM461.4 783.1h1l0.7 1.1h-1zM461.1 782.3h1l0.5 1.2h-1zM460.7 780.4h1l0.6 2.3h-1zM460.4 771l3.3-0.1v1l-3.3 0.1zM456.2 774.1h4v1h-4zM454.6 774.1h2.1v1h-2.1zM457.3 775.8h1v2.5h-1zM457.3 777.8h1v3.9h-1zM455.9 775h1l-0.8 3.3h-1zM457.5 777.6h2.4v1h-2.4zM459.5 783.5h1l-0.9 0.9h-1zM460.2 781.9h1l-1 2h-1zM460.6 780.6h1l-0.6 1.7h-1zM455 768h2.8v1h-2.8zM472.8 783.5l1.6 0.3v1l-1.6-0.3zM474.1 783.5h1l-0.5 1h-1zM474 766.6h1v17.3h-1zM472.5 768.4h1v11.7h-1zM468.2 767.8h1v12h-1zM468.5 767.5l3.3 0.1v1l-3.3-0.1zM471.1 767.9h1v11.9h-1zM466.8 770.4h1l-0.2 1.6h-1zM467.5 766.6h1l-0.8 4.2h-1zM466.7 771.6h1l-1.3 3.7h-1zM466.6 771.6h1l0.1 12.9h-1zM469.9 780.8h1l0.8 1.4h-1zM470.5 781.8h1l0.8 2.3h-1zM469.7 770.2h1l-0.1 7.3h-1zM469.7 777.1h1l-0.2 2.8h-1zM469.5 779.5h1l-0.3 1.7h-1zM469.3 780.8h1l-0.6 2.1h-1zM468.9 782.5h1l-0.9 1.8h-1zM298.5 617.6l1.7 0.1v1l-1.7-0.1zM299.9 617.7l2.6-0.5v1l-2.6 0.5zM302.1 617.3l1.8-0.5v1l-1.8 0.5zM301.5 623.7h3.1v1h-3.1zM299 620.7h1l0.4 1.7h-1zM298.7 619.5h1l0.4 1.6h-1zM300.6 619h1l0.3 1.6h-1zM300.8 620.2h1l0.2 1.8h-1zM298.2 623.7h3.3v1h-3.3zM300.9 623.7h0.8v1h-0.8zM298.1 629l0.6 0.3v1l-0.6-0.3zM300.9 624h1v6.7h-1zM300.9 622.4h1v2h-1zM303.3 619.1h1l-1.1 3.9h-1zM301.1 623.7h0.8v1h-0.8zM300.8 624h1l-0.5 1.6h-1zM300.5 625.2h1l-1 2.2h-1zM299.7 627h1l-1 1.8h-1zM299 628.4h1l-1.2 1.5h-1zM302.3 627.4h1l2 2.4h-1zM301.5 625.4h1l1.1 2.4h-1zM301.1 624.4h1l0.6 1.4h-1zM310.4 622.8l1.9-0.1v1l-1.9 0.1zM307.1 616.7h1v3.5h-1zM307.1 621.3h1v9.4h-1zM307.6 622.9h1l0.3 1.4h-1zM307.2 621.5h1l0.5 1.8h-1zM306.4 619.6h1.4v1h-1.4zM307.4 619.6l1.2-0.1v1l-1.2 0.1zM308.4 626.1h2.4v1h-2.4zM310.3 626.1h2.5v1h-2.5zM308.6 619.5h2.3v1h-2.3zM306.5 624.5h1l-0.6 2.5h-1zM306.9 621.4h1l-0.5 3.5h-1zM308.8 622.8h2.1v1h-2.1zM306.9 621.2h1l0.4 0.5h-1zM307.1 619.9h1l-0.1 1.6h-1zM311 619.5h1.6v1h-1.6zM310.1 626.4h1v4.3h-1zM310.1 623h1v3.8h-1zM310.1 619.8h1v3.7h-1zM311.6 616.9h1l-0.8 2.9h-1zM308.8 616.9h1l0.6 2.5h-1zM310.4 619.5h1.1v1h-1.1zM316.3 620.5h1l-2.2 2.6h-1zM316.1 620.4h1v10.3h-1zM918.5 175.7l1.8 0.1v1l-1.8-0.1zM919.9 175.8l2.6-0.5v1l-2.6 0.5zM922.1 175.4l1.8-0.5v1l-1.8 0.5zM921.5 181.8h3.1v1h-3.1zM919 178.8h1l0.4 1.7h-1zM918.7 177.6h1l0.4 1.6h-1zM920.6 177.1h1l0.3 1.6h-1zM920.8 178.3h1l0.2 1.8h-1zM918.2 181.8h3.3v1h-3.3zM920.9 181.8h0.8v1h-0.8zM918.1 187.1l0.6 0.3v1l-0.6-0.3zM920.9 182.1h1v6.7h-1zM920.9 180.5h1v2h-1zM923.3 177.2h1l-1.1 3.9h-1zM921.1 181.8h0.8v1h-0.8zM920.8 182.1h1l-0.5 1.6h-1zM920.5 183.3h1l-1 2.2h-1zM919.7 185.1h1l-1 1.8h-1zM919 186.5h1l-1.2 1.5h-1zM922.3 185.5h1l2 2.4h-1zM921.5 183.5h1l1.1 2.4h-1zM921.1 182.5h1l0.6 1.4h-1zM930.4 180.9l1.9-0.1v1l-1.9 0.1zM927.1 174.8h1v3.5h-1zM927.1 179.4h1v9.4h-1zM927.6 181h1l0.3 1.4h-1zM927.2 179.6h1l0.5 1.8h-1zM926.4 177.7h1.4v1h-1.4zM927.4 177.7l1.2-0.1v1l-1.2 0.1zM928.4 184.2h2.4v1h-2.4zM930.3 184.2h2.5v1h-2.5zM928.6 177.6h2.3v1h-2.3zM926.5 182.6h1l-0.6 2.5h-1zM926.9 179.5h1l-0.5 3.5h-1zM928.8 180.9h2.1v1h-2.1zM926.9 179.3h1l0.4 0.5h-1zM927.1 178h1l-0.1 1.6h-1zM931 177.6h1.6v1h-1.6zM930.1 184.5h1v4.3h-1zM930.1 181.1h1v3.8h-1zM930.1 177.9h1v3.7h-1zM931.6 175h1l-0.8 2.9h-1zM928.8 175h1l0.6 2.5h-1zM930.4 177.6h1.1v1h-1.1zM936.2 185.2h1l-2.1 3.2h-1zM937.2 183.3h1l-1.2 2.3h-1zM937.6 181.9h1l-0.6 1.8h-1zM937.8 180.1h1l-0.3 2.2h-1zM937.7 179.2h1l0.1 1.3h-1zM937.4 178.5h1l0.3 1.1h-1zM937 177.9h1l0.6 1h-1zM936.9 177l0.9 0.7v1l-0.9-0.7zM936.2 177l1.1 0.2v1l-1.1-0.2zM935.5 177.2l1.1-0.2v1l-1.1 0.2zM934.9 177.8l1-0.8v1l-1 0.8zM934.7 177.9h1l-0.8 1.1h-1zM934.5 187.8l4.4 0.1v1l-4.4-0.1zM934.2 188l0.7-0.3v1l-0.7 0.3zM420.1 652.9h1l-2.3 2.8h-1zM419.9 652.8h1v10.9h-1zM425.6 653.6h1l-0.7 1.9h-1zM424.8 655.7h1l-1.5 3.8h-1zM423.5 655.4l2-0.4v1l-2 0.4zM423.3 655.5l0.6-0.3v1l-0.6 0.3zM423.4 659.2l0.6-0.5v1l-0.6 0.5zM429.2 650.9h1v4.4h-1zM426.7 650.6h3.3v1h-3.3zM426.5 650.9h1v4.4h-1zM429.4 662.9h1.4v1h-1.4zM429.2 654.8h1v4.7h-1zM429.2 658.9h1v4.8h-1zM425.9 662.9h1.3v1h-1.3zM426.7 658.7h3.3v1h-3.3zM426.7 662.9h3.3v1h-3.3zM424 653.1h1l-0.9 2.9h-1zM424.8 650.3h1l-0.9 3.2h-1zM423.3 662.1l2.9-1.3v1l-2.9 1.3zM426.5 654.8h1v4.7h-1zM426.7 654.6h3.3v1h-3.3zM426.5 658.9h1v4.8h-1zM423.9 658.9l2.3-0.9v1l-2.3 0.9zM486.1 660.3h1l-2.1 3.2h-1zM487 658.6h1l-1.1 2.1h-1zM487.5 657.2h1l-0.7 1.8h-1zM487.6 655.6h1l-0.2 2h-1zM487.5 654.7h1l0.1 1.3h-1zM487.2 654h1l0.4 1.1h-1zM486.8 653.4h1l0.6 1h-1zM486.7 652.6l0.9 0.7v1l-0.9-0.7zM486.1 652.6l1 0.2v1l-1-0.2zM485.4 652.8l1.1-0.2v1l-1.1 0.2zM484.7 653.3l1.1-0.7v1l-1.1 0.7zM484.6 653.5h1l-0.9 1.1h-1zM484.4 662.8l4.3 0.1v1l-4.3-0.1zM484.1 663l0.7-0.3v1l-0.7 0.3zM493.7 653.6h1l-0.7 1.9h-1zM492.9 655.7h1l-1.5 3.8h-1zM491.6 655.4l2-0.4v1l-2 0.4zM491.4 655.5l0.6-0.3v1l-0.6 0.3zM491.5 659.2l0.6-0.5v1l-0.6 0.5zM497.3 650.9h1v4.4h-1zM494.8 650.6h3.3v1h-3.3zM494.6 650.9h1v4.4h-1zM497.5 662.9h1.4v1h-1.4zM497.3 654.8h1v4.7h-1zM497.3 658.9h1v4.8h-1zM494 662.9h1.3v1h-1.3zM494.8 658.7h3.3v1h-3.3zM494.8 662.9h3.3v1h-3.3zM492.1 653.1h1l-0.9 2.9h-1zM492.9 650.3h1l-0.9 3.2h-1zM491.4 662.1l2.9-1.3v1l-2.9 1.3zM494.6 654.8h1v4.7h-1zM494.8 654.6h3.3v1h-3.3zM494.6 658.9h1v4.8h-1zM492 658.9l2.3-0.9v1l-2.3 0.9zM565 653.5h1l-0.1 10.2h-1zM565.2 653.8h1l4.8 9.7h-1zM570 653.2h1v10.3h-1zM576.7 653.6h1l-0.7 1.9h-1zM575.9 655.7h1l-1.5 3.8h-1zM574.6 655.4l2-0.4v1l-2 0.4zM574.4 655.5l0.6-0.3v1l-0.6 0.3zM574.5 659.2l0.6-0.5v1l-0.6 0.5zM580.3 650.9h1v4.4h-1zM577.8 650.6h3.3v1h-3.3zM577.6 650.9h1v4.4h-1zM580.5 662.9h1.4v1h-1.4zM580.3 654.8h1v4.7h-1zM580.3 658.9h1v4.8h-1zM577 662.9h1.3v1h-1.3zM577.8 658.7h3.3v1h-3.3zM577.8 662.9h3.3v1h-3.3zM575.1 653.1h1l-0.9 2.9h-1zM575.9 650.3h1l-0.9 3.2h-1zM574.4 662.1l2.9-1.3v1l-2.9 1.3zM577.6 654.8h1v4.7h-1zM577.8 654.6h3.3v1h-3.3zM577.6 658.9h1v4.8h-1zM575 658.9l2.3-0.9v1l-2.3 0.9zM647.3 660.8h1l-1.4 4.4h-1zM650.6 660.7h1l1.5 4.5h-1zM649 654.3h1l-1.7 6.4h-1zM649.2 654.7h1l1.5 6.4h-1zM647.5 660.4h3.9v1h-3.9zM655.2 660h1v5.2h-1zM655.5 659.7l2.7-0.1v1l-2.7 0.1zM657.8 659.7l1.3-0.4v1l-1.3 0.4zM658.7 659.5l1-0.7v1l-1 0.7zM659.5 658.4h1l-0.6 1.2h-1zM659.6 657.4h1l-0.2 1.4h-1zM659.5 656.1h1l0.1 1.7h-1zM659.2 655.3h1l0.4 1.2h-1zM658.4 654.7h1l1 1h-1zM658.1 654l1.2 0.5v1l-1.2-0.5zM655.6 654l2.9 0.1v1l-2.9-0.1zM655.3 654.3h1l-0.1 6h-1zM662.3 654h3.7v1h-3.7zM662.1 654.3h1v5.5h-1zM662.1 659.4h1v5.8h-1zM662.4 659.1h3v1h-3zM753.3 660.8h1l-1.4 4.4h-1zM756.6 660.7h1l1.5 4.5h-1zM755 654.3h1l-1.7 6.4h-1zM755.2 654.7h1l1.5 6.4h-1zM753.5 660.4h3.9v1h-3.9zM761.2 660h1v5.2h-1zM761.5 659.7l2.7-0.1v1l-2.7 0.1zM763.8 659.7l1.3-0.4v1l-1.3 0.4zM764.7 659.5l1-0.7v1l-1 0.7zM765.5 658.4h1l-0.6 1.2h-1zM765.6 657.4h1l-0.2 1.4h-1zM765.5 656.1h1l0.1 1.7h-1zM765.2 655.3h1l0.4 1.2h-1zM764.4 654.7h1l1 1h-1zM764.1 654l1.2 0.5v1l-1.2-0.5zM761.6 654l2.9 0.1v1l-2.9-0.1zM761.3 654.3h1l-0.1 6h-1zM768.3 654h3.7v1h-3.7zM768.1 654.3h1v5.5h-1zM768.1 659.4h1v5.8h-1zM768.4 659.1h3v1h-3zM671.4 654.3h1l-1.7 2.8h-1zM671.3 654.2h1v11.1h-1zM777.8 661.9h1l-2.3 3.2h-1zM778.7 660.1h1l-1.2 2.2h-1zM779.2 658.7h1l-0.6 1.8h-1zM779.4 657h1l-0.3 2.1h-1zM779.2 656.1h1l0.2 1.3h-1zM779 655.4h1l0.3 1.1h-1zM778.5 654.8h1l0.7 1h-1zM778.4 654l1 0.7v1l-1-0.7zM777.7 654l1.1 0.2v1l-1.1-0.2zM777 654.2l1.1-0.2v1l-1.1 0.2zM776.3 654.7l1.1-0.7v1l-1.1 0.7zM776.2 654.9h1l-1 1.1h-1zM775.9 664.4l4.6 0.1v1l-4.6-0.1zM775.6 664.6l0.7-0.3v1l-0.7 0.3z"/>
<path fill="#0ff" d="M198 557h137v1h-137zM334 557h1v56h-1zM198 612h137v1h-137zM198 557h1v56h-1zM273.3 586.5h1l-0.2 2.6h-1zM273.1 588.7h1l-0.7 2.5h-1zM272.5 590.8h1l-1.2 2.4h-1zM271.6 592.8h1l-1.8 2.1h-1zM268.6 595.8l2.1-1.8v1l-2.1 1.8zM266.6 596.7l2.4-1.2v1l-2.4 1.2zM264.5 597.3l2.5-0.7v1l-2.5 0.7zM262.3 597.5l2.6-0.2v1l-2.6 0.2zM260.1 597.3l2.6 0.2v1l-2.6-0.2zM258 596.6l2.5 0.7v1l-2.5-0.7zM256 595.5l2.4 1.2v1l-2.4-1.2zM254.3 594l2.1 1.8v1l-2.1-1.8zM252.4 592.8h1l1.8 2.1h-1zM251.5 590.8h1l1.2 2.4h-1zM250.9 588.7h1l0.7 2.5h-1zM250.7 586.5h1l0.2 2.6h-1zM250.9 584.3h1l-0.2 2.6h-1zM251.6 582.2h1l-0.7 2.5h-1zM252.7 580.2h1l-1.2 2.4h-1zM254.2 578.5h1l-1.8 2.1h-1zM254.3 578.4l2.1-1.8v1l-2.1 1.8zM256 576.9l2.4-1.2v1l-2.4 1.2zM258 575.8l2.5-0.7v1l-2.5 0.7zM260.1 575.1l2.6-0.2v1l-2.6 0.2zM262.3 574.9l2.6 0.2v1l-2.6-0.2zM264.5 575.1l2.5 0.7v1l-2.5-0.7zM266.6 575.7l2.4 1.2v1l-2.4-1.2zM268.6 576.6l2.1 1.8v1l-2.1-1.8zM269.8 578.5h1l1.8 2.1h-1zM271.3 580.2h1l1.2 2.4h-1zM272.4 582.2h1l0.7 2.5h-1zM273.1 584.3h1l0.2 2.6h-1zM273.3 586h10.7v1h-10.7zM278.2 578.8h1l-3.2 17.1h-1zM282.4 578.8h1l-3.2 17.1h-1zM210 612h1v47h-1zM210 658h170v1h-170zM379 584h1v75h-1zM379 584h21v1h-21zM998.1 174.3h1l-0.2 2.6h-1zM997.9 176.5h1l-0.7 2.5h-1zM997.3 178.6h1l-1.2 2.4h-1zM996.4 180.6h1l-1.8 2.1h-1zM993.4 183.6l2.1-1.8v1l-2.1 1.8zM991.4 184.5l2.4-1.2v1l-2.4 1.2zM989.3 185.1l2.5-0.7v1l-2.5 0.7zM987.1 185.3l2.6-0.2v1l-2.6 0.2zM984.9 185.1l2.6 0.2v1l-2.6-0.2zM982.8 184.4l2.5 0.7v1l-2.5-0.7zM980.8 183.3l2.4 1.2v1l-2.4-1.2zM979.1 181.8l2.1 1.8v1l-2.1-1.8zM977.2 180.6h1l1.8 2.1h-1zM976.3 178.6h1l1.2 2.4h-1zM975.7 176.5h1l0.7 2.5h-1zM975.5 174.3h1l0.2 2.6h-1zM975.7 172.1h1l-0.2 2.6h-1zM976.4 170h1l-0.7 2.5h-1zM977.5 168h1l-1.2 2.4h-1zM979 166.3h1l-1.8 2.1h-1zM979.1 166.2l2.1-1.8v1l-2.1 1.8zM980.8 164.7l2.4-1.2v1l-2.4 1.2zM982.8 163.6l2.5-0.7v1l-2.5 0.7zM984.9 162.9l2.6-0.2v1l-2.6 0.2zM987.1 162.7l2.6 0.2v1l-2.6-0.2zM989.3 162.9l2.5 0.7v1l-2.5-0.7zM991.4 163.5l2.4 1.2v1l-2.4-1.2zM993.4 164.4l2.1 1.8v1l-2.1-1.8zM994.6 166.3h1l1.8 2.1h-1zM996.1 168h1l1.2 2.4h-1zM997.2 170h1l0.7 2.5h-1zM997.9 172.1h1l0.2 2.6h-1zM965 174h44v1h-44zM987 185.3h1v11.2h-1zM978.1 187l17.1 3.2v1l-17.1-3.2zM978.1 191.2l17.1 3.2v1l-17.1-3.2zM998.1 216.3h1l-0.2 2.6h-1zM997.9 218.5h1l-0.7 2.5h-1zM997.3 220.6h1l-1.2 2.4h-1zM996.4 222.6h1l-1.8 2.1h-1zM993.4 225.6l2.1-1.8v1l-2.1 1.8zM991.4 226.5l2.4-1.2v1l-2.4 1.2zM989.3 227.1l2.5-0.7v1l-2.5 0.7zM987.1 227.3l2.6-0.2v1l-2.6 0.2zM984.9 227.1l2.6 0.2v1l-2.6-0.2zM982.8 226.4l2.5 0.7v1l-2.5-0.7zM980.8 225.3l2.4 1.2v1l-2.4-1.2zM979.1 223.8l2.1 1.8v1l-2.1-1.8zM977.2 222.6h1l1.8 2.1h-1zM976.3 220.6h1l1.2 2.4h-1zM975.7 218.5h1l0.7 2.5h-1zM975.5 216.3h1l0.2 2.6h-1zM975.7 214.1h1l-0.2 2.6h-1zM976.4 212h1l-0.7 2.5h-1zM977.5 210h1l-1.2 2.4h-1zM979 208.3h1l-1.8 2.1h-1zM979.1 208.2l2.1-1.8v1l-2.1 1.8zM980.8 206.7l2.4-1.2v1l-2.4 1.2zM982.8 205.6l2.5-0.7v1l-2.5 0.7zM984.9 204.9l2.6-0.2v1l-2.6 0.2zM987.1 204.7l2.6 0.2v1l-2.6-0.2zM989.3 204.9l2.5 0.7v1l-2.5-0.7zM991.4 205.5l2.4 1.2v1l-2.4-1.2zM993.4 206.4l2.1 1.8v1l-2.1-1.8zM994.6 208.3h1l1.8 2.1h-1zM996.1 210h1l1.2 2.4h-1zM997.2 212h1l0.7 2.5h-1zM997.9 214.1h1l0.2 2.6h-1zM987 227.3h1v11.2h-1zM978.1 229l17.1 3.2v1l-17.1-3.2zM978.1 233.2l17.1 3.2v1l-17.1-3.2zM998.1 256.3h1l-0.2 2.6h-1zM997.9 258.5h1l-0.7 2.5h-1zM997.3 260.6h1l-1.2 2.4h-1zM996.4 262.6h1l-1.8 2.1h-1zM993.4 265.6l2.1-1.8v1l-2.1 1.8zM991.4 266.5l2.4-1.2v1l-2.4 1.2zM989.3 267.1l2.5-0.7v1l-2.5 0.7zM987.1 267.3l2.6-0.2v1l-2.6 0.2zM984.9 267.1l2.6 0.2v1l-2.6-0.2zM982.8 266.4l2.5 0.7v1l-2.5-0.7zM980.8 265.3l2.4 1.2v1l-2.4-1.2zM979.1 263.8l2.1 1.8v1l-2.1-1.8zM977.2 262.6h1l1.8 2.1h-1zM976.3 260.6h1l1.2 2.4h-1zM975.7 258.5h1l0.7 2.5h-1zM975.5 256.3h1l0.2 2.6h-1zM975.7 254.1h1l-0.2 2.6h-1zM976.4 252h1l-0.7 2.5h-1zM977.5 250h1l-1.2 2.4h-1zM979 248.3h1l-1.8 2.1h-1zM979.1 248.2l2.1-1.8v1l-2.1 1.8zM980.8 246.7l2.4-1.2v1l-2.4 1.2zM982.8 245.6l2.5-0.7v1l-2.5 0.7zM984.9 244.9l2.6-0.2v1l-2.6 0.2zM987.1 244.7l2.6 0.2v1l-2.6-0.2zM989.3 244.9l2.5 0.7v1l-2.5-0.7zM991.4 245.5l2.4 1.2v1l-2.4-1.2zM993.4 246.4l2.1 1.8v1l-2.1-1.8zM994.6 248.3h1l1.8 2.1h-1zM996.1 250h1l1.2 2.4h-1zM997.2 252h1l0.7 2.5h-1zM997.9 254.1h1l0.2 2.6h-1zM965 256h44v1h-44zM987 267.3h1v11.2h-1zM978.1 269l17.1 3.2v1l-17.1-3.2zM978.1 273.2l17.1 3.2v1l-17.1-3.2zM987 267.5h1v240.5h-1zM952 507h36v1h-36z"/>
<path fill="#f0f" d="M221 564.5h1v9.5h-1zM221 579.5h1v12h-1zM221 597h1v12h-1zM213.1 578.2l1.7-1.5v1l-1.7 1.5zM214.4 577l1.8-1.1v1l-1.8 1.1zM215.8 576.1l1.9-0.9v1l-1.9 0.9zM217.3 575.4l2.1-0.6v1l-2.1 0.6zM219 574.9l2-0.3v1l-2 0.3zM220.6 574.6h2.1v1h-2.1zM228 576.5l2 1.7v1l-2-1.7zM229.1 578.4h1l1.7 2h-1zM230.5 580h1l1.2 2.3h-1zM231.6 581.9h1l0.8 2.4h-1zM232.3 583.9h1l0.3 2.5h-1zM232.6 586h1l-0.1 2.5h-1zM211.5 593.4h1l1.5 1.7h-1zM210.6 591.9h1l1.2 1.9h-1zM209.9 590.3h1l0.9 2h-1zM209.5 588.6h1l0.6 2.1h-1zM209.4 586.8h1l0.2 2.2h-1zM209.5 585.1h1l-0.1 2.1h-1zM227.3 596.3l1.9-1.4v1l-1.9 1.4zM225.8 597l1.9-1v1l-1.9 1zM224.1 597.5l2.1-0.7v1l-2.1 0.7zM222.4 597.8l2.1-0.4v1l-2.1 0.4zM220.6 597.8l2.2-0.1v1l-2.2 0.1zM218.9 597.5l2.1 0.3v1l-2.1-0.3zM232.3 586h10.7v1h-10.7zM237.2 578.8h1l-1.2 6.9h-1zM235.4 587.3h1l-0.5 2.9h-1zM241.4 578.8h1l-1.2 6.9h-1zM239.6 587.3h1l-0.4 2.9h-1zM303 564.5h1v9.5h-1zM303 579.5h1v12h-1zM303 597h1v12h-1zM295.1 578.2l1.7-1.5v1l-1.7 1.5zM296.4 577l1.8-1.1v1l-1.8 1.1zM297.8 576.1l1.9-0.9v1l-1.9 0.9zM299.3 575.4l2.1-0.6v1l-2.1 0.6zM301 574.9l2-0.3v1l-2 0.3zM302.6 574.6h2.1v1h-2.1zM310 576.5l2 1.7v1l-2-1.7zM311.1 578.4h1l1.7 2h-1zM312.5 580h1l1.2 2.3h-1zM313.6 581.9h1l0.8 2.4h-1zM314.3 583.9h1l0.3 2.5h-1zM314.6 586h1l-0.1 2.5h-1zM293.5 593.4h1l1.5 1.7h-1zM292.6 591.9h1l1.2 1.9h-1zM291.9 590.3h1l0.9 2h-1zM291.5 588.6h1l0.6 2.1h-1zM291.4 586.8h1l0.2 2.2h-1zM291.5 585.1h1l-0.1 2.1h-1zM309.3 596.3l1.9-1.4v1l-1.9 1.4zM307.8 597l1.9-1v1l-1.9 1zM306.1 597.5l2.1-0.7v1l-2.1 0.7zM304.4 597.8l2.1-0.4v1l-2.1 0.4zM302.6 597.8l2.2-0.1v1l-2.2 0.1zM300.9 597.5l2.1 0.3v1l-2.1-0.3zM314.3 586h10.7v1h-10.7zM319.2 578.8h1l-1.2 6.9h-1zM317.4 587.3h1l-0.5 2.9h-1zM323.4 578.8h1l-1.2 6.9h-1zM321.6 587.3h1l-0.4 2.9h-1z"/>
</svg>
</body></html>
